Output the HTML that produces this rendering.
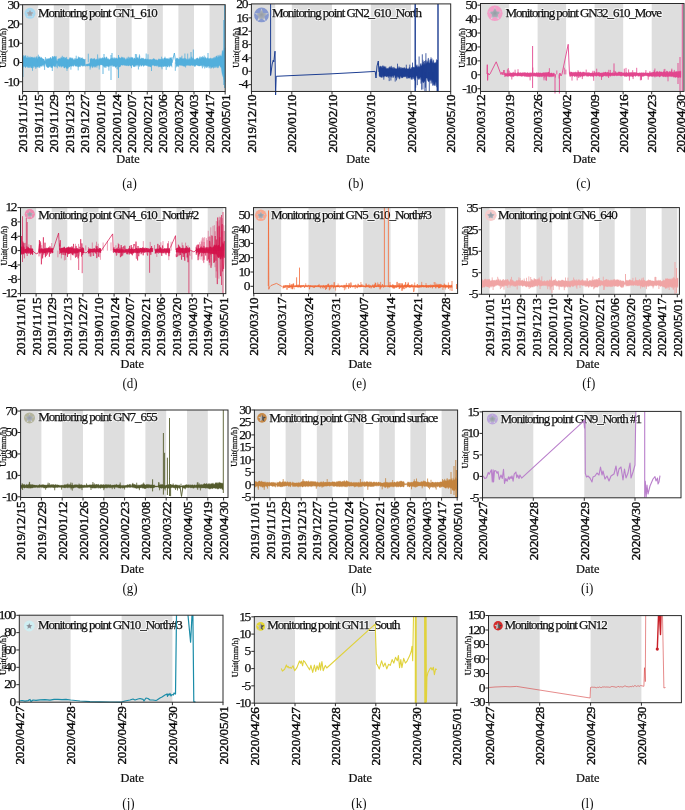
<!DOCTYPE html><html><head><meta charset="utf-8"><style>html,body{margin:0;padding:0;background:#fff;}svg{display:block;will-change:transform;}text{font-family:"Liberation Serif",serif;}.t{fill:#111;stroke:#111;stroke-width:0.25px;}.t2{fill:#0a0a0a;stroke:#0a0a0a;stroke-width:0.38px;}</style></head><body>
<svg width="685" height="810" viewBox="0 0 685 810">
<defs><radialGradient id="sgA" cx="0.5" cy="0.5" r="0.5"><stop offset="0" stop-color="#959ba4"/><stop offset="0.6" stop-color="#a9afb8"/><stop offset="1" stop-color="#dfe2e6"/></radialGradient><linearGradient id="sgB" x1="0" y1="0" x2="1" y2="0"><stop offset="0" stop-color="#e2e2e2"/><stop offset="0.5" stop-color="#a8a8a8"/><stop offset="0.5" stop-color="#6a6a6a"/><stop offset="1" stop-color="#2a2a2a"/></linearGradient><radialGradient id="sgC" cx="0.5" cy="0.5" r="0.5"><stop offset="0" stop-color="#80858e"/><stop offset="1" stop-color="#a4a8b0"/></radialGradient>
<clipPath id="ca"><rect x="22.6" y="4.2" width="202.6" height="92.8"/></clipPath>
<clipPath id="cb"><rect x="251.4" y="3.4" width="199.29999999999998" height="93.55"/></clipPath>
<clipPath id="cc"><rect x="480.5" y="3.0" width="203.5" height="93.95"/></clipPath>
<clipPath id="cd"><rect x="20.5" y="207.1" width="205.3" height="92.00000000000003"/></clipPath>
<clipPath id="ce"><rect x="253.5" y="207.1" width="204.10000000000002" height="91.85"/></clipPath>
<clipPath id="cf"><rect x="481.5" y="207.1" width="197.89999999999998" height="92.70000000000002"/></clipPath>
<clipPath id="cg"><rect x="20.6" y="409.5" width="207.4" height="93.5"/></clipPath>
<clipPath id="ch"><rect x="254.4" y="409.5" width="203.20000000000002" height="93.60000000000002"/></clipPath>
<clipPath id="ci"><rect x="482.5" y="410.9" width="198.5" height="92.40000000000003"/></clipPath>
<clipPath id="cj"><rect x="19.3" y="614.7" width="203.7" height="93.0"/></clipPath>
<clipPath id="ck"><rect x="254.3" y="616.1" width="202.7" height="92.60000000000002"/></clipPath>
<clipPath id="cl"><rect x="488.5" y="615.1" width="192.89999999999998" height="93.10000000000002"/></clipPath>
</defs>
<rect x="22.60" y="4.70" width="15.58" height="86.80" fill="#dedede"/>
<rect x="53.76" y="4.70" width="15.58" height="86.80" fill="#dedede"/>
<rect x="84.92" y="4.70" width="15.58" height="86.80" fill="#dedede"/>
<rect x="116.08" y="4.70" width="15.58" height="86.80" fill="#dedede"/>
<rect x="147.24" y="4.70" width="15.58" height="86.80" fill="#dedede"/>
<rect x="178.40" y="4.70" width="15.58" height="86.80" fill="#dedede"/>
<rect x="209.56" y="4.70" width="15.58" height="86.80" fill="#dedede"/>
<circle cx="30" cy="13.3" r="5.5" fill="#a8d8ef"/>
<path d="M30.00,9.25 31.14,12.09 34.18,12.29 31.84,14.25 32.59,17.21 30.00,15.59 27.41,17.21 28.16,14.25 25.82,12.29 28.86,12.09Z" fill="url(#sgA)"/>
<text x="38.1" y="16.6" font-size="13" letter-spacing="-1.05" fill="#fff" stroke="#fff" stroke-width="2.2" stroke-opacity="0.7" stroke-linejoin="round">Monitoring point GN1_610</text>
<text x="38.1" y="16.6" font-size="13" letter-spacing="-1.05" class="t">Monitoring point GN1_610</text>
<path d="M22.8,57.4 23.3,57.2 23.8,55 24.3,57 24.8,55.9 25.3,56.2 25.8,55.1 26.3,57.3 26.8,57.7 27.3,57.9 27.8,55.7 28.3,57.3 28.8,57.4 29.3,57.7 29.8,56.7 30.3,56.7 30.8,58.3 31.3,57.1 31.8,57.2 32.3,56.9 32.8,57.8 33.3,57.4 33.8,57.8 34.3,58.2 34.8,56.7 35.3,58.7 35.8,57.3 36.3,58 36.8,56.4 37.3,58.8 37.8,58.4 38.3,56.9 38.8,57 39.3,57 39.8,56.3 40.3,57.9 40.8,57.5 41.3,57.1 41.8,58 42.3,58.6 42.8,58.6 43.3,59 43.8,59 44.3,59.8 44.8,61 45.3,61.5 45.8,59.3 46.3,58.4 46.8,59.8 47.3,58.9 47.8,58.5 48.3,58.5 48.8,58.7 49.3,58.7 49.8,57.9 50.3,57.8 50.8,57.1 51.3,58.4 51.8,58.8 52.3,56.6 52.8,56.1 53.3,56.8 53.8,57.5 54.3,56.2 54.8,56.1 55.3,57.6 55.8,56.3 56.3,56.3 56.8,60.5 57.3,61.2 57.8,59.3 58.3,58.8 58.8,58.7 59.3,58.6 59.8,58.6 60.3,58.8 60.8,57.5 61.3,58 61.8,56.9 62.3,55.7 62.8,58.4 63.3,56.8 63.8,57.6 64.3,56.9 64.8,58.6 65.3,57.9 65.8,57.5 66.3,59.3 66.8,58.4 67.3,59.6 67.8,58.9 68.3,59.5 68.8,59.6 69.3,58.5 69.8,57.4 70.3,57.5 70.8,58.3 71.3,58.7 71.8,57.6 72.3,59.3 72.8,57.8 73.3,59.4 73.8,59.4 74.3,59.7 74.8,58.3 75.3,59.7 75.8,58.2 76.3,59.3 76.8,59 77.3,59 77.8,58.5 78.3,56.4 78.8,57.7 79.3,57.1 79.8,58.3 80.3,57.4 80.8,58.9 81.3,57.9 81.8,57.9 82.3,57.6 82.8,58.8 83.3,58.9 83.8,59 84.3,59.3 84.8,59.4 85.3,59 85.3,66.5 84.8,66.2 84.3,65.6 83.8,65.7 83.3,66.2 82.8,66.6 82.3,65.7 81.8,65.8 81.3,65.5 80.8,65.6 80.3,66.9 79.8,66.6 79.3,66.6 78.8,67.2 78.3,66.8 77.8,65.4 77.3,67.1 76.8,66.6 76.3,66.1 75.8,65.9 75.3,66.4 74.8,65.8 74.3,64.6 73.8,65.9 73.3,66.5 72.8,66.2 72.3,65.4 71.8,66.4 71.3,66.3 70.8,66.1 70.3,66.1 69.8,67 69.3,67 68.8,66.6 68.3,68.2 67.8,68.4 67.3,68.5 66.8,68.2 66.3,68.6 65.8,66.8 65.3,67.3 64.8,68 64.3,68.1 63.8,67.7 63.3,66 62.8,66.4 62.3,66.3 61.8,66.4 61.3,67.6 60.8,65.5 60.3,66.4 59.8,67.2 59.3,66.2 58.8,65.4 58.3,66.2 57.8,66.5 57.3,63.3 56.8,63.4 56.3,67 55.8,67.2 55.3,65.8 54.8,65.9 54.3,67.2 53.8,66.3 53.3,65.4 52.8,66.4 52.3,67.9 51.8,67.4 51.3,67.7 50.8,67.6 50.3,66.2 49.8,66.8 49.3,66.4 48.8,67.9 48.3,67.3 47.8,67.2 47.3,67.9 46.8,65.4 46.3,67 45.8,65.2 45.3,63.4 44.8,63.7 44.3,66.3 43.8,66.4 43.3,64.8 42.8,65.1 42.3,65.9 41.8,66.7 41.3,65.7 40.8,66.1 40.3,66.5 39.8,68.1 39.3,66.5 38.8,67.8 38.3,65.9 37.8,67.1 37.3,67.3 36.8,66.6 36.3,68.1 35.8,68.9 35.3,67 34.8,66.7 34.3,66 33.8,67.9 33.3,66 32.8,66.2 32.3,68.3 31.8,67.9 31.3,68 30.8,66.3 30.3,67.4 29.8,67.9 29.3,66.2 28.8,67.9 28.3,66.6 27.8,67.4 27.3,65.5 26.8,67 26.3,65.7 25.8,67.8 25.3,67.5 24.8,67.1 24.3,66.1 23.8,66.4 23.3,66.9 22.8,68.2Z" fill="#52afdc" fill-opacity="1" stroke="#52afdc" stroke-width="0.3" stroke-opacity="1"/>
<path d="M85.5,64.3 86,64.3 86.5,64.2 87,64.1 87.5,64 88,63.8 88.5,63.7 89,63.6 89.5,63.5 90,63.7 90,66.1 89.5,65.9 89,66.1 88.5,65.8 88,65.9 87.5,66.3 87,65.8 86.5,66 86,65.8 85.5,65.9Z" fill="#52afdc" fill-opacity="1" stroke="#52afdc" stroke-width="0.3" stroke-opacity="1"/>
<path d="M90,59 90.5,59.2 91,58.1 91.5,58.8 92,58.5 92.5,59.4 93,58.6 93.5,59.1 94,58.6 94.5,58.3 95,59 95.5,59.7 96,59.5 96.5,59.3 97,58.7 97.5,59.8 98,59.6 98.5,59.2 99,57.7 99.5,58.7 100,59 100.5,57.7 101,59.3 101.5,57.9 102,58.5 102.5,57.5 103,58.1 103.5,58.8 104,57.4 104.5,57.5 105,57.6 105.5,59 106,56.8 106.5,56.9 107,57.6 107.5,59.3 108,58.4 108.5,58.8 109,59.7 109.5,59.7 110,58.8 110.5,59.3 111,57.9 111.5,58.3 112,58.6 112.5,58.2 113,57.5 113.5,59.3 114,57.4 114.5,57.8 115,59.2 115.5,57.7 116,58.7 116.5,57.7 117,58.2 117.5,58.7 118,58.6 118.5,56.8 119,56.8 119.5,57.4 120,58 120.5,58.2 121,58 121.5,56.7 122,58 122.5,56.9 123,58.2 123.5,57.4 124,58.9 124.5,57.6 125,58.2 125.5,59.5 126,59.5 126.5,58.7 127,57.5 127.5,58.2 128,59.3 128.5,59.3 129,57.4 129.5,58.4 130,57.2 130.5,58.7 131,56.8 131.5,57.5 132,58 132.5,57.5 133,57.4 133.5,59.5 134,58.3 134.5,57.8 135,58.5 135.5,59.2 136,58.7 136.5,57.4 137,57.5 137.5,57.4 138,57.9 138.5,58.9 139,56.6 139.5,59 140,58.8 140.5,58.8 141,59 141.5,57.8 142,58.6 142.5,57.9 143,58.4 143.5,58 144,59.2 144.5,59.2 145,58.7 145.5,59 146,58.8 146.5,60 147,58.8 147.5,59 148,59.4 148.5,59.2 149,59.6 149.5,59.8 150,59.1 150.5,60 151,59 151.5,60 152,59.8 152.5,59.3 153,58.7 153.5,58.6 154,59 154.5,58.8 155,59.5 155.5,59.8 156,59.9 156.5,59.6 157,60.2 157.5,60.2 158,60.1 158.5,58.9 159,58.8 159.5,59.5 160,58.7 160.5,59.4 161,59 161.5,59.8 162,58.7 162.5,58.4 163,59.8 163.5,59 164,58 164.5,58.1 165,58 165.5,58.3 166,58.9 166.5,58.7 167,58 167.5,58.8 168,59 168.5,59.3 169,57.7 169.5,59.4 170,57.6 170.5,58.1 171,57.6 171.5,59.3 172,57.1 172,67.3 171.5,65.5 171,66 170.5,65.3 170,66.4 169.5,67.3 169,65.7 168.5,65.5 168,67.1 167.5,66.9 167,66.6 166.5,65.9 166,66.2 165.5,66.5 165,66.3 164.5,66.1 164,66.9 163.5,66.3 163,67 162.5,65.6 162,66.9 161.5,67.2 161,66 160.5,67 160,66.6 159.5,67.1 159,66.6 158.5,67.3 158,65.5 157.5,65.5 157,66.5 156.5,65.5 156,66.2 155.5,65.5 155,66.2 154.5,66 154,65.5 153.5,65 153,65.7 152.5,64.9 152,65.5 151.5,65.7 151,66.9 150.5,67.1 150,66.6 149.5,66.5 149,66.4 148.5,66.5 148,66.1 147.5,66.2 147,65 146.5,66 146,65.3 145.5,64.9 145,65.8 144.5,64.9 144,66.2 143.5,66.4 143,65.2 142.5,65 142,65.8 141.5,66.1 141,66.5 140.5,64.9 140,64.8 139.5,66.7 139,65.9 138.5,64.7 138,65.4 137.5,64.8 137,66.6 136.5,64.9 136,65.5 135.5,65.7 135,67 134.5,66.7 134,65.9 133.5,67 133,65.9 132.5,64.9 132,65.2 131.5,65.3 131,66.3 130.5,66.1 130,65.5 129.5,65 129,65.9 128.5,66.1 128,65.4 127.5,65.6 127,65.4 126.5,66.1 126,65.3 125.5,65.8 125,64.7 124.5,65.7 124,64.8 123.5,64.9 123,65.6 122.5,65.2 122,65 121.5,65 121,65.3 120.5,66.4 120,66.7 119.5,67.1 119,67.1 118.5,67 118,65.2 117.5,65.9 117,66.6 116.5,67 116,67.3 115.5,67.7 115,66.7 114.5,66.3 114,66 113.5,66.1 113,67 112.5,65.5 112,65.4 111.5,65.6 111,65.8 110.5,65.7 110,65.6 109.5,66.1 109,66.9 108.5,66.3 108,66.9 107.5,66.1 107,66.2 106.5,65.9 106,68 105.5,67.3 105,66 104.5,67.4 104,67.2 103.5,66.1 103,65.7 102.5,65 102,65.2 101.5,64.7 101,65.1 100.5,64.7 100,65.1 99.5,66.3 99,65.3 98.5,65.3 98,65.2 97.5,65.6 97,66 96.5,65.8 96,66.6 95.5,66.7 95,67.6 94.5,65.9 94,67.4 93.5,65.9 93,66.5 92.5,67.9 92,67.6 91.5,66.3 91,65.6 90.5,67.6 90,67.3Z" fill="#52afdc" fill-opacity="1" stroke="#52afdc" stroke-width="0.3" stroke-opacity="1"/>
<path d="M172,63 174.4,53 176,64" fill="none" stroke="#52afdc" stroke-width="0.9" stroke-opacity="1" stroke-linejoin="round"/>
<path d="M176,58.7 176.5,58.3 177,58.1 177.5,58.1 178,58.9 178.5,58.7 179,59.4 179.5,58.2 180,57 180.5,58.1 181,58.2 181.5,57.4 182,59.3 182.5,58.4 183,59 183.5,58.7 184,57.9 184.5,57.9 185,59.7 185.5,58.1 186,59.5 186.5,59.2 187,58.7 187.5,59.7 188,59.9 188.5,59.1 189,58.4 189.5,59.6 190,57.6 190.5,59.3 191,59.2 191.5,57.1 192,58.4 192.5,58.5 193,57.7 193.5,58.2 194,59 194.5,59.5 195,59.5 195.5,59.4 196,58.4 196.5,58.7 197,57.8 197.5,58.2 198,57.8 198.5,59.2 199,58.7 199.5,57.6 200,56.4 200.5,58.5 201,58.4 201.5,56.9 202,58.5 202.5,56.2 203,56.8 203.5,58.1 204,57 204.5,58.5 205,58.2 205.5,56.7 206,58 206.5,58.5 207,58.4 207.5,57.6 208,58.2 208.5,58.4 209,59.1 209.5,58.2 210,58.9 210.5,58 211,57.8 211.5,58.5 212,59.4 212.5,57.9 213,58.6 213.5,57.5 214,58.7 214.5,57.4 215,56.7 215.5,58.3 216,56.2 216.5,55.9 217,56.3 217.5,58 218,54.9 218.5,57.3 219,55.6 219.5,56.9 220,54.6 220.5,56.1 221,56 221,67.1 220.5,67.3 220,66.3 219.5,65.4 219,65.6 218.5,67.6 218,67.4 217.5,68.2 217,65.8 216.5,67.3 216,67.5 215.5,67.5 215,66 214.5,67.9 214,65.9 213.5,68.4 213,68 212.5,67 212,67 211.5,67.9 211,68.6 210.5,66 210,68.4 209.5,66 209,68.3 208.5,65.9 208,66.1 207.5,67.3 207,67.2 206.5,67.9 206,65.5 205.5,67.4 205,66 204.5,65.5 204,66.6 203.5,66.6 203,65.1 202.5,65.4 202,66.5 201.5,65.2 201,66.1 200.5,65.5 200,65.9 199.5,66.1 199,65.9 198.5,65.8 198,66.1 197.5,65.5 197,65.3 196.5,65.1 196,65.3 195.5,66.4 195,65.7 194.5,66.8 194,65.5 193.5,65.2 193,65.9 192.5,65.2 192,65.7 191.5,65.1 191,65.1 190.5,65.9 190,65.7 189.5,65.8 189,65.1 188.5,65.7 188,65.1 187.5,65 187,66 186.5,65.2 186,65.1 185.5,65.8 185,66.4 184.5,66.1 184,66.6 183.5,66.1 183,65.8 182.5,66 182,65 181.5,65.7 181,65.3 180.5,65.4 180,65.2 179.5,65.3 179,65.1 178.5,67.1 178,66.1 177.5,65.8 177,66.8 176.5,65.6 176,67.6Z" fill="#52afdc" fill-opacity="1" stroke="#52afdc" stroke-width="0.3" stroke-opacity="1"/>
<path d="M221,56.2 221.4,56.4 221.8,54.4 222.2,50.8 222.6,51.5 223,49.9 223.4,52.3 223.8,51.1 224.2,48.1 224.6,50.9 225,47.7 225,82 224.6,78.5 224.2,75.7 223.8,79.9 223.4,77.2 223,76.9 222.6,75.5 222.2,74.3 221.8,71.9 221.4,68.9 221,67Z" fill="#52afdc" fill-opacity="1" stroke="#52afdc" stroke-width="0.3" stroke-opacity="1"/>
<path d="M38.3,62.3V54.7M117.1,62.3V69.1M181.9,62.3V55.7M201,62.3V56.9M108.9,62.3V70.7M131.5,62.3V68.2M204.7,62.3V68.5M139.4,62.3V54.4M146.2,62.3V53.5M166.2,62.3V69.9M128.3,62.3V56.7M204.2,62.3V55.5M118,62.3V69.7M57.3,62.3V68.3M67,62.3V70.9M44.6,62.3V69.9M45.4,62.3V57.1M66.6,62.3V56.9M162,62.3V69.3M148,62.3V54.3M187.7,62.3V53.6M202.4,62.3V68.3M32.5,62.3V70.8M184.9,62.3V53.5M185.6,62.3V67.5M76.2,62.3V55.7M139.7,62.3V55.7M36.9,62.3V56.5M151.5,62.3V71M138.4,62.3V69.5M165,62.3V56.7M136.6,62.3V54.2M97.6,62.3V54.4M90.1,62.3V69.6M78.2,62.3V70.4M135.4,62.3V54M88.3,62.3V53.7M96.9,62.3V67.6M70.9,62.3V69.7M175.3,62.3V70.8M99.2,62.3V69.5M52.3,62.3V71M161.6,62.3V56.7M191.7,62.3V56.6M27.7,62.3V67.4" fill="none" stroke="#52afdc" stroke-width="0.8" stroke-opacity="1" stroke-linejoin="round"/>
<path d="M22.9,56V77M103,62V74M111,55V80M118.5,55V78M193.3,49.5V63M191,52V63M208,53V63M224.6,5V88M223.8,20V85M104,54V62M112,53V62" fill="none" stroke="#52afdc" stroke-width="0.9" stroke-opacity="1" stroke-linejoin="round"/>
<rect x="22.6" y="4.7" width="202.60" height="86.80" fill="none" stroke="#2a2a2a" stroke-width="1"/>
<line x1="19.6" y1="4.75" x2="22.6" y2="4.75" stroke="#2a2a2a" stroke-width="1"/>
<text x="18.3" y="8.55" font-size="13.5" letter-spacing="-1.35" text-anchor="end" class="t">30</text>
<line x1="19.6" y1="24.00" x2="22.6" y2="24.00" stroke="#2a2a2a" stroke-width="1"/>
<text x="18.3" y="27.80" font-size="13.5" letter-spacing="-1.35" text-anchor="end" class="t">20</text>
<line x1="19.6" y1="43.25" x2="22.6" y2="43.25" stroke="#2a2a2a" stroke-width="1"/>
<text x="18.3" y="47.05" font-size="13.5" letter-spacing="-1.35" text-anchor="end" class="t">10</text>
<line x1="19.6" y1="62.50" x2="22.6" y2="62.50" stroke="#2a2a2a" stroke-width="1"/>
<text x="18.3" y="66.30" font-size="13.5" letter-spacing="-1.35" text-anchor="end" class="t">0</text>
<line x1="19.6" y1="81.75" x2="22.6" y2="81.75" stroke="#2a2a2a" stroke-width="1"/>
<text x="18.3" y="85.55" font-size="13.5" letter-spacing="-1.35" text-anchor="end" class="t">-10</text>
<line x1="22.60" y1="91.5" x2="22.60" y2="94.5" stroke="#2a2a2a" stroke-width="1"/>
<text transform="translate(27.10,94.50) rotate(-90)" font-size="13.25" letter-spacing="-0.2" text-anchor="end" class="t2">2019/11/15</text>
<line x1="38.18" y1="91.5" x2="38.18" y2="94.5" stroke="#2a2a2a" stroke-width="1"/>
<text transform="translate(42.68,94.50) rotate(-90)" font-size="13.25" letter-spacing="-0.2" text-anchor="end" class="t2">2019/11/15</text>
<line x1="53.76" y1="91.5" x2="53.76" y2="94.5" stroke="#2a2a2a" stroke-width="1"/>
<text transform="translate(58.26,94.50) rotate(-90)" font-size="13.25" letter-spacing="-0.2" text-anchor="end" class="t2">2019/11/29</text>
<line x1="69.34" y1="91.5" x2="69.34" y2="94.5" stroke="#2a2a2a" stroke-width="1"/>
<text transform="translate(73.84,94.50) rotate(-90)" font-size="13.25" letter-spacing="-0.2" text-anchor="end" class="t2">2019/12/13</text>
<line x1="84.92" y1="91.5" x2="84.92" y2="94.5" stroke="#2a2a2a" stroke-width="1"/>
<text transform="translate(89.42,94.50) rotate(-90)" font-size="13.25" letter-spacing="-0.2" text-anchor="end" class="t2">2019/12/27</text>
<line x1="100.50" y1="91.5" x2="100.50" y2="94.5" stroke="#2a2a2a" stroke-width="1"/>
<text transform="translate(105.00,94.50) rotate(-90)" font-size="13.25" letter-spacing="-0.2" text-anchor="end" class="t2">2020/01/10</text>
<line x1="116.08" y1="91.5" x2="116.08" y2="94.5" stroke="#2a2a2a" stroke-width="1"/>
<text transform="translate(120.58,94.50) rotate(-90)" font-size="13.25" letter-spacing="-0.2" text-anchor="end" class="t2">2020/01/24</text>
<line x1="131.66" y1="91.5" x2="131.66" y2="94.5" stroke="#2a2a2a" stroke-width="1"/>
<text transform="translate(136.16,94.50) rotate(-90)" font-size="13.25" letter-spacing="-0.2" text-anchor="end" class="t2">2020/02/07</text>
<line x1="147.24" y1="91.5" x2="147.24" y2="94.5" stroke="#2a2a2a" stroke-width="1"/>
<text transform="translate(151.74,94.50) rotate(-90)" font-size="13.25" letter-spacing="-0.2" text-anchor="end" class="t2">2020/02/21</text>
<line x1="162.82" y1="91.5" x2="162.82" y2="94.5" stroke="#2a2a2a" stroke-width="1"/>
<text transform="translate(167.32,94.50) rotate(-90)" font-size="13.25" letter-spacing="-0.2" text-anchor="end" class="t2">2020/03/06</text>
<line x1="178.40" y1="91.5" x2="178.40" y2="94.5" stroke="#2a2a2a" stroke-width="1"/>
<text transform="translate(182.90,94.50) rotate(-90)" font-size="13.25" letter-spacing="-0.2" text-anchor="end" class="t2">2020/03/20</text>
<line x1="193.98" y1="91.5" x2="193.98" y2="94.5" stroke="#2a2a2a" stroke-width="1"/>
<text transform="translate(198.48,94.50) rotate(-90)" font-size="13.25" letter-spacing="-0.2" text-anchor="end" class="t2">2020/04/03</text>
<line x1="209.56" y1="91.5" x2="209.56" y2="94.5" stroke="#2a2a2a" stroke-width="1"/>
<text transform="translate(214.06,94.50) rotate(-90)" font-size="13.25" letter-spacing="-0.2" text-anchor="end" class="t2">2020/04/17</text>
<line x1="225.14" y1="91.5" x2="225.14" y2="94.5" stroke="#2a2a2a" stroke-width="1"/>
<text transform="translate(229.64,94.50) rotate(-90)" font-size="13.25" letter-spacing="-0.2" text-anchor="end" class="t2">2020/05/01</text>
<text transform="translate(6.40,48.00) rotate(-90)" font-size="8.3" text-anchor="middle" class="t">Unit(mm/h)</text>
<text transform="translate(128,163.3) scale(0.93,1)" font-size="13.3" text-anchor="middle" class="t">Date</text>
<text transform="translate(129.5,188.3) scale(0.92,1)" font-size="14.2" text-anchor="middle" fill="#111">(a)</text>
<rect x="251.50" y="3.90" width="23.70" height="87.55" fill="#dedede"/>
<rect x="291.80" y="3.90" width="40.20" height="87.55" fill="#dedede"/>
<rect x="370.80" y="3.90" width="40.20" height="87.55" fill="#dedede"/>
<circle cx="261.5" cy="14.9" r="7.4" fill="#8799d0"/>
<path d="M261.50,8.57 263.28,13.00 268.05,13.32 264.38,16.39 265.55,21.02 261.50,18.48 257.45,21.02 258.62,16.39 254.95,13.32 259.72,13.00Z" fill="url(#sgA)"/>
<text x="271.9" y="16.5" font-size="13" letter-spacing="-1.05" fill="#fff" stroke="#fff" stroke-width="2.2" stroke-opacity="0.7" stroke-linejoin="round">Monitoring point GN2_610_North</text>
<text x="271.9" y="16.5" font-size="13" letter-spacing="-1.05" class="t">Monitoring point GN2_610_North</text>
<path d="M270.6,4 270.6,75.5 272.2,64 273.3,60 273.8,62 275,51.2 275.6,95 276.2,76.3 300,75.2 330,73.9 360,72.3 375.2,71.4 376,78 377,66 378.3,61 379,72" fill="none" stroke="#1d3e92" stroke-width="1.0" stroke-opacity="1" stroke-linejoin="round"/>
<path d="M379,66 379.5,67.9 380,66.8 380.5,65.9 381,66.3 381.5,66.5 382,67.7 382.5,68.2 383,65.6 383.5,67.4 384,65.8 384.5,67.3 385,66.5 385.5,67.7 386,68.6 386.5,68.4 387,68.4 387.5,67.9 388,69 388.5,68.1 389,67.2 389.5,67.6 390,66.2 390.5,67.3 391,68 391.5,65.8 392,68.6 392.5,68 393,67 393.5,68.9 394,66.9 394.5,68.4 395,68 395.5,69 396,68.4 396.5,69 397,68.4 397.5,67.3 398,68.4 398.5,68 399,66.2 399.5,68 400,67.2 400.5,67.5 401,69 401.5,67.4 402,68.1 402.5,68.3 403,67.5 403.5,68.1 404,68.6 404.5,67.3 405,68.4 405.5,69.1 406,67.7 406.5,68 407,69 407.5,68.7 408,69 408.5,68.9 409,67.6 409.5,67.2 410,69 410.5,68.7 411,69.1 411.5,67.3 412,68.1 412.5,66.8 413,66.8 413.5,67.3 414,67.5 414.5,67.7 415,67.1 415,79 414.5,80.5 414,77.8 413.5,79 413,76.6 412.5,79.5 412,78.1 411.5,79.4 411,79.4 410.5,77.3 410,77 409.5,77.9 409,77.3 408.5,77.9 408,78 407.5,78.6 407,76.1 406.5,78.6 406,77.2 405.5,76.4 405,76.7 404.5,77.1 404,76.5 403.5,77.2 403,76.8 402.5,77.9 402,77.3 401.5,78.1 401,76.6 400.5,76.5 400,78.8 399.5,79.2 399,77.6 398.5,76.8 398,78.6 397.5,77 397,76.2 396.5,76.9 396,75.6 395.5,77.9 395,76.8 394.5,75.2 394,75.2 393.5,76.7 393,76.9 392.5,75.8 392,76 391.5,77.6 391,76.4 390.5,76 390,77.3 389.5,75.9 389,75.7 388.5,76.2 388,76.8 387.5,76 387,76.8 386.5,76.7 386,76.7 385.5,76.2 385,76 384.5,76.2 384,76.2 383.5,76.9 383,75.2 382.5,77.3 382,77.4 381.5,77.3 381,77.6 380.5,77 380,76.4 379.5,76.7 379,75.2Z" fill="#1d3e92" fill-opacity="1" stroke="#1d3e92" stroke-width="0.3" stroke-opacity="1"/>
<path d="M415,66.6 415.5,66.2 416,64.9 416.5,66.6 417,64.5 417.5,66.2 418,67.4 418.5,65.7 419,67.4 419.5,66.6 420,66.7 420.5,64 421,65.3 421.5,65.9 422,64.4 422.5,63.8 423,59.8 423.5,64.2 424,65 424.5,63.1 425,64.9 425.5,60.8 426,59.9 426.5,63.8 427,61.1 427.5,62.7 428,58.2 428.5,58.2 429,63.6 429.5,62.6 430,59.7 430.5,61.6 431,57.2 431.5,61.5 432,58.4 432.5,63.3 433,60.8 433.5,59.7 434,63.4 434.5,62.7 435,62.8 435.5,62.3 436,63.8 436.5,59.2 437,62.6 437.5,61.1 437.5,87.3 437,84.2 436.5,87.2 436,81.6 435.5,84.4 435,86 434.5,84.2 434,85.8 433.5,84 433,79.7 432.5,82 432,83.3 431.5,81.2 431,79.5 430.5,79.9 430,80.9 429.5,79.2 429,82.1 428.5,81.4 428,81.2 427.5,80 427,77.9 426.5,77.9 426,78.2 425.5,79.5 425,82.1 424.5,81.3 424,81.2 423.5,83.1 423,81.9 422.5,80.7 422,82.5 421.5,79.9 421,77.6 420.5,77.6 420,79.8 419.5,78.1 419,78.9 418.5,79.7 418,78 417.5,78.4 417,75.9 416.5,75.7 416,77.7 415.5,77 415,76.3Z" fill="#1d3e92" fill-opacity="1" stroke="#1d3e92" stroke-width="0.3" stroke-opacity="1"/>
<path d="M389.2,72V81.1M409.1,72V78.6M395.7,72V78.2M402.2,72V78.1M397.5,72V63.7M395.2,72V81.6M396.5,72V80.4M385.8,72V66.6M388.3,72V77.8M393.1,72V78M406.3,72V64.7M412.5,72V62.6M409.2,72V77.7M383.8,72V79.7M409.8,72V64.6M383.9,72V77.4M382.6,72V65.7M390.9,72V80.5" fill="none" stroke="#1d3e92" stroke-width="0.8" stroke-opacity="1" stroke-linejoin="round"/>
<path d="M433.6,72V82.1M421.6,72V89.7M435,72V63.1M432.7,72V85.7M422.3,72V54.3M421,72V83.6M415.7,72V59.7M425.9,72V53.2M422.9,72V89.4M423.3,72V82.5M417.3,72V85.2M419.1,72V56.5M424.9,72V91.3M431,72V83.6M436.6,72V80.2M429.3,72V91.5M415.7,72V87.7M433.3,72V84.7M415.3,72V80.2M431,72V59M425.4,72V87.7M424.4,72V61M423.4,72V61.8M426.1,72V91.6M420.9,72V63.2" fill="none" stroke="#1d3e92" stroke-width="0.8" stroke-opacity="1" stroke-linejoin="round"/>
<path d="M415.2,3.9V91M438,3.9V92M437.3,60V92" fill="none" stroke="#1d3e92" stroke-width="1.4" stroke-opacity="1" stroke-linejoin="round"/>
<rect x="251.4" y="3.9" width="199.30" height="87.55" fill="none" stroke="#2a2a2a" stroke-width="1"/>
<line x1="248.4" y1="4.55" x2="251.4" y2="4.55" stroke="#2a2a2a" stroke-width="1"/>
<text x="247.1" y="8.35" font-size="13.5" letter-spacing="-1.35" text-anchor="end" class="t">20</text>
<line x1="248.4" y1="17.90" x2="251.4" y2="17.90" stroke="#2a2a2a" stroke-width="1"/>
<text x="247.1" y="21.70" font-size="13.5" letter-spacing="-1.35" text-anchor="end" class="t">16</text>
<line x1="248.4" y1="31.25" x2="251.4" y2="31.25" stroke="#2a2a2a" stroke-width="1"/>
<text x="247.1" y="35.05" font-size="13.5" letter-spacing="-1.35" text-anchor="end" class="t">12</text>
<line x1="248.4" y1="44.60" x2="251.4" y2="44.60" stroke="#2a2a2a" stroke-width="1"/>
<text x="247.1" y="48.40" font-size="13.5" letter-spacing="-1.35" text-anchor="end" class="t">8</text>
<line x1="248.4" y1="57.95" x2="251.4" y2="57.95" stroke="#2a2a2a" stroke-width="1"/>
<text x="247.1" y="61.75" font-size="13.5" letter-spacing="-1.35" text-anchor="end" class="t">4</text>
<line x1="248.4" y1="71.30" x2="251.4" y2="71.30" stroke="#2a2a2a" stroke-width="1"/>
<text x="247.1" y="75.10" font-size="13.5" letter-spacing="-1.35" text-anchor="end" class="t">0</text>
<line x1="248.4" y1="84.65" x2="251.4" y2="84.65" stroke="#2a2a2a" stroke-width="1"/>
<text x="247.1" y="88.45" font-size="13.5" letter-spacing="-1.35" text-anchor="end" class="t">-4</text>
<line x1="251.50" y1="91.45" x2="251.50" y2="94.45" stroke="#2a2a2a" stroke-width="1"/>
<text transform="translate(256.00,94.45) rotate(-90)" font-size="13.25" letter-spacing="-0.2" text-anchor="end" class="t2">2019/12/10</text>
<line x1="291.80" y1="91.45" x2="291.80" y2="94.45" stroke="#2a2a2a" stroke-width="1"/>
<text transform="translate(296.30,94.45) rotate(-90)" font-size="13.25" letter-spacing="-0.2" text-anchor="end" class="t2">2020/01/10</text>
<line x1="332.00" y1="91.45" x2="332.00" y2="94.45" stroke="#2a2a2a" stroke-width="1"/>
<text transform="translate(336.50,94.45) rotate(-90)" font-size="13.25" letter-spacing="-0.2" text-anchor="end" class="t2">2020/02/10</text>
<line x1="370.80" y1="91.45" x2="370.80" y2="94.45" stroke="#2a2a2a" stroke-width="1"/>
<text transform="translate(375.30,94.45) rotate(-90)" font-size="13.25" letter-spacing="-0.2" text-anchor="end" class="t2">2020/03/10</text>
<line x1="411.00" y1="91.45" x2="411.00" y2="94.45" stroke="#2a2a2a" stroke-width="1"/>
<text transform="translate(415.50,94.45) rotate(-90)" font-size="13.25" letter-spacing="-0.2" text-anchor="end" class="t2">2020/04/10</text>
<line x1="450.70" y1="91.45" x2="450.70" y2="94.45" stroke="#2a2a2a" stroke-width="1"/>
<text transform="translate(455.20,94.45) rotate(-90)" font-size="13.25" letter-spacing="-0.2" text-anchor="end" class="t2">2020/05/10</text>
<text transform="translate(239.00,48.00) rotate(-90)" font-size="8.3" text-anchor="middle" class="t">Unit(mm/h)</text>
<text transform="translate(358,163.4) scale(0.93,1)" font-size="13.3" text-anchor="middle" class="t">Date</text>
<text transform="translate(355.9,187.5) scale(0.92,1)" font-size="14.2" text-anchor="middle" fill="#111">(b)</text>
<rect x="480.50" y="3.50" width="28.50" height="87.95" fill="#dedede"/>
<rect x="537.60" y="3.50" width="28.50" height="87.95" fill="#dedede"/>
<rect x="594.60" y="3.50" width="28.60" height="87.95" fill="#dedede"/>
<rect x="651.70" y="3.50" width="32.30" height="87.95" fill="#dedede"/>
<circle cx="494.9" cy="13.3" r="7.7" fill="#f2a0c8"/>
<path d="M494.90,7.07 496.65,11.43 501.34,11.75 497.74,14.76 498.88,19.32 494.90,16.82 490.92,19.32 492.06,14.76 488.46,11.75 493.15,11.43Z" fill="url(#sgA)"/>
<text x="505.4" y="16.5" font-size="13" letter-spacing="-1.05" fill="#fff" stroke="#fff" stroke-width="2.2" stroke-opacity="0.7" stroke-linejoin="round">Monitoring point GN32_610_Move</text>
<text x="505.4" y="16.5" font-size="13" letter-spacing="-1.05" class="t">Monitoring point GN32_610_Move</text>
<path d="M487,74 487.3,64.7 487.6,80.4 488,73 489,75 490,74 496.2,61.8 501,74.5 502,72 503,75 504,70 504.5,75" fill="none" stroke="#e2468e" stroke-width="0.9" stroke-opacity="1" stroke-linejoin="round"/>
<path d="M504.5,72.9 505,73.5 505.5,72.8 506,73.5 506.5,73.2 507,73.5 507.5,73 508,73.5 508.5,72.9 509,73.5 509.5,73.2 510,73 510.5,72.6 511,73.1 511.5,72.9 512,72.9 512.5,72.7 513,72.4 513.5,72.2 514,72.6 514.5,73 515,72.8 515.5,72.8 516,73.2 516.5,73.3 517,73 517.5,72.6 518,72.8 518.5,72.5 519,72.6 519.5,73.1 520,72.7 520.5,72.5 521,72.9 521.5,73 522,72.5 522.5,72.7 523,73.1 523.5,72.5 524,73.1 524.5,72.3 525,72.8 525.5,72.6 526,73.1 526.5,72.9 527,72.8 527.5,72.6 528,72.7 528.5,73.2 529,72.6 529.5,73 530,73.3 530.5,72.8 531,72.4 531.5,73.2 532,72.6 532.5,72.6 533,73.1 533.5,73.2 534,72.5 534.5,73.1 535,73 535.5,73.2 536,72.7 536.5,72.4 537,73.3 537.5,72.6 538,73.3 538.5,72.5 539,72.8 539.5,72.9 540,73 540.5,72.8 541,73.1 541.5,73.3 542,72.7 542.5,72.9 543,73.1 543.5,72.6 544,72.6 544.5,72.9 545,72.2 545.5,72.8 546,72.5 546.5,72.5 547,72.5 547.5,72.5 548,72.2 548.5,72 549,72.1 549.5,73 550,73 550.5,73.2 551,73 551.5,73 552,72.7 552.5,73.4 553,73.4 553.5,73 554,73.1 554.5,73.4 554.5,76 554,76.5 553.5,76.4 553,76 552.5,76.7 552,76.8 551.5,76.8 551,76.4 550.5,76.7 550,76.8 549.5,77 549,76.2 548.5,76.8 548,76.4 547.5,76.5 547,76 546.5,76.5 546,76.1 545.5,76.8 545,75.9 544.5,76.7 544,75.9 543.5,76 543,76.3 542.5,76.5 542,76.9 541.5,76.7 541,76.3 540.5,76.5 540,77.1 539.5,76.9 539,76.1 538.5,77 538,76.4 537.5,76.8 537,76.8 536.5,76.3 536,76.2 535.5,76.5 535,76 534.5,76.3 534,76 533.5,76.3 533,76.1 532.5,75.8 532,76 531.5,76.5 531,76 530.5,76.8 530,76.3 529.5,77 529,76.4 528.5,77.1 528,76.1 527.5,77.1 527,76.4 526.5,76.5 526,76.7 525.5,76.2 525,76.6 524.5,76.5 524,76.1 523.5,76.1 523,75.7 522.5,76.4 522,75.9 521.5,76.5 521,76.3 520.5,76.1 520,76.1 519.5,76 519,75.8 518.5,76 518,76.1 517.5,76 517,76.4 516.5,75.7 516,75.8 515.5,75.7 515,76 514.5,75.8 514,76.5 513.5,76.7 513,76.2 512.5,76.6 512,76.8 511.5,76.2 511,76 510.5,76.7 510,76.2 509.5,75.9 509,76 508.5,76.4 508,76.3 507.5,76.7 507,76 506.5,76 506,76.5 505.5,76 505,76.8 504.5,76.6Z" fill="#e2468e" fill-opacity="1" stroke="#e2468e" stroke-width="0.3" stroke-opacity="1"/>
<path d="M532.6,46V88M555,74V93.5M559.4,74V93.5" fill="none" stroke="#e2468e" stroke-width="0.9" stroke-opacity="1" stroke-linejoin="round"/>
<path d="M559.4,74 560,73 561,76 562,74 568.2,44.3 569.5,74.5" fill="none" stroke="#e2468e" stroke-width="0.9" stroke-opacity="1" stroke-linejoin="round"/>
<path d="M569.5,72.3 570,72.7 570.5,71.7 571,71.9 571.5,72 572,72 572.5,72.3 573,72.9 573.5,72 574,72.3 574.5,72.6 575,71.8 575.5,71.9 576,72.4 576.5,72.6 577,71.8 577.5,72.7 578,71.8 578.5,71.8 579,72 579.5,72.2 580,72.3 580.5,71.8 581,72.1 581.5,72.7 582,72.4 582.5,71.9 583,72.3 583.5,72 584,71.9 584.5,72.3 585,72.7 585.5,72.2 586,72.9 586.5,72.9 587,72.3 587.5,72.7 588,72.8 588.5,72.2 589,72.9 589.5,72.5 590,73.1 590.5,73 591,72.9 591.5,72.9 592,72.8 592.5,72.7 593,72.6 593.5,72.9 594,73 594.5,72.2 595,72.6 595.5,72.8 596,72.4 596.5,71.9 597,72.6 597.5,72.7 598,72.7 598.5,72 599,72.5 599.5,72.6 600,72.7 600.5,73.1 601,73.1 601.5,72.8 602,73 602.5,72.8 603,72.6 603.5,72.2 604,72.4 604.5,72.5 605,72.1 605.5,71.9 606,72.1 606.5,72.8 607,72.6 607.5,72 608,72.3 608.5,72.6 609,72.4 609.5,73.1 610,73.1 610.5,72.7 611,73 611.5,73.1 612,72.6 612.5,72.8 613,72.8 613.5,73.3 614,73 614.5,72.9 615,72.4 615.5,72.4 616,72.2 616.5,72.8 617,72.8 617.5,72.7 618,72.4 618.5,71.8 619,72.1 619.5,72 620,71.8 620.5,72 621,72.8 621.5,72.1 622,72.1 622.5,72.9 623,72.6 623.5,72.8 624,72.9 624.5,72.6 625,72.7 625.5,72.9 626,72.2 626.5,72.6 627,72.3 627.5,73 628,72.9 628.5,72.4 629,72.9 629.5,72.6 630,72.1 630.5,72.8 631,72.4 631.5,72.4 632,72.2 632.5,72.7 633,73 633.5,72 634,72.9 634.5,72.1 635,72.8 635.5,72.2 636,72.9 636.5,72.3 637,72.7 637.5,73 638,73.1 638.5,73 639,72.9 639.5,72.8 640,72.5 640.5,72.9 641,73.1 641.5,72.6 642,72.8 642.5,72.7 643,73 643.5,72.5 644,72.9 644.5,73.1 645,72.5 645.5,72.6 646,73.2 646.5,72.7 647,73.2 647.5,72.8 648,73.1 648.5,72.9 649,72.9 649.5,72.5 650,72.8 650.5,72.6 651,72.9 651.5,72.4 652,72 652.5,72.4 653,72.1 653.5,72.1 654,72 654.5,71.4 655,72.2 655.5,72.6 656,71.9 656.5,71.6 657,71.5 657.5,71.3 658,71.7 658.5,72 659,72.4 659.5,71.2 660,71.3 660.5,72 661,72.1 661.5,71.8 662,72 662.5,72.2 663,72.3 663.5,71.3 664,72 664.5,71.7 665,71.7 665.5,72 666,72.4 666.5,72.3 667,72.6 667.5,71.3 668,71.5 668.5,72.2 669,72.4 669.5,71.3 670,71.2 670.5,71.8 671,71.9 671.5,71.4 672,72.2 672.5,72.2 673,72.1 673.5,72.6 674,71.2 674.5,72.2 675,71.9 675.5,71.4 676,72.3 676.5,71.2 677,72 677.5,72.5 678,71.3 678.5,71.6 679,71.4 679.5,70.9 680,71.5 680.5,70.8 681,71.7 681,77.3 680.5,77.2 680,77.9 679.5,76.7 679,77.4 678.5,77.3 678,76.4 677.5,77.6 677,77.6 676.5,76.9 676,76.9 675.5,77.6 675,77.6 674.5,76.7 674,77.4 673.5,77.1 673,76.6 672.5,76.6 672,76.5 671.5,77.1 671,75.9 670.5,76.4 670,76.8 669.5,76.2 669,76.2 668.5,76.7 668,76.3 667.5,76.9 667,76.7 666.5,76.3 666,77.3 665.5,76.5 665,77 664.5,76.6 664,76.3 663.5,76.9 663,76.7 662.5,76.4 662,75.7 661.5,75.7 661,76.6 660.5,76.2 660,76.7 659.5,77 659,76.7 658.5,76.3 658,76 657.5,76.5 657,76.3 656.5,76.5 656,76.7 655.5,76 655,77.4 654.5,76.7 654,76.1 653.5,76.5 653,76.1 652.5,76.5 652,76.9 651.5,75.9 651,76.5 650.5,75.9 650,76.3 649.5,76.6 649,76.5 648.5,76.6 648,76 647.5,76.1 647,76.2 646.5,75.5 646,76.1 645.5,75.5 645,76.1 644.5,75.8 644,76.3 643.5,76.4 643,75.8 642.5,76.4 642,76.7 641.5,76.1 641,76.6 640.5,75.9 640,76.2 639.5,75.8 639,76.4 638.5,75.9 638,76.4 637.5,75.5 637,75.8 636.5,75.7 636,76.1 635.5,76.4 635,76.3 634.5,75.8 634,75.9 633.5,76.6 633,76.2 632.5,77 632,76.9 631.5,76 631,76.2 630.5,76.4 630,76 629.5,76.7 629,76 628.5,76.1 628,76.6 627.5,75.8 627,76.5 626.5,76.5 626,76.4 625.5,76.4 625,76.1 624.5,76.6 624,76.3 623.5,75.5 623,75.9 622.5,75.6 622,76.2 621.5,76 621,75.7 620.5,76 620,76 619.5,75.4 619,75.8 618.5,75.4 618,75.9 617.5,75.6 617,76 616.5,75.8 616,75.8 615.5,75.5 615,75.6 614.5,75.8 614,76 613.5,75.6 613,75.5 612.5,75.7 612,76.2 611.5,75.6 611,75.7 610.5,76.3 610,76.5 609.5,75.7 609,75.9 608.5,76.3 608,76.8 607.5,76 607,75.7 606.5,76 606,76.6 605.5,75.8 605,76 604.5,75.7 604,75.9 603.5,75.9 603,76.9 602.5,76.8 602,76.6 601.5,77 601,76.8 600.5,76 600,76.4 599.5,76.4 599,76.2 598.5,75.9 598,75.8 597.5,75.7 597,76.1 596.5,76.4 596,75.9 595.5,76.1 595,75.8 594.5,75.8 594,76.4 593.5,76.8 593,76.8 592.5,76.1 592,76.6 591.5,76 591,76.3 590.5,76.5 590,75.8 589.5,75.9 589,76.1 588.5,76.4 588,76 587.5,76.3 587,76.4 586.5,76.2 586,75.6 585.5,75.8 585,75.6 584.5,76 584,76.3 583.5,76.1 583,76.1 582.5,76.9 582,76.2 581.5,75.9 581,76.7 580.5,76.4 580,76.7 579.5,76 579,76.3 578.5,76 578,76.5 577.5,76 577,76.4 576.5,76.6 576,76.4 575.5,75.9 575,76.7 574.5,76.5 574,76.2 573.5,75.7 573,75.9 572.5,76.6 572,76.2 571.5,75.8 571,76.3 570.5,76.7 570,75.8 569.5,76.4Z" fill="#e2468e" fill-opacity="1" stroke="#e2468e" stroke-width="0.3" stroke-opacity="1"/>
<path d="M666.8,74.4V71.3M608.6,74.4V78M511.8,74.4V79.5M594.3,74.4V70.9M579.9,74.4V77.6M678.5,74.4V77.8M633.1,74.4V79.1M593.7,74.4V80.8M586.2,74.4V69.6M508.3,74.4V68.1M664.1,74.4V69.3M608.8,74.4V69.8M577.2,74.4V80.4M671.7,74.4V69.7M578.5,74.4V77.9M549.4,74.4V68.2M532.8,74.4V67.5M610.3,74.4V69.9M592.9,74.4V70.8M654.2,74.4V70.1M674.3,74.4V69.9M626,74.4V67.9M544.1,74.4V78.3M636.7,74.4V67.8M556.8,74.4V70.5M546.5,74.4V80.7M544,74.4V80.3M555.4,74.4V77.5M654.9,74.4V68.5M518,74.4V69.2M615.6,74.4V71.2M677.2,74.4V71.2M564.3,74.4V67.7M578,74.4V70.2M632.7,74.4V70.2M641.2,74.4V80.2M628.6,74.4V69.4M601.5,74.4V79.9M515.1,74.4V69.7M530.1,74.4V80.4M572,74.4V80.6M629.4,74.4V80.6M509.2,74.4V70.6M641.5,74.4V79.7M640.4,74.4V80.3M507.4,74.4V69.4M545.8,74.4V80.4M624.3,74.4V68.7M565.8,74.4V69.6M649.9,74.4V71.1M559.1,74.4V78.5M582.3,74.4V79.1M671.8,74.4V68.6M645.9,74.4V70.1M664.9,74.4V68.9M614,74.4V70.5M668,74.4V81.3M596.7,74.4V68.7M666.7,74.4V70.8M648.2,74.4V79.7" fill="none" stroke="#e2468e" stroke-width="0.8" stroke-opacity="1" stroke-linejoin="round"/>
<path d="M614,63.4V76M680,57V91M678,63V84M682.3,3.5V91" fill="none" stroke="#e2468e" stroke-width="0.9" stroke-opacity="1" stroke-linejoin="round"/>
<rect x="480.5" y="3.5" width="203.50" height="87.95" fill="none" stroke="#2a2a2a" stroke-width="1"/>
<line x1="477.5" y1="5.15" x2="480.5" y2="5.15" stroke="#2a2a2a" stroke-width="1"/>
<text x="476.2" y="8.95" font-size="13.5" letter-spacing="-1.35" text-anchor="end" class="t">50</text>
<line x1="477.5" y1="19.08" x2="480.5" y2="19.08" stroke="#2a2a2a" stroke-width="1"/>
<text x="476.2" y="22.88" font-size="13.5" letter-spacing="-1.35" text-anchor="end" class="t">40</text>
<line x1="477.5" y1="33.01" x2="480.5" y2="33.01" stroke="#2a2a2a" stroke-width="1"/>
<text x="476.2" y="36.81" font-size="13.5" letter-spacing="-1.35" text-anchor="end" class="t">30</text>
<line x1="477.5" y1="46.94" x2="480.5" y2="46.94" stroke="#2a2a2a" stroke-width="1"/>
<text x="476.2" y="50.74" font-size="13.5" letter-spacing="-1.35" text-anchor="end" class="t">20</text>
<line x1="477.5" y1="60.87" x2="480.5" y2="60.87" stroke="#2a2a2a" stroke-width="1"/>
<text x="476.2" y="64.67" font-size="13.5" letter-spacing="-1.35" text-anchor="end" class="t">10</text>
<line x1="477.5" y1="74.80" x2="480.5" y2="74.80" stroke="#2a2a2a" stroke-width="1"/>
<text x="476.2" y="78.60" font-size="13.5" letter-spacing="-1.35" text-anchor="end" class="t">0</text>
<line x1="477.5" y1="88.73" x2="480.5" y2="88.73" stroke="#2a2a2a" stroke-width="1"/>
<text x="476.2" y="92.53" font-size="13.5" letter-spacing="-1.35" text-anchor="end" class="t">-10</text>
<line x1="480.50" y1="91.45" x2="480.50" y2="94.45" stroke="#2a2a2a" stroke-width="1"/>
<text transform="translate(485.00,94.45) rotate(-90)" font-size="13.25" letter-spacing="-0.2" text-anchor="end" class="t2">2020/03/12</text>
<line x1="509.03" y1="91.45" x2="509.03" y2="94.45" stroke="#2a2a2a" stroke-width="1"/>
<text transform="translate(513.53,94.45) rotate(-90)" font-size="13.25" letter-spacing="-0.2" text-anchor="end" class="t2">2020/03/19</text>
<line x1="537.56" y1="91.45" x2="537.56" y2="94.45" stroke="#2a2a2a" stroke-width="1"/>
<text transform="translate(542.06,94.45) rotate(-90)" font-size="13.25" letter-spacing="-0.2" text-anchor="end" class="t2">2020/03/26</text>
<line x1="566.09" y1="91.45" x2="566.09" y2="94.45" stroke="#2a2a2a" stroke-width="1"/>
<text transform="translate(570.59,94.45) rotate(-90)" font-size="13.25" letter-spacing="-0.2" text-anchor="end" class="t2">2020/04/02</text>
<line x1="594.62" y1="91.45" x2="594.62" y2="94.45" stroke="#2a2a2a" stroke-width="1"/>
<text transform="translate(599.12,94.45) rotate(-90)" font-size="13.25" letter-spacing="-0.2" text-anchor="end" class="t2">2020/04/09</text>
<line x1="623.15" y1="91.45" x2="623.15" y2="94.45" stroke="#2a2a2a" stroke-width="1"/>
<text transform="translate(627.65,94.45) rotate(-90)" font-size="13.25" letter-spacing="-0.2" text-anchor="end" class="t2">2020/04/16</text>
<line x1="651.68" y1="91.45" x2="651.68" y2="94.45" stroke="#2a2a2a" stroke-width="1"/>
<text transform="translate(656.18,94.45) rotate(-90)" font-size="13.25" letter-spacing="-0.2" text-anchor="end" class="t2">2020/04/23</text>
<line x1="680.21" y1="91.45" x2="680.21" y2="94.45" stroke="#2a2a2a" stroke-width="1"/>
<text transform="translate(684.71,94.45) rotate(-90)" font-size="13.25" letter-spacing="-0.2" text-anchor="end" class="t2">2020/04/30</text>
<text transform="translate(464.60,48.00) rotate(-90)" font-size="8.3" text-anchor="middle" class="t">Unit(mm/h)</text>
<text transform="translate(584.4,163.4) scale(0.93,1)" font-size="13.3" text-anchor="middle" class="t">Date</text>
<text transform="translate(583.4,187.5) scale(0.92,1)" font-size="14.2" text-anchor="middle" fill="#111">(c)</text>
<rect x="20.50" y="207.60" width="15.60" height="86.00" fill="#dedede"/>
<rect x="51.70" y="207.60" width="15.60" height="86.00" fill="#dedede"/>
<rect x="82.90" y="207.60" width="15.60" height="86.00" fill="#dedede"/>
<rect x="114.10" y="207.60" width="15.60" height="86.00" fill="#dedede"/>
<rect x="145.30" y="207.60" width="15.60" height="86.00" fill="#dedede"/>
<rect x="176.50" y="207.60" width="15.60" height="86.00" fill="#dedede"/>
<rect x="207.70" y="207.60" width="15.60" height="86.00" fill="#dedede"/>
<circle cx="29.8" cy="214.2" r="5.1" fill="#ee8cb0"/>
<path d="M29.80,210.45 30.86,213.07 33.68,213.27 31.51,215.08 32.20,217.83 29.80,216.32 27.40,217.83 28.09,215.08 25.92,213.27 28.74,213.07Z" fill="url(#sgA)"/>
<text x="38.300000000000004" y="218.6" font-size="13" letter-spacing="-1.05" fill="#fff" stroke="#fff" stroke-width="2.2" stroke-opacity="0.7" stroke-linejoin="round">Monitoring point GN4_610_North#2</text>
<text x="38.300000000000004" y="218.6" font-size="13" letter-spacing="-1.05" class="t">Monitoring point GN4_610_North#2</text>
<path d="M20.8,247.9 21.3,246.7 21.8,246.6 22.3,247.7 22.8,246.9 23.3,245.6 23.8,247.6 24.3,247.2 24.3,253.6 23.8,253.1 23.3,253.8 22.8,253.1 22.3,253.6 21.8,253.4 21.3,253.9 20.8,252.9Z" fill="#d4134c" fill-opacity="0.95" stroke="#d4134c" stroke-width="0.3" stroke-opacity="0.95"/>
<path d="M20.8,251.1 21.2,254.7 21.6,236 22,249.1 22.4,254.1 22.8,241.5 23.2,248.6 23.6,254.3 24,243.1 24.4,258.4" fill="none" stroke="#d4134c" stroke-width="0.7" stroke-opacity="0.85" stroke-linejoin="round"/>
<path d="M24.5,248.7 25,249 25.5,249.3 26,249 26.5,248.6 27,248.5 27.5,248.3 28,248.2 28.5,247.6 29,248.2 29.5,248.6 30,249 30.5,248.3 31,249.1 31.5,248.6 32,248.8 32.5,248.6 33,249.1 33,253.6 32.5,253.8 32,254.1 31.5,253.6 31,253.2 30.5,252.6 30,253.8 29.5,252.7 29,252.8 28.5,253.8 28,252.6 27.5,252.7 27,253.6 26.5,253.3 26,253.6 25.5,252.6 25,252.5 24.5,253Z" fill="#d4134c" fill-opacity="0.95" stroke="#d4134c" stroke-width="0.3" stroke-opacity="0.95"/>
<path d="M24.5,250 24.9,252.6 25.3,249 25.7,252.8 26.1,249 26.5,249.7 26.9,246.4 27.3,247.5 27.7,252.3 28.1,246.9 28.5,250.6 28.9,248.4 29.3,249.3 29.7,248.7 30.1,250.2 30.5,254.7 30.9,245.2 31.3,249.3 31.7,250.1 32.1,252.5 32.5,254.9 32.9,250.8" fill="none" stroke="#d4134c" stroke-width="0.7" stroke-opacity="0.85" stroke-linejoin="round"/>
<path d="M39,249 39.5,248.9 40,248.6 40.5,249.4 41,248.8 41.5,248.6 42,249 42.5,249.4 43,248.8 43.5,249.2 44,249 44.5,248.4 45,248.2 45.5,248.5 46,248.7 46.5,248 47,247.7 47.5,248.9 48,247.8 48.5,248.2 49,248 49.5,247.8 50,248.4 50.5,247.9 51,248.9 51.5,248.6 52,247.7 52.5,249 53,248.8 53,252.4 52.5,253.1 52,252.3 51.5,252.1 51,253.3 50.5,252.3 50,252.2 49.5,252.1 49,252.2 48.5,252.5 48,252.3 47.5,252.7 47,252.2 46.5,252.2 46,252.7 45.5,253.3 45,252.4 44.5,252.7 44,252.8 43.5,253 43,252.4 42.5,253 42,253.2 41.5,252.4 41,252.3 40.5,253.4 40,252.6 39.5,253 39,252.7Z" fill="#d4134c" fill-opacity="0.95" stroke="#d4134c" stroke-width="0.3" stroke-opacity="0.95"/>
<path d="M39,256.4 39.4,240 39.8,253.4 40.2,241.4 40.6,247.4 41,250.7 41.4,264.3 41.8,254 42.2,248.4 42.6,258.4 43,252.1 43.4,237.3 43.8,254.5 44.2,250.6 44.6,253 45,242.7 45.4,257.2 45.8,248.9 46.2,255.9 46.6,250.1 47,252.2 47.4,254.4 47.8,248.4 48.2,251 48.6,247.5 49,249.9 49.4,256.7 49.8,246.3 50.2,246.6 50.6,253.7 51,252.6 51.4,251 51.8,251.6 52.2,248.1 52.6,253.1 53,250.7" fill="none" stroke="#d4134c" stroke-width="0.7" stroke-opacity="0.85" stroke-linejoin="round"/>
<path d="M59.5,248.4 60,248.4 60.5,248.3 61,248.5 61.5,248.2 62,247.8 62.5,247.9 63,248 63.5,247.6 64,247.8 64.5,247.6 65,247.8 65.5,248.4 66,248 66.5,248 67,248.1 67.5,247.7 68,247.6 68.5,247.2 69,248.2 69.5,247.8 70,248.3 70.5,247 71,247.3 71.5,248.5 72,247.2 72.5,247.4 73,248.2 73.5,248.9 74,248.2 74.5,248.6 75,248.8 75.5,249.1 76,248.3 76.5,248.6 77,248.3 77.5,248.3 78,248.5 78.5,248.9 79,249.2 79.5,249.3 80,248.7 80.5,248 81,248.7 81.5,248.5 82,248.4 82.5,247.5 83,247.4 83.5,248.5 84,248.7 84,252.9 83.5,253.1 83,253.3 82.5,252.8 82,253 81.5,252.6 81,252.1 80.5,251.9 80,251.8 79.5,251.6 79,252.6 78.5,252 78,252.9 77.5,252.8 77,252.9 76.5,252.4 76,253.7 75.5,252.8 75,253.8 74.5,252.5 74,253.5 73.5,253.7 73,252.5 72.5,253.9 72,253.2 71.5,253.7 71,253.3 70.5,253.3 70,252.9 69.5,253.3 69,253.5 68.5,252.9 68,253.5 67.5,253.6 67,252.8 66.5,253 66,252.4 65.5,253.2 65,252.6 64.5,252.9 64,252.1 63.5,252.4 63,252.5 62.5,252.2 62,252.8 61.5,253 61,252.8 60.5,253 60,253.6 59.5,253.9Z" fill="#d4134c" fill-opacity="0.95" stroke="#d4134c" stroke-width="0.3" stroke-opacity="0.95"/>
<path d="M59.5,244.6 59.9,246.5 60.3,240.2 60.7,250.2 61.1,249.7 61.5,248.1 61.9,254.8 62.3,254.3 62.7,249.5 63.1,247.9 63.5,252.8 63.9,255 64.3,246.8 64.7,249.2 65.1,249.7 65.5,255.3 65.9,250.1 66.3,248.6 66.7,251.5 67.1,247.2 67.5,256.9 67.9,248.5 68.3,254.2 68.7,246.7 69.1,254 69.5,247.5 69.9,249 70.3,252.7 70.7,252.4 71.1,250.4 71.5,249.5 71.9,246.3 72.3,255 72.7,252.9 73.1,255.3 73.5,243.9 73.9,249.1 74.3,252.4 74.7,251.5 75.1,255.4 75.5,257.6 75.9,246.3 76.3,246.2 76.7,256.8 77.1,250.9 77.5,249.8 77.9,258.3 78.3,257.5 78.7,256.3 79.1,254.4 79.5,250 79.9,246.8 80.3,248 80.7,239.2 81.1,247 81.5,256.5 81.9,243.4 82.3,252.1 82.7,254.9 83.1,249.9 83.5,248.4 83.9,248.5" fill="none" stroke="#d4134c" stroke-width="0.7" stroke-opacity="0.85" stroke-linejoin="round"/>
<path d="M88,249.5 88.5,249.3 89,249.1 89.5,248.6 90,248.7 90.5,248.8 91,249.1 91.5,249.1 92,248.8 92.5,249 93,248.7 93.5,248.8 94,249.1 94.5,248.9 95,249.2 95.5,249.3 96,249.2 96.5,248.8 97,249.1 97.5,248.5 98,248.7 98.5,249.2 99,248.4 99.5,248.1 100,248.9 100.5,248.5 101,248.9 101,252.7 100.5,252.7 100,252.5 99.5,252.3 99,252.1 98.5,252.7 98,251.8 97.5,252 97,251.9 96.5,252.1 96,252.3 95.5,252.4 95,252.5 94.5,252.1 94,252.4 93.5,252.1 93,252.2 92.5,252.3 92,252.7 91.5,252.1 91,252.1 90.5,252.4 90,252.6 89.5,253.4 89,253.1 88.5,253.2 88,253.6Z" fill="#d4134c" fill-opacity="0.95" stroke="#d4134c" stroke-width="0.3" stroke-opacity="0.95"/>
<path d="M88,248.1 88.4,247.6 88.8,249.3 89.2,250.8 89.6,250.5 90,252.4 90.4,249.4 90.8,256.6 91.2,252.1 91.6,251.7 92,251 92.4,251.9 92.8,251.4 93.2,255.6 93.6,256 94,248.5 94.4,248.1 94.8,249.6 95.2,252.1 95.6,252.6 96,253.7 96.4,246.4 96.8,258.1 97.2,246.3 97.6,246.7 98,247.6 98.4,256.7 98.8,252.3 99.2,248.7 99.6,252.2 100,248.1 100.4,249.4 100.8,249.1" fill="none" stroke="#d4134c" stroke-width="0.7" stroke-opacity="0.85" stroke-linejoin="round"/>
<path d="M113.2,248.5 113.7,248.9 114.2,249 114.7,249.1 115.2,249.3 115.7,248.9 116.2,249.1 116.7,248.4 117.2,249.2 117.7,249 118.2,248.8 118.7,249.3 119.2,249 119.7,249.4 120.2,249.5 120.7,249.1 121.2,249.4 121.7,249.1 122.2,249.1 122.7,249.4 123.2,249.6 123.7,249.3 124.2,249.5 124.7,249.3 125.2,249.7 125.7,248.9 126.2,249.3 126.7,249.1 127.2,249.3 127.7,249.2 128.2,248.8 128.7,248.4 129.2,248.7 129.7,248.3 130.2,248.9 130.7,249.1 131.2,248.9 131.7,248.5 132.2,249.1 132.7,248.9 133.2,249.5 133.7,248.9 134.2,248.9 134.7,248.9 135.2,249 135.7,249.1 136.2,248.3 136.7,248.1 137.2,248.8 137.7,248.7 138.2,248.1 138.7,248.7 139.2,248.4 139.7,248 140.2,248.1 140.7,248.1 141.2,248.3 141.7,248.2 142.2,248.7 142.7,247.9 143.2,248.1 143.7,248.5 144.2,248 144.7,248.4 145.2,248.7 145.7,248.4 146.2,248 146.7,248.7 147.2,248.4 147.7,248.3 148.2,248.8 148.7,248.2 149.2,248.9 149.7,249 150.2,248.8 150.7,247.9 151.2,248 151.7,248.2 152.2,248.4 152.7,247.9 152.7,251.6 152.2,251.9 151.7,252.1 151.2,251.6 150.7,252.1 150.2,251.8 149.7,251.8 149.2,252.1 148.7,252.3 148.2,251.9 147.7,251.9 147.2,252 146.7,251.8 146.2,252.5 145.7,252.1 145.2,252.3 144.7,253 144.2,252.3 143.7,252.2 143.2,252.4 142.7,252.3 142.2,252.8 141.7,252.7 141.2,252.5 140.7,252.1 140.2,252.3 139.7,252.6 139.2,253.2 138.7,253 138.2,252.5 137.7,253.1 137.2,253.2 136.7,253.2 136.2,252.3 135.7,253.1 135.2,252.4 134.7,252.6 134.2,252.8 133.7,253.4 133.2,253 132.7,253 132.2,252.5 131.7,253.4 131.2,252.7 130.7,252.7 130.2,252.9 129.7,253.2 129.2,253.1 128.7,252.1 128.2,252.5 127.7,252.7 127.2,252.2 126.7,252.4 126.2,252.2 125.7,252.2 125.2,252.8 124.7,253 124.2,252.4 123.7,252.3 123.2,253.4 122.7,252.2 122.2,252.6 121.7,252.9 121.2,252.2 120.7,252.8 120.2,252.5 119.7,252.4 119.2,253 118.7,253.1 118.2,252.8 117.7,252.2 117.2,252.8 116.7,252.7 116.2,252.5 115.7,252.8 115.2,252.4 114.7,251.9 114.2,251.9 113.7,252.8 113.2,252.4Z" fill="#d4134c" fill-opacity="0.95" stroke="#d4134c" stroke-width="0.3" stroke-opacity="0.95"/>
<path d="M113.2,251.6 113.6,248.5 114,247.3 114.4,249.4 114.8,250.5 115.2,251.6 115.6,250.6 116,250 116.4,255.5 116.8,255.1 117.2,248.5 117.6,251.3 118,247.6 118.4,248.1 118.8,244.2 119.2,252.6 119.6,251.1 120,247.8 120.4,257.2 120.8,254.4 121.2,245.1 121.6,256.3 122,247.2 122.4,255.2 122.8,255.5 123.2,249 123.6,246.4 124,248.9 124.4,249.2 124.8,245.6 125.2,247.3 125.6,251.3 126,250.3 126.4,253.3 126.8,254.2 127.2,252 127.6,254.2 128,251.8 128.4,250.4 128.8,251.7 129.2,254.5 129.6,245.9 130,251.1 130.4,251.2 130.8,253.9 131.2,245 131.6,254.3 132,247.4 132.4,255.3 132.8,249.7 133.2,252.3 133.6,244.6 134,244.1 134.4,245.3 134.8,244.4 135.2,247.8 135.6,249.4 136,241.6 136.4,248.8 136.8,248.6 137.2,254.9 137.6,260.4 138,246 138.4,254.3 138.8,256.2 139.2,253.3 139.6,249.6 140,249.7 140.4,249.8 140.8,251.2 141.2,254.2 141.6,248.2 142,248.7 142.4,251.2 142.8,247.3 143.2,255.3 143.6,249.9 144,248.4 144.4,250.9 144.8,248.7 145.2,247.7 145.6,248 146,248.9 146.4,249.7 146.8,248 147.2,254.1 147.6,255.5 148,250 148.4,251.6 148.8,250.9 149.2,251.4 149.6,252.1 150,252.7 150.4,248.2 150.8,254.8 151.2,250.5 151.6,246 152,251.6 152.4,251.5 152.8,248.2" fill="none" stroke="#d4134c" stroke-width="0.7" stroke-opacity="0.85" stroke-linejoin="round"/>
<path d="M155,248.8 155.5,249.2 156,249.3 156.5,249 157,248.4 157.5,249 158,248.7 158.5,249 159,248.9 159.5,248.1 160,248.1 160.5,248.1 161,248.7 161.5,248.3 162,249.2 162.5,249 163,249.4 163.5,249 164,249 164.5,248.8 165,248.8 165.5,248.6 166,248.6 166.5,248.6 167,248.3 167.5,248.3 168,249 168.5,248.2 169,248.8 169.5,248.5 170,247.8 170,252.4 169.5,253.2 169,253.1 168.5,253.3 168,253.2 167.5,252.4 167,252.7 166.5,253 166,252.3 165.5,253 165,252.4 164.5,252.6 164,253.5 163.5,252.7 163,252.9 162.5,252.5 162,253.5 161.5,252.9 161,252.8 160.5,252.8 160,252.1 159.5,252.4 159,252.1 158.5,251.8 158,251.9 157.5,252.9 157,253 156.5,252.3 156,252.7 155.5,253.3 155,252.5Z" fill="#d4134c" fill-opacity="0.95" stroke="#d4134c" stroke-width="0.3" stroke-opacity="0.95"/>
<path d="M155,253.5 155.4,252.3 155.8,253.4 156.2,251 156.6,250 157,250.7 157.4,249.4 157.8,243.9 158.2,247.3 158.6,253.4 159,252 159.4,245.3 159.8,252.8 160.2,251.6 160.6,247.3 161,250 161.4,253.7 161.8,255.9 162.2,250.3 162.6,245.5 163,248.8 163.4,250.2 163.8,250.7 164.2,250.6 164.6,248.4 165,251.4 165.4,252.1 165.8,254.4 166.2,254.7 166.6,249.4 167,251.2 167.4,251.8 167.8,243.4 168.2,251.5 168.6,251.8 169,256.2 169.4,250.4 169.8,250.7 170.2,250.2" fill="none" stroke="#d4134c" stroke-width="0.7" stroke-opacity="0.85" stroke-linejoin="round"/>
<path d="M176,248.7 176.5,248.3 177,247.9 177.5,247.8 178,248 178.5,247.7 179,248.3 179.5,246.9 180,246.8 180.5,248.4 181,248.2 181.5,248.6 182,248.3 182.5,248.6 183,247.9 183.5,248.2 184,248.3 184.5,248.4 185,248.2 185.5,248.2 186,248.3 186.5,248.2 187,247.5 187.5,247.4 188,248.3 188.5,248.3 189,247.5 189.5,247.5 190,248 190,252 189.5,252.1 189,251.9 188.5,252.5 188,252.3 187.5,252.9 187,252.9 186.5,252.9 186,252 185.5,253.2 185,252.9 184.5,252.6 184,252.3 183.5,252.3 183,253 182.5,253.2 182,252.1 181.5,252.4 181,252.7 180.5,252.9 180,252.4 179.5,252.6 179,252.8 178.5,252.5 178,252.1 177.5,252.3 177,252.4 176.5,252.2 176,252Z" fill="#d4134c" fill-opacity="0.95" stroke="#d4134c" stroke-width="0.3" stroke-opacity="0.95"/>
<path d="M176,254.4 176.4,257.1 176.8,250.6 177.2,252.1 177.6,256.5 178,255.2 178.4,244.7 178.8,245.6 179.2,255.4 179.6,246.6 180,248.5 180.4,255 180.8,248.6 181.2,254.8 181.6,259.7 182,248 182.4,253 182.8,250.4 183.2,257 183.6,251.3 184,254.1 184.4,252.3 184.8,260.7 185.2,247.9 185.6,248.8 186,253.1 186.4,245.9 186.8,248.5 187.2,257.3 187.6,253.1 188,262.2 188.4,255.2 188.8,254.5 189.2,249.4 189.6,251.8 190,255.8" fill="none" stroke="#d4134c" stroke-width="0.7" stroke-opacity="0.85" stroke-linejoin="round"/>
<path d="M196,249 196.5,248.1 197,248.9 197.5,248.4 198,248.9 198.5,248.1 199,248.9 199.5,248.2 200,248.5 200.5,248.3 201,247.9 201.5,248.1 202,247.6 202.5,247.7 203,248.1 203.5,247.7 204,248.4 204.5,248.2 205,248.2 205.5,248.2 206,246.9 206.5,248.1 207,248.2 207.5,248.4 208,248.4 208.5,248.2 209,247.2 209.5,247.6 210,246.4 210.5,247.1 211,246.9 211.5,247.7 212,247.2 212.5,247.7 213,246.9 213.5,246.6 214,246.4 214.5,244.9 215,245.2 215.5,246 216,245.1 216.5,244.5 217,245.4 217.5,246.6 218,245.1 218.5,245.3 219,245.2 219.5,246.1 220,247.1 220.5,247.3 221,246.2 221.5,246.4 222,244.4 222.5,242.3 223,244.5 223.5,243.6 224,240.9 224.5,241.5 224.5,257.9 224,256.7 223.5,256.6 223,258.9 222.5,256.1 222,258.8 221.5,256.2 221,259.2 220.5,259.2 220,258.7 219.5,256.2 219,257.6 218.5,257.2 218,256.9 217.5,257.2 217,255.6 216.5,254.1 216,253.8 215.5,253.8 215,254.5 214.5,253.7 214,254.4 213.5,253.4 213,254 212.5,253.2 212,254.2 211.5,253.4 211,253.7 210.5,254.5 210,253.1 209.5,253.2 209,252.6 208.5,253.6 208,252.8 207.5,253 207,252.4 206.5,252.8 206,253.1 205.5,253.3 205,252.6 204.5,252.4 204,253.4 203.5,253.3 203,252.3 202.5,252.7 202,252.9 201.5,252.5 201,252.4 200.5,252.5 200,251.9 199.5,252 199,252.8 198.5,252 198,252.1 197.5,252.3 197,252.9 196.5,252.8 196,253Z" fill="#d4134c" fill-opacity="0.95" stroke="#d4134c" stroke-width="0.3" stroke-opacity="0.95"/>
<path d="M196,247.1 196.3,254.7 196.7,249.5 197,244.9 197.4,244.8 197.7,251.1 198.1,260.2 198.4,244.8 198.8,255.5 199.1,249.3 199.5,254.1 199.8,248.4 200.2,253.1 200.5,247.5 200.9,250.6 201.2,246.5 201.6,252.4 201.9,256.2 202.3,251.8 202.6,252.4 203,248.2 203.3,252.4 203.7,246 204,246.3 204.4,246.7 204.7,252.9 205.1,251.3 205.4,254 205.8,255.6 206.1,247.8 206.5,247.7 206.8,253.1 207.2,260.7 207.5,248.3 207.9,247 208.2,249.2 208.6,259.4 208.9,250.3 209.3,262.6 209.6,240.9 210,242.8 210.3,251 210.7,257.5 211,267.8 211.4,257.4 211.7,247.2 212.1,235.7 212.4,239.1 212.8,252.8 213.1,254 213.5,249.7 213.8,262.9 214.2,244.8 214.5,262.2 214.9,243.1 215.2,236 215.6,249.1 215.9,260.7 216.3,239.5 216.6,245.3 217,258.8 217.3,284.1 217.7,217.5 218,235.2 218.4,244.6 218.7,258 219.1,225.8 219.4,247.9 219.8,237.2 220.1,267.1 220.5,276.2 220.8,248.1 221.2,255.8 221.5,247.5 221.9,226.1 222.2,224.1 222.6,271.4 222.9,256.5 223.3,263.2 223.6,268.9 224,262.7 224.3,230.9" fill="none" stroke="#d4134c" stroke-width="0.7" stroke-opacity="0.8" stroke-linejoin="round"/>
<path d="M33,251 35,253 37,254 38.5,252 39.5,244 40,251" fill="none" stroke="#d4134c" stroke-width="0.8" stroke-opacity="0.9" stroke-linejoin="round"/>
<path d="M53,250 58.6,233.1 59.5,250" fill="none" stroke="#d4134c" stroke-width="0.8" stroke-opacity="0.9" stroke-linejoin="round"/>
<path d="M84,252 86,253 88,251" fill="none" stroke="#d4134c" stroke-width="0.8" stroke-opacity="0.9" stroke-linejoin="round"/>
<path d="M101,251 112.7,233.9 113.2,250" fill="none" stroke="#d4134c" stroke-width="0.8" stroke-opacity="0.9" stroke-linejoin="round"/>
<path d="M170.4,247.6 175.5,235.7 176,250" fill="none" stroke="#d4134c" stroke-width="0.8" stroke-opacity="0.9" stroke-linejoin="round"/>
<path d="M190,250 192,251 194,252 196,250" fill="none" stroke="#d4134c" stroke-width="0.8" stroke-opacity="0.9" stroke-linejoin="round"/>
<path d="M118.2,250.6V242.9M182.1,250.6V242.5M178.5,250.6V245.2M187.2,250.6V258.4M163,250.6V241.1M78.5,250.6V243.9M150.2,250.6V241.9M185.6,250.6V242.6M154.5,250.6V245.1M156.8,250.6V256.9M51.7,250.6V243M168.8,250.6V260.1M92.3,250.6V242.5M100.4,250.6V259.8M115.9,250.6V245.3M78.4,250.6V256M95.7,250.6V245.5M99.6,250.6V257.3M77.1,250.6V257.2M61.4,250.6V258.4M23.6,250.6V242.5M59.6,250.6V243.1M64.4,250.6V260.4M183.4,250.6V245.4M98.2,250.6V243.7M160.9,250.6V242.3M75.5,250.6V243.8M25.4,250.6V242.8M171.1,250.6V241.8M65.7,250.6V259.9M57.9,250.6V257.3M136.6,250.6V259M28.9,250.6V244.4M143.3,250.6V241.1M182.5,250.6V245.1M85.8,250.6V245.4M184.5,250.6V259.4M168.5,250.6V241M107.4,250.6V240.9M111,250.6V242.4M136.2,250.6V258.5M103.1,250.6V242.5M191.9,250.6V259.5M188,250.6V245.4M40.8,250.6V242.7M89.2,250.6V256.4M41.7,250.6V245.1M70.8,250.6V260.2M42.7,250.6V256.7M96.5,250.6V241.7" fill="none" stroke="#d4134c" stroke-width="0.7" stroke-opacity="0.6" stroke-linejoin="round"/>
<path d="M210.8,250.6V227.3M203.7,250.6V238.2M217.3,250.6V227.3M201.2,250.6V240.6M198.7,250.6V257M204,250.6V259.8M206.4,250.6V238.1M199,250.6V259.4M215.2,250.6V231.2M222.3,250.6V218.1M209.5,250.6V236.4M201.2,250.6V256.7M213,250.6V225.8M219.2,250.6V220.2M200.6,250.6V244.2M203.8,250.6V263.1M207.2,250.6V240.1M216.3,250.6V221.1M211.3,250.6V235.2M215,250.6V267.2M196.3,250.6V245.6M210,250.6V262.4M199.6,250.6V242.2M202.7,250.6V260.7M202.1,250.6V238.3M208.2,250.6V236.8M201.9,250.6V241.9M196.7,250.6V246.5M216.3,250.6V271.4M208.2,250.6V230.8M211.7,250.6V265.5M215.9,250.6V277.8M202.8,250.6V237.1M217.6,250.6V221.6M209.3,250.6V265.3M214.4,250.6V225.2M218.9,250.6V278.7M204.2,250.6V259.8M204.7,250.6V237.1M222.1,250.6V231.2M220.3,250.6V217.6M219.3,250.6V216.7M210.1,250.6V236.8M204.1,250.6V242M203.7,250.6V262.6M220.6,250.6V216.8M219.3,250.6V227.1M201,250.6V259.7M223.8,250.6V225.2M198.5,250.6V244.3" fill="none" stroke="#d4134c" stroke-width="0.7" stroke-opacity="0.55" stroke-linejoin="round"/>
<path d="M22.5,216.2V262M26.3,218V252M27.2,222V256M78.7,250V270M82.2,250V273.2M149.6,250V272.8M188.9,250V293.5M223,212V293.5M221.5,215V285" fill="none" stroke="#d4134c" stroke-width="0.8" stroke-opacity="0.85" stroke-linejoin="round"/>
<rect x="20.5" y="207.6" width="205.30" height="86.00" fill="none" stroke="#2a2a2a" stroke-width="1"/>
<line x1="17.5" y1="207.55" x2="20.5" y2="207.55" stroke="#2a2a2a" stroke-width="1"/>
<text x="16.2" y="211.35" font-size="13.5" letter-spacing="-1.35" text-anchor="end" class="t">12</text>
<line x1="17.5" y1="221.90" x2="20.5" y2="221.90" stroke="#2a2a2a" stroke-width="1"/>
<text x="16.2" y="225.70" font-size="13.5" letter-spacing="-1.35" text-anchor="end" class="t">8</text>
<line x1="17.5" y1="236.25" x2="20.5" y2="236.25" stroke="#2a2a2a" stroke-width="1"/>
<text x="16.2" y="240.05" font-size="13.5" letter-spacing="-1.35" text-anchor="end" class="t">4</text>
<line x1="17.5" y1="250.60" x2="20.5" y2="250.60" stroke="#2a2a2a" stroke-width="1"/>
<text x="16.2" y="254.40" font-size="13.5" letter-spacing="-1.35" text-anchor="end" class="t">0</text>
<line x1="17.5" y1="264.95" x2="20.5" y2="264.95" stroke="#2a2a2a" stroke-width="1"/>
<text x="16.2" y="268.75" font-size="13.5" letter-spacing="-1.35" text-anchor="end" class="t">-4</text>
<line x1="17.5" y1="279.30" x2="20.5" y2="279.30" stroke="#2a2a2a" stroke-width="1"/>
<text x="16.2" y="283.10" font-size="13.5" letter-spacing="-1.35" text-anchor="end" class="t">-8</text>
<line x1="17.5" y1="293.65" x2="20.5" y2="293.65" stroke="#2a2a2a" stroke-width="1"/>
<text x="16.2" y="297.45" font-size="13.5" letter-spacing="-1.35" text-anchor="end" class="t">-12</text>
<line x1="20.50" y1="293.6" x2="20.50" y2="296.6" stroke="#2a2a2a" stroke-width="1"/>
<text transform="translate(25.00,297.60) rotate(-90)" font-size="13.25" letter-spacing="-0.2" text-anchor="end" class="t2">2019/11/01</text>
<line x1="36.10" y1="293.6" x2="36.10" y2="296.6" stroke="#2a2a2a" stroke-width="1"/>
<text transform="translate(40.60,297.60) rotate(-90)" font-size="13.25" letter-spacing="-0.2" text-anchor="end" class="t2">2019/11/15</text>
<line x1="51.70" y1="293.6" x2="51.70" y2="296.6" stroke="#2a2a2a" stroke-width="1"/>
<text transform="translate(56.20,297.60) rotate(-90)" font-size="13.25" letter-spacing="-0.2" text-anchor="end" class="t2">2019/11/29</text>
<line x1="67.30" y1="293.6" x2="67.30" y2="296.6" stroke="#2a2a2a" stroke-width="1"/>
<text transform="translate(71.80,297.60) rotate(-90)" font-size="13.25" letter-spacing="-0.2" text-anchor="end" class="t2">2019/12/13</text>
<line x1="82.90" y1="293.6" x2="82.90" y2="296.6" stroke="#2a2a2a" stroke-width="1"/>
<text transform="translate(87.40,297.60) rotate(-90)" font-size="13.25" letter-spacing="-0.2" text-anchor="end" class="t2">2019/12/27</text>
<line x1="98.50" y1="293.6" x2="98.50" y2="296.6" stroke="#2a2a2a" stroke-width="1"/>
<text transform="translate(103.00,297.60) rotate(-90)" font-size="13.25" letter-spacing="-0.2" text-anchor="end" class="t2">2019/01/10</text>
<line x1="114.10" y1="293.6" x2="114.10" y2="296.6" stroke="#2a2a2a" stroke-width="1"/>
<text transform="translate(118.60,297.60) rotate(-90)" font-size="13.25" letter-spacing="-0.2" text-anchor="end" class="t2">2019/01/24</text>
<line x1="129.70" y1="293.6" x2="129.70" y2="296.6" stroke="#2a2a2a" stroke-width="1"/>
<text transform="translate(134.20,297.60) rotate(-90)" font-size="13.25" letter-spacing="-0.2" text-anchor="end" class="t2">2019/02/07</text>
<line x1="145.30" y1="293.6" x2="145.30" y2="296.6" stroke="#2a2a2a" stroke-width="1"/>
<text transform="translate(149.80,297.60) rotate(-90)" font-size="13.25" letter-spacing="-0.2" text-anchor="end" class="t2">2019/02/21</text>
<line x1="160.90" y1="293.6" x2="160.90" y2="296.6" stroke="#2a2a2a" stroke-width="1"/>
<text transform="translate(165.40,297.60) rotate(-90)" font-size="13.25" letter-spacing="-0.2" text-anchor="end" class="t2">2019/03/06</text>
<line x1="176.50" y1="293.6" x2="176.50" y2="296.6" stroke="#2a2a2a" stroke-width="1"/>
<text transform="translate(181.00,297.60) rotate(-90)" font-size="13.25" letter-spacing="-0.2" text-anchor="end" class="t2">2019/03/20</text>
<line x1="192.10" y1="293.6" x2="192.10" y2="296.6" stroke="#2a2a2a" stroke-width="1"/>
<text transform="translate(196.60,297.60) rotate(-90)" font-size="13.25" letter-spacing="-0.2" text-anchor="end" class="t2">2019/04/03</text>
<line x1="207.70" y1="293.6" x2="207.70" y2="296.6" stroke="#2a2a2a" stroke-width="1"/>
<text transform="translate(212.20,297.60) rotate(-90)" font-size="13.25" letter-spacing="-0.2" text-anchor="end" class="t2">2019/04/17</text>
<line x1="223.30" y1="293.6" x2="223.30" y2="296.6" stroke="#2a2a2a" stroke-width="1"/>
<text transform="translate(227.80,297.60) rotate(-90)" font-size="13.25" letter-spacing="-0.2" text-anchor="end" class="t2">2019/05/01</text>
<text transform="translate(6.80,245.70) rotate(-90)" font-size="8.3" text-anchor="middle" class="t">Unit(mm/h)</text>
<text transform="translate(132.2,368.0) scale(0.93,1)" font-size="13.3" text-anchor="middle" class="t">Date</text>
<text transform="translate(130.0,388.4) scale(0.92,1)" font-size="14.2" text-anchor="middle" fill="#111">(d)</text>
<rect x="253.80" y="207.60" width="27.35" height="85.85" fill="#dedede"/>
<rect x="308.50" y="207.60" width="27.35" height="85.85" fill="#dedede"/>
<rect x="363.20" y="207.60" width="27.35" height="85.85" fill="#dedede"/>
<rect x="417.90" y="207.60" width="27.35" height="85.85" fill="#dedede"/>
<circle cx="260.8" cy="215.3" r="5.8" fill="#f7a890"/>
<path d="M260.80,211.14 261.97,214.05 265.10,214.26 262.69,216.28 263.46,219.32 260.80,217.65 258.14,219.32 258.91,216.28 256.50,214.26 259.63,214.05Z" fill="url(#sgA)"/>
<text x="271.0" y="218.6" font-size="13" letter-spacing="-1.05" fill="#fff" stroke="#fff" stroke-width="2.2" stroke-opacity="0.7" stroke-linejoin="round">Monitoring point GN5_610_North#3</text>
<text x="271.0" y="218.6" font-size="13" letter-spacing="-1.05" class="t">Monitoring point GN5_610_North#3</text>
<path d="M268.3,286 268.5,210.6 268.8,289.3 269.5,287 271,285.5 276.5,283.4 282,286.5" fill="none" stroke="#f26a38" stroke-width="0.8" stroke-opacity="1" stroke-linejoin="round"/>
<path d="M283,285.7 283.5,285.7 284,285.5 284.5,285.5 285,285.7 285.5,285.5 286,285.4 286.5,285.6 287,285.6 287.5,285.6 288,285.5 288.5,285.5 289,285.7 289.5,285.6 290,285.8 290.5,285.8 291,285.7 291.5,285.8 292,285.6 292.5,285.7 293,285.8 293.5,285.6 294,285.7 294.5,285.7 295,285.5 295.5,285.6 296,285.5 296.5,285.4 297,285.4 297.5,285.4 298,285.5 298.5,285.5 299,285.4 299.5,285.5 300,285.3 300.5,285.5 301,285.4 301.5,285.6 302,285.3 302.5,285.5 303,285.3 303.5,285.3 304,285.7 304.5,285.4 305,285.4 305.5,285.5 306,285.6 306.5,285.3 307,285.4 307.5,285.4 308,285.7 308.5,285.6 309,285.4 309.5,285.6 310,285.6 310.5,285.5 311,285.5 311.5,285.7 312,285.7 312.5,285.6 313,285.4 313.5,285.6 314,285.8 314.5,285.6 315,285.8 315.5,285.8 316,285.6 316.5,285.8 317,285.5 317.5,285.6 318,285.6 318.5,285.4 319,285.5 319.5,285.4 320,285.7 320.5,285.5 321,285.6 321.5,285.6 322,285.7 322.5,285.5 323,285.6 323.5,285.3 324,285.5 324.5,285.7 325,285.7 325.5,285.5 326,285.7 326.5,285.6 327,285.6 327.5,285.8 328,285.6 328.5,285.7 329,285.7 329.5,285.7 330,285.5 330.5,285.6 331,285.4 331.5,285.6 332,285.6 332.5,285.5 333,285.4 333.5,285.4 334,285.6 334.5,285.7 335,285.4 335.5,285.7 336,285.4 336.5,285.5 337,285.6 337.5,285.6 338,285.6 338.5,285.5 339,285.6 339.5,285.4 340,285.4 340.5,285.7 341,285.5 341.5,285.6 342,285.7 342.5,285.5 343,285.6 343.5,285.6 344,285.7 344.5,285.6 345,285.6 345.5,285.7 346,285.6 346.5,285.5 347,285.6 347.5,285.3 348,285.6 348.5,285.4 349,285.6 349.5,285.4 350,285.6 350.5,285.5 351,285.4 351.5,285.4 352,285.7 352.5,285.7 353,285.6 353.5,285.5 354,285.6 354.5,285.5 355,285.7 355.5,285.3 356,285.5 356.5,285.4 357,285.5 357.5,285.7 358,285.7 358.5,285.6 359,285.7 359.5,285.6 360,285.8 360.5,285.8 361,285.7 361.5,285.8 362,285.7 362.5,285.8 363,285.6 363.5,285.6 364,285.7 364.5,285.7 365,285.7 365.5,285.8 366,285.7 366.5,285.7 367,285.7 367.5,285.6 368,285.6 368.5,285.7 369,285.7 369.5,285.5 370,285.6 370.5,285.7 371,285.7 371.5,285.7 372,285.7 372.5,285.5 373,285.7 373.5,285.5 374,285.6 374.5,285.7 375,285.6 375.5,285.8 376,285.7 376.5,285.6 377,285.7 377.5,285.8 378,285.7 378.5,285.6 379,285.8 379.5,285.6 380,285.7 380.5,285.6 381,285.7 381.5,285.7 382,285.5 382.5,285.4 383,285.6 383.5,285.4 384,285.4 384.5,285.4 385,285.5 385.5,285.6 386,285.8 386.5,285.6 387,285.7 387.5,285.6 388,285.7 388.5,285.8 389,285.5 389.5,285.2 390,285.6 390.5,285.2 391,285.5 391.5,285.4 392,285.4 392.5,285.6 393,285.4 393.5,285.4 394,285.4 394.5,285.6 395,285.4 395.5,285.7 396,285.4 396.5,285.4 397,285.4 397.5,285.3 398,285.5 398.5,285.3 399,285.4 399.5,285.5 400,285.4 400.5,285.4 401,285.4 401.5,285.2 402,285.4 402.5,284.9 403,285.1 403.5,285.4 404,284.9 404.5,284.8 405,285 405.5,285 406,285 406.5,285.2 407,284.9 407.5,284.9 408,284.9 408.5,285.3 409,285.2 409.5,285.3 410,285.2 410.5,285.3 411,285.3 411.5,285.5 412,285.6 412.5,285.4 413,285.6 413.5,285.2 414,285.4 414.5,285.4 415,285.5 415.5,285.6 416,285.6 416.5,285.6 417,285.5 417.5,285.6 418,285.5 418.5,285.6 419,285.6 419.5,285.6 420,285.2 420.5,285.6 421,285.3 421.5,285.3 422,285.4 422.5,285.3 423,285.2 423.5,285.6 424,285.6 424.5,285.5 425,285.4 425.5,285.5 426,285.5 426.5,285.2 427,285.1 427.5,285.4 428,285.5 428.5,285.6 429,285.4 429.5,285.3 430,285.5 430.5,285.6 431,285.4 431.5,285.6 432,285.3 432.5,285.4 433,285.3 433.5,285.5 434,285.2 434.5,285.4 435,285.2 435.5,285.1 436,285 436.5,284.9 437,285.3 437.5,285 438,285.2 438.5,285.3 439,285.4 439.5,285.1 440,285.2 440.5,285.1 441,285.2 441.5,285.4 442,285.2 442.5,285.4 443,285.3 443.5,285.2 444,285.3 444.5,285.2 445,285.1 445.5,285.2 446,285.4 446.5,285 447,285.4 447.5,285.2 448,285.4 448.5,285.3 449,285.3 449.5,285.3 450,285.2 450.5,285.3 451,285.5 451.5,285.1 452,285.3 452,287.1 451.5,287.3 451,287.5 450.5,287.4 450,287.2 449.5,287.5 449,287.1 448.5,287.2 448,287.1 447.5,287.2 447,287 446.5,287.2 446,287 445.5,287 445,287.3 444.5,287.1 444,287.2 443.5,286.9 443,286.9 442.5,287 442,287.1 441.5,286.9 441,287.3 440.5,287.4 440,287.4 439.5,287.5 439,287.6 438.5,287.1 438,287 437.5,287.1 437,287.1 436.5,287.1 436,286.8 435.5,287 435,286.8 434.5,286.8 434,287.1 433.5,286.9 433,286.9 432.5,287.4 432,287 431.5,287 431,287.2 430.5,287.4 430,287.2 429.5,287.1 429,287.2 428.5,287.4 428,287.5 427.5,286.9 427,287.1 426.5,286.9 426,287.3 425.5,286.8 425,287.2 424.5,287.1 424,287.1 423.5,287.2 423,287.1 422.5,286.9 422,287.1 421.5,287.2 421,287.3 420.5,286.9 420,287.2 419.5,287.5 419,287.5 418.5,287.4 418,287.4 417.5,287.4 417,286.9 416.5,286.9 416,287.1 415.5,287.2 415,287 414.5,287 414,287.2 413.5,287.3 413,286.9 412.5,287.1 412,287.2 411.5,287 411,287.2 410.5,287.5 410,287.3 409.5,287.5 409,287.5 408.5,287 408,287.3 407.5,287.1 407,287.1 406.5,286.9 406,287.3 405.5,287.1 405,286.9 404.5,287.2 404,287.1 403.5,287.2 403,287.3 402.5,287.3 402,287.2 401.5,287.2 401,287 400.5,286.9 400,287.1 399.5,287.3 399,286.9 398.5,286.9 398,287.3 397.5,287.1 397,287.2 396.5,287.4 396,287.5 395.5,287.6 395,287.3 394.5,287.5 394,287.6 393.5,287.4 393,287.2 392.5,287.2 392,287.3 391.5,287 391,287.2 390.5,287 390,287 389.5,287.3 389,287.3 388.5,286.7 388,286.7 387.5,286.8 387,286.6 386.5,286.6 386,286.8 385.5,286.8 385,286.7 384.5,286.8 384,286.8 383.5,286.6 383,286.7 382.5,286.8 382,286.7 381.5,286.7 381,286.7 380.5,286.7 380,286.8 379.5,286.9 379,286.7 378.5,286.9 378,286.7 377.5,286.6 377,286.7 376.5,286.9 376,286.9 375.5,286.7 375,286.9 374.5,286.8 374,286.6 373.5,286.8 373,286.9 372.5,286.7 372,286.8 371.5,286.6 371,286.6 370.5,286.7 370,286.9 369.5,286.6 369,286.7 368.5,286.9 368,286.8 367.5,286.9 367,286.8 366.5,286.9 366,286.7 365.5,286.9 365,286.8 364.5,286.9 364,286.8 363.5,286.8 363,286.7 362.5,286.7 362,287 361.5,286.8 361,287 360.5,286.9 360,286.8 359.5,286.7 359,286.7 358.5,286.7 358,286.8 357.5,286.8 357,286.8 356.5,286.7 356,286.8 355.5,286.8 355,286.6 354.5,286.8 354,286.8 353.5,286.8 353,286.8 352.5,286.8 352,286.8 351.5,286.7 351,286.7 350.5,286.7 350,286.7 349.5,286.8 349,286.7 348.5,286.7 348,286.7 347.5,286.7 347,286.8 346.5,286.9 346,286.7 345.5,286.6 345,286.6 344.5,286.9 344,287 343.5,286.8 343,286.8 342.5,286.8 342,286.9 341.5,286.8 341,287 340.5,286.9 340,286.8 339.5,286.8 339,286.8 338.5,286.9 338,286.9 337.5,287 337,287 336.5,287 336,286.9 335.5,287.1 335,286.7 334.5,287.1 334,287 333.5,286.8 333,286.8 332.5,286.8 332,286.6 331.5,286.8 331,286.8 330.5,286.8 330,286.8 329.5,286.8 329,286.9 328.5,286.7 328,286.7 327.5,286.7 327,286.8 326.5,286.9 326,287 325.5,286.8 325,287 324.5,287 324,287 323.5,286.8 323,286.8 322.5,286.9 322,286.8 321.5,286.7 321,286.8 320.5,287.1 320,286.7 319.5,286.8 319,286.9 318.5,286.9 318,286.8 317.5,286.8 317,286.8 316.5,286.8 316,286.9 315.5,286.8 315,286.8 314.5,287.1 314,286.7 313.5,286.8 313,287 312.5,287 312,286.8 311.5,286.7 311,286.9 310.5,286.8 310,286.9 309.5,286.9 309,286.6 308.5,286.6 308,286.6 307.5,286.7 307,286.8 306.5,286.6 306,286.8 305.5,286.7 305,286.6 304.5,286.8 304,286.7 303.5,286.6 303,286.6 302.5,286.7 302,286.8 301.5,286.8 301,286.9 300.5,287 300,287.1 299.5,286.8 299,286.9 298.5,287.2 298,286.8 297.5,287 297,287.1 296.5,286.9 296,287 295.5,286.9 295,287 294.5,286.7 294,287 293.5,286.8 293,286.7 292.5,286.9 292,287.2 291.5,287 291,286.9 290.5,286.9 290,287 289.5,286.9 289,286.9 288.5,286.6 288,286.7 287.5,286.6 287,286.7 286.5,286.6 286,286.8 285.5,286.8 285,286.7 284.5,286.7 284,286.6 283.5,286.8 283,286.7Z" fill="#f26a38" fill-opacity="1" stroke="#f26a38" stroke-width="0.3" stroke-opacity="1"/>
<path d="M283,286.2 283.4,287.8 283.9,286.5 284.3,287.8 284.8,286.5 285.2,287.7 285.7,285.4 286.1,285.3 286.6,286.2 287,289.7 287.5,285.8 287.9,285.4 288.4,288 288.8,286.1 289.3,285.3 289.7,288 290.2,286.7 290.6,285.6 291.1,284.5 291.5,286.6 292,284.4 292.4,289.2 292.9,286.4 293.3,283.5 293.8,286 294.2,289.3" fill="none" stroke="#f26a38" stroke-width="0.7" stroke-opacity="0.95" stroke-linejoin="round"/>
<path d="M295.5,286.5 295.9,286.8 296.4,285 296.8,285.1 297.3,286.3 297.7,287.2 298.2,284.7 298.6,286.6 299.1,287.2 299.5,286.2 300,285.6 300.4,286.7 300.9,287.7 301.3,285.7 301.8,285.9 302.2,285.9 302.7,286.7 303.1,285.7 303.6,285.5 304,286.1 304.5,287.8 304.9,286.2 305.4,285.6 305.8,285.6 306.3,286.7 306.7,286.6 307.2,287 307.6,286.3 308.1,286 308.5,284.9 309,285.8 309.4,289.3 309.9,287.4 310.3,285.6 310.8,286.2 311.2,285.7 311.7,286.7 312.1,287.1 312.6,286 313,287.1 313.5,287.6 313.9,286.9 314.4,287.7 314.8,285.8 315.3,286.8 315.7,285.6 316.2,286.3 316.6,286.5 317.1,286.6 317.5,286.1 318,286 318.4,285.1 318.9,286 319.3,286.3 319.8,286.4 320.2,287.5 320.7,286.9 321.1,286 321.6,286.4 322,286.8 322.5,287.5 322.9,286.5 323.4,287 323.8,285.6 324.3,287.4 324.7,287.9 325.2,287.2 325.6,289.7 326.1,285 326.5,288.9 327,286.8 327.4,286.4 327.9,284.3 328.3,284.5 328.8,287 329.2,285.5 329.7,286.1 330.1,286 330.6,285.5 331,286.3 331.5,287.3 331.9,284.7 332.4,286.3 332.8,286 333.3,285.9 333.7,287.1 334.2,286.1 334.6,285.7 335.1,287.3 335.5,286.8 336,286.1 336.4,286.3 336.9,285.7 337.3,285.6 337.8,286.1 338.2,285.7 338.7,287 339.1,286.4 339.6,287.7" fill="none" stroke="#f26a38" stroke-width="0.7" stroke-opacity="0.95" stroke-linejoin="round"/>
<path d="M341,286.1 341.4,286.1 341.9,285.9 342.3,286.3 342.8,286.9 343.2,287.7 343.7,286.6 344.1,284.9 344.6,286.1 345,287.7 345.5,285.2 345.9,284.9 346.4,286.2 346.8,285.4 347.3,286.3 347.7,285.5 348.2,285.3 348.6,288.6 349.1,283.3 349.5,286.2 350,285.8 350.4,287.8 350.9,282.5 351.3,285.1 351.8,285.6 352.2,286.3 352.7,287.2 353.1,286 353.6,285.9 354,286.6 354.5,287.1 354.9,285.2 355.4,284.8 355.8,286.7 356.3,287.3 356.7,286.6 357.2,287.8 357.6,288 358.1,283.8 358.5,285.7 359,286.6 359.4,285.1 359.9,287.2 360.3,286.4 360.8,285 361.2,286.5 361.7,284.5 362.1,285.3 362.6,284.8 363,286.5 363.5,286.1 363.9,286.8 364.4,286.5 364.8,287 365.3,286.5 365.7,287.4 366.2,286.4 366.6,284.8 367.1,286 367.5,285.7 368,285.4 368.4,285.7 368.9,284.5 369.3,287.9 369.8,285.9 370.2,285.8 370.7,285.8 371.1,288.3 371.6,286.2 372,286.6 372.5,285.8 372.9,284.6 373.4,287.6 373.8,285.9 374.3,287.9 374.7,284.4 375.2,286.7 375.6,283 376.1,285.2 376.5,287 377,286.1 377.4,286.3 377.9,284.7 378.3,285.1 378.8,286.3 379.2,284.5 379.7,284.6 380.1,289.3 380.6,285.8 381,287.6 381.5,286.4 381.9,286.5 382.4,284.2 382.8,285.5 383.3,286.4 383.7,287.9" fill="none" stroke="#f26a38" stroke-width="0.7" stroke-opacity="0.95" stroke-linejoin="round"/>
<path d="M389,285.7 389.4,286.9 389.9,286 390.3,285.7 390.8,285 391.2,286.5 391.7,286.4 392.1,286.2 392.6,284.5 393,287.6 393.5,284.9 393.9,288.8 394.4,288.3 394.8,285.2 395.3,285.7 395.7,285.5 396.2,287.3 396.6,285.2 397.1,281.9 397.5,285.6 398,286.6 398.4,284.5 398.9,283.3 399.3,289 399.8,283.5 400.2,288.1 400.7,287.3 401.1,283.3 401.6,284.5 402,290.8 402.5,283.5 402.9,289.3 403.4,286 403.8,288.2 404.3,289 404.7,288.9 405.2,286.7 405.6,282.2 406.1,288.1 406.5,286 407,285.9 407.4,284.4 407.9,285.2 408.3,283.3 408.8,285.9 409.2,287 409.7,285 410.1,286.7 410.6,286.3 411,286.7 411.5,284.7 411.9,286.6 412.4,286.8 412.8,286 413.3,287.8 413.7,291.9 414.2,290.1 414.6,285.6 415.1,286.8 415.5,286.9 416,286.7 416.4,286 416.9,287.5 417.3,284.1 417.8,285.9 418.2,287.1 418.7,285.8 419.1,285 419.6,285.4 420,286.1 420.5,287.2 420.9,285.6 421.4,284.9 421.8,285.9 422.3,285.7 422.7,285.6 423.2,286.2 423.6,285.4 424.1,286.6 424.5,286.3 425,286.4 425.4,285.4 425.9,286.1 426.3,287.7 426.8,285.3 427.2,287.3 427.7,286.1 428.1,285.9 428.6,286 429,285 429.5,286.4 429.9,286.6 430.4,286.6 430.8,284.7 431.3,285.6 431.7,285.2 432.2,284.9 432.6,286.3 433.1,286.5 433.5,285 434,286.1 434.4,286.2 434.9,286.3 435.3,285.7 435.8,288.3 436.2,284.4 436.7,283.8 437.1,284 437.6,286 438,285.4 438.5,287.8 438.9,284.4 439.4,287.7 439.8,284.6 440.3,284.2 440.7,287.1 441.2,284.4 441.6,285.5 442.1,285.3 442.5,285.8 443,285.5 443.4,287.3 443.9,287.1 444.3,283.7 444.8,284.5 445.2,287.8 445.7,285.2 446.1,286.9 446.6,287 447,287.2 447.5,286.3 447.9,286.3 448.4,288.4 448.8,285.2 449.3,286.3 449.7,287.3 450.2,286.7 450.6,286.1 451.1,286.9 451.5,285.3 452,287.7" fill="none" stroke="#f26a38" stroke-width="0.7" stroke-opacity="0.95" stroke-linejoin="round"/>
<path d="M305.7,286.2V283.3M390,286.2V282M442.9,286.2V289.9M333.3,286.2V288.5M426,286.2V283M435.2,286.2V282.3M346.4,286.2V282.9M448.4,286.2V282.4M289.7,286.2V283.1M438.8,286.2V288.6M366.1,286.2V283.5M375.2,286.2V282.4M434.2,286.2V282M335.6,286.2V290.6M320.8,286.2V288.6M334.4,286.2V282.1M293.7,286.2V283.7M292,286.2V288.3M292.6,286.2V288.3M333.6,286.2V288.3M345.8,286.2V289.4M439,286.2V283.8M293,286.2V284M329.4,286.2V289.8M360.9,286.2V282M323.2,286.2V288.7M380.6,286.2V281.9M445.3,286.2V289.5M432.4,286.2V288.5M319.1,286.2V283.9M328,286.2V283.9M408.2,286.2V282M355.2,286.2V289M421.7,286.2V281.9M338.1,286.2V283.5M414.7,286.2V282.5M328.6,286.2V283.6M378.7,286.2V283.8M344.4,286.2V290.3M329.3,286.2V290.4M377.7,286.2V282.4M330.6,286.2V289.3M392.9,286.2V288.4M283.1,286.2V288.6M450.1,286.2V290.5M448.6,286.2V288.9M291.2,286.2V289.1M366.1,286.2V283.6M334,286.2V282.3M412.1,286.2V284.1" fill="none" stroke="#f26a38" stroke-width="0.7" stroke-opacity="0.9" stroke-linejoin="round"/>
<path d="M296.6,277.3V287M299.5,267.6V287M384.4,207.6V287M388.4,207.6V287M452,281V291M456.5,284V289" fill="none" stroke="#f26a38" stroke-width="0.8" stroke-opacity="1" stroke-linejoin="round"/>
<rect x="253.5" y="207.6" width="204.10" height="85.85" fill="none" stroke="#2a2a2a" stroke-width="1"/>
<line x1="250.5" y1="214.80" x2="253.5" y2="214.80" stroke="#2a2a2a" stroke-width="1"/>
<text x="249.2" y="218.60" font-size="13.5" letter-spacing="-1.35" text-anchor="end" class="t">50</text>
<line x1="250.5" y1="229.10" x2="253.5" y2="229.10" stroke="#2a2a2a" stroke-width="1"/>
<text x="249.2" y="232.90" font-size="13.5" letter-spacing="-1.35" text-anchor="end" class="t">40</text>
<line x1="250.5" y1="243.40" x2="253.5" y2="243.40" stroke="#2a2a2a" stroke-width="1"/>
<text x="249.2" y="247.20" font-size="13.5" letter-spacing="-1.35" text-anchor="end" class="t">30</text>
<line x1="250.5" y1="257.70" x2="253.5" y2="257.70" stroke="#2a2a2a" stroke-width="1"/>
<text x="249.2" y="261.50" font-size="13.5" letter-spacing="-1.35" text-anchor="end" class="t">20</text>
<line x1="250.5" y1="272.00" x2="253.5" y2="272.00" stroke="#2a2a2a" stroke-width="1"/>
<text x="249.2" y="275.80" font-size="13.5" letter-spacing="-1.35" text-anchor="end" class="t">10</text>
<line x1="250.5" y1="286.30" x2="253.5" y2="286.30" stroke="#2a2a2a" stroke-width="1"/>
<text x="249.2" y="290.10" font-size="13.5" letter-spacing="-1.35" text-anchor="end" class="t">0</text>
<line x1="253.80" y1="293.45" x2="253.80" y2="296.45" stroke="#2a2a2a" stroke-width="1"/>
<text transform="translate(258.30,297.45) rotate(-90)" font-size="13.25" letter-spacing="-0.2" text-anchor="end" class="t2">2020/03/10</text>
<line x1="281.15" y1="293.45" x2="281.15" y2="296.45" stroke="#2a2a2a" stroke-width="1"/>
<text transform="translate(285.65,297.45) rotate(-90)" font-size="13.25" letter-spacing="-0.2" text-anchor="end" class="t2">2020/03/17</text>
<line x1="308.50" y1="293.45" x2="308.50" y2="296.45" stroke="#2a2a2a" stroke-width="1"/>
<text transform="translate(313.00,297.45) rotate(-90)" font-size="13.25" letter-spacing="-0.2" text-anchor="end" class="t2">2020/03/24</text>
<line x1="335.85" y1="293.45" x2="335.85" y2="296.45" stroke="#2a2a2a" stroke-width="1"/>
<text transform="translate(340.35,297.45) rotate(-90)" font-size="13.25" letter-spacing="-0.2" text-anchor="end" class="t2">2020/03/31</text>
<line x1="363.20" y1="293.45" x2="363.20" y2="296.45" stroke="#2a2a2a" stroke-width="1"/>
<text transform="translate(367.70,297.45) rotate(-90)" font-size="13.25" letter-spacing="-0.2" text-anchor="end" class="t2">2020/04/07</text>
<line x1="390.55" y1="293.45" x2="390.55" y2="296.45" stroke="#2a2a2a" stroke-width="1"/>
<text transform="translate(395.05,297.45) rotate(-90)" font-size="13.25" letter-spacing="-0.2" text-anchor="end" class="t2">2020/04/14</text>
<line x1="417.90" y1="293.45" x2="417.90" y2="296.45" stroke="#2a2a2a" stroke-width="1"/>
<text transform="translate(422.40,297.45) rotate(-90)" font-size="13.25" letter-spacing="-0.2" text-anchor="end" class="t2">2020/04/21</text>
<line x1="445.25" y1="293.45" x2="445.25" y2="296.45" stroke="#2a2a2a" stroke-width="1"/>
<text transform="translate(449.75,297.45) rotate(-90)" font-size="13.25" letter-spacing="-0.2" text-anchor="end" class="t2">2020/04/28</text>
<text transform="translate(238.40,245.70) rotate(-90)" font-size="8.3" text-anchor="middle" class="t">Unit(mm/h)</text>
<text transform="translate(360.1,368.0) scale(0.93,1)" font-size="13.3" text-anchor="middle" class="t">Date</text>
<text transform="translate(359.2,388.4) scale(0.92,1)" font-size="14.2" text-anchor="middle" fill="#111">(e)</text>
<rect x="481.60" y="207.60" width="7.90" height="86.70" fill="#dedede"/>
<rect x="505.15" y="207.60" width="15.65" height="86.70" fill="#dedede"/>
<rect x="536.45" y="207.60" width="15.65" height="86.70" fill="#dedede"/>
<rect x="567.75" y="207.60" width="15.65" height="86.70" fill="#dedede"/>
<rect x="599.05" y="207.60" width="15.65" height="86.70" fill="#dedede"/>
<rect x="630.35" y="207.60" width="15.65" height="86.70" fill="#dedede"/>
<rect x="661.65" y="207.60" width="15.65" height="86.70" fill="#dedede"/>
<circle cx="490.8" cy="215.2" r="5.8" fill="#f7cccc"/>
<path d="M490.80,210.93 492.00,213.92 495.21,214.14 492.74,216.20 493.53,219.33 490.80,217.61 488.07,219.33 488.86,216.20 486.39,214.14 489.60,213.92Z" fill="url(#sgA)"/>
<text x="498.09999999999997" y="218.6" font-size="13" letter-spacing="-1.05" fill="#fff" stroke="#fff" stroke-width="2.2" stroke-opacity="0.7" stroke-linejoin="round">Monitoring point GN6_640</text>
<text x="498.09999999999997" y="218.6" font-size="13" letter-spacing="-1.05" class="t">Monitoring point GN6_640</text>
<path d="M482,279.1 482.5,279.9 483,280.7 483.5,280.4 484,280 484.5,279.3 485,278.8 485.5,279.1 486,279.9 486.5,279.2 487,280.7 487.5,279.3 488,279.6 488.5,279.1 489,280.2 489.5,278.8 490,280.3 490.5,280.7 491,281.3 491.5,280.5 492,280 492.5,279.9 493,280.9 493.5,280 494,280.6 494.5,280.5 495,279.8 495.5,280.9 496,279.9 496.5,280 497,279.6 497.5,280.5 498,280.4 498.5,278.7 499,279 499.5,280.8 500,280.4 500.5,279.4 501,280.6 501.5,280.9 502,280.8 502.5,279.7 503,280.1 503.5,281.1 504,281 504.5,280 505,280.3 505.5,279.3 506,280.5 506.5,279.9 507,279.3 507.5,279.5 508,279.5 508.5,280.4 509,281.6 509.5,282.1 510,280.5 510.5,279.1 511,279.5 511.5,280.9 512,279.8 512.5,279.9 513,281.1 513.5,280.7 514,281.7 514.5,281.6 515,281.6 515.5,281.6 516,281.3 516.5,280.2 517,280.3 517.5,281.1 518,279.9 518.5,279.8 519,281.1 519.5,280 520,280.4 520.5,280.7 521,280.9 521.5,280.4 522,279.9 522.5,279.9 523,280.7 523.5,281.1 524,280.9 524.5,280.4 525,281.1 525.5,281.5 526,281.1 526.5,281.7 527,281.8 527.5,281.1 528,281.7 528.5,281.7 529,281.4 529.5,281.4 530,281 530.5,281.6 531,281.2 531.5,280.2 532,280.8 532.5,279.6 533,280.4 533.5,281 534,279 534.5,279.4 535,279 535.5,279.5 536,279 536.5,280.5 537,278.8 537.5,280.1 538,278.7 538.5,278.9 539,280.5 539.5,279.4 540,279.6 540.5,280.9 541,280.3 541.5,280.5 542,281.1 542.5,281.6 543,281.3 543.5,280.8 544,281.7 544.5,280.6 545,280.7 545.5,281.5 546,281.5 546.5,280.8 547,280.5 547.5,280.4 548,280.7 548.5,281.2 549,280.6 549.5,279.6 550,280.8 550.5,279.7 551,280.9 551.5,280.5 552,279.9 552.5,281.3 553,280.8 553.5,280 554,280.3 554.5,280.1 555,280.2 555.5,280.8 556,281.2 556.5,280.5 557,281.3 557.5,281.5 558,280.9 558.5,280.1 559,280.9 559.5,280.8 560,280.5 560.5,281 561,280.4 561.5,280.2 562,280 562.5,280 563,280.2 563.5,280.3 564,281.2 564.5,280.7 565,280.4 565.5,280.8 566,281.3 566.5,280.8 567,280.8 567.5,281.2 568,281.3 568.5,281.1 569,280.7 569.5,281.8 570,280.8 570.5,281.4 571,280.5 571.5,281.3 572,280.3 572.5,280.2 573,280.9 573.5,280.9 574,280.8 574.5,279.7 575,279.6 575.5,280.5 576,281 576.5,279.4 577,281 577.5,280.9 578,279.5 578.5,279.7 579,280.8 579.5,279.6 580,280.7 580.5,280.7 581,280.8 581.5,280.3 582,280.1 582.5,279.3 583,280.5 583.5,281.2 584,280.1 584.5,281.4 585,280.6 585.5,280.5 586,281.4 586.5,280.9 587,280.6 587.5,281.2 588,281.4 588.5,280.9 589,281.3 589.5,280.3 590,280.1 590.5,280.5 591,281 591.5,280.8 592,279.4 592.5,280.4 593,280.1 593.5,280.5 594,279.8 594.5,279.5 595,280.4 595.5,279.5 596,279.6 596.5,279.6 597,278.9 597.5,279.4 598,280.3 598.5,280.2 599,280.6 599.5,279.6 600,280.1 600.5,280.5 601,281 601.5,280.3 602,281.3 602.5,281.2 603,280.9 603.5,281.1 604,280 604.5,280.5 605,279.9 605.5,279.9 606,279.2 606.5,279.5 607,279.1 607.5,280.3 608,280.4 608.5,279.7 609,280.1 609.5,280.5 610,280.9 610.5,279.7 611,280.5 611.5,280.2 612,279.6 612.5,280.8 613,279.8 613.5,279.6 614,280.8 614.5,279.2 615,279.3 615.5,280.8 616,279.8 616.5,280.3 617,279.2 617.5,279.8 618,280 618.5,280.1 619,279.6 619.5,281.2 620,280.3 620.5,280.3 621,280.5 621.5,280.8 622,281.5 622.5,280.8 623,280.8 623.5,281.1 624,281 624.5,282.4 625,282.3 625.5,282.2 626,280.7 626.5,280 627,280.3 627.5,280.3 628,280.8 628.5,280.4 629,279.8 629.5,279.8 630,279.9 630.5,279.7 631,280.4 631.5,280.5 632,280.8 632.5,280.1 633,280.8 633.5,281.6 634,281.6 634.5,281.3 635,280.2 635.5,280.2 636,280.4 636.5,279.9 637,280.1 637.5,280.5 638,280.1 638.5,280.5 639,279.9 639.5,279.1 640,280.4 640.5,280.3 641,280.8 641.5,279.5 642,279.8 642.5,281 643,280.4 643.5,279.8 644,280 644.5,280.2 645,280.5 645.5,281.3 646,280.7 646.5,281.1 647,281.2 647.5,280.2 648,280.9 648.5,279.6 649,279.9 649.5,280.3 650,280 650.5,280 651,280.9 651.5,281.1 652,280.4 652.5,281 653,281 653.5,281 654,281.1 654.5,281.3 655,281.6 655.5,281 656,280.9 656.5,280.6 657,280.4 657.5,280.8 658,280.5 658.5,280.2 659,280.5 659.5,280.3 660,281.3 660.5,280.1 661,280.5 661.5,281.5 662,281.3 662.5,280.8 663,281.1 663.5,279.7 664,280 664.5,280.7 665,279.8 665.5,278.6 666,278.7 666.5,278.7 667,279.1 667.5,278.3 668,279.2 668.5,278.9 669,278.9 669.5,279.2 670,278.5 670.5,279.5 671,278.9 671.5,280 672,278 672.5,279 673,278.8 673.5,276.9 674,278.2 674.5,277.8 675,279.4 675.5,279.3 676,278.7 676.5,278.6 677,277.7 677.5,278.5 678,278 678,286 677.5,287.7 677,286.6 676.5,286.5 676,286.8 675.5,287.3 675,286.2 674.5,287.6 674,287.8 673.5,287 673,285.9 672.5,287.8 672,287.1 671.5,287.7 671,286.5 670.5,286.9 670,287.1 669.5,286.7 669,286.4 668.5,287.4 668,287.7 667.5,286.4 667,288.7 666.5,287.4 666,288.2 665.5,288.8 665,287.8 664.5,287.1 664,287.1 663.5,286.9 663,286.6 662.5,287 662,286 661.5,285.9 661,286.2 660.5,286.4 660,286.2 659.5,285.2 659,286.1 658.5,285.1 658,285.5 657.5,285.1 657,285.4 656.5,285.7 656,286.1 655.5,285.5 655,285 654.5,285.6 654,286.5 653.5,286.1 653,286.7 652.5,286.1 652,285.7 651.5,286.1 651,285.6 650.5,285.7 650,285.6 649.5,286.3 649,285.8 648.5,285.9 648,287 647.5,285.4 647,285.9 646.5,286.7 646,287.1 645.5,285.6 645,285.7 644.5,287.2 644,287.2 643.5,286.4 643,287.1 642.5,287.1 642,287.3 641.5,286.1 641,286 640.5,285.9 640,285.4 639.5,285.6 639,285.4 638.5,285.6 638,286 637.5,285.4 637,286.1 636.5,284.9 636,285 635.5,285.7 635,285.1 634.5,284.9 634,284.8 633.5,285.8 633,285.8 632.5,285.3 632,284.9 631.5,285.4 631,285.6 630.5,284.9 630,285.8 629.5,285.8 629,284.9 628.5,286.1 628,286 627.5,286.1 627,285.6 626.5,285.4 626,286.4 625.5,284.4 625,284.6 624.5,284.6 624,285.5 623.5,287.2 623,285.8 622.5,287.3 622,286.8 621.5,287.8 621,287 620.5,286.8 620,286.5 619.5,285.6 619,285.7 618.5,286.4 618,286.2 617.5,287 617,285.5 616.5,286.4 616,286 615.5,285.9 615,286.5 614.5,286.1 614,286.6 613.5,285.6 613,285.7 612.5,286.9 612,285.5 611.5,287 611,286.5 610.5,287.1 610,285.8 609.5,286.7 609,285.9 608.5,286.6 608,286.4 607.5,287.1 607,286.5 606.5,286.2 606,286.9 605.5,285.8 605,286.3 604.5,285.9 604,285.4 603.5,286.1 603,285.1 602.5,285.5 602,284.8 601.5,285 601,285.6 600.5,286.3 600,285.7 599.5,285.6 599,286.1 598.5,285.9 598,286.9 597.5,287.3 597,287 596.5,287.1 596,287.3 595.5,287.2 595,287 594.5,287.2 594,286.3 593.5,286.1 593,286 592.5,286.9 592,286 591.5,286.9 591,287.1 590.5,285.6 590,286.3 589.5,285.7 589,286.8 588.5,285.9 588,286.3 587.5,285.9 587,286.5 586.5,285.4 586,287.1 585.5,285.3 585,286.6 584.5,285.3 584,285.6 583.5,285.6 583,285.2 582.5,285.9 582,284.9 581.5,285.2 581,284.9 580.5,285 580,285.1 579.5,285.4 579,284.7 578.5,285.4 578,284.8 577.5,285.2 577,285.6 576.5,284.9 576,285.2 575.5,285 575,286.1 574.5,285.2 574,285.7 573.5,286.6 573,286.5 572.5,286.6 572,286.6 571.5,285.6 571,286.1 570.5,286.9 570,286.9 569.5,287 569,286.2 568.5,286.6 568,286.6 567.5,287.3 567,287.2 566.5,286.5 566,285.8 565.5,287.5 565,286.4 564.5,287.3 564,287.6 563.5,286.2 563,286.1 562.5,286.9 562,286.6 561.5,286.8 561,286.9 560.5,286 560,287 559.5,286.3 559,285.4 558.5,286.7 558,285.2 557.5,286.1 557,286.5 556.5,286.2 556,285.6 555.5,285.6 555,285.3 554.5,285.3 554,285.4 553.5,285.1 553,286.4 552.5,286.2 552,286 551.5,287 551,287 550.5,285.8 550,285.9 549.5,286.6 549,286.1 548.5,286.6 548,285.7 547.5,285.7 547,286.4 546.5,285.4 546,285.3 545.5,285.8 545,285.8 544.5,285.5 544,285.4 543.5,285.7 543,285.4 542.5,285.4 542,286.1 541.5,286 541,285.8 540.5,286.1 540,286.2 539.5,286 539,285.1 538.5,285.1 538,285.8 537.5,286.2 537,286.6 536.5,285.2 536,285.9 535.5,285.8 535,286.6 534.5,286.6 534,285.5 533.5,287.1 533,286.7 532.5,287.1 532,287.1 531.5,286.4 531,287.8 530.5,287.8 530,286.7 529.5,286.5 529,286.8 528.5,287 528,286.4 527.5,285.8 527,287.2 526.5,286.8 526,286.7 525.5,286.4 525,286.1 524.5,285.6 524,286.2 523.5,285.6 523,286.3 522.5,286.4 522,285.8 521.5,285.3 521,286 520.5,285.3 520,285.5 519.5,285.6 519,285.9 518.5,285.1 518,285.6 517.5,285.5 517,285.4 516.5,285.7 516,286.2 515.5,286.4 515,286.2 514.5,286.4 514,285.6 513.5,285.7 513,286.6 512.5,285.1 512,285.2 511.5,285.7 511,285.5 510.5,285.4 510,285.7 509.5,284.2 509,284 508.5,285 508,285.5 507.5,285.5 507,285.5 506.5,285.8 506,285.9 505.5,285.5 505,285.2 504.5,285.7 504,286.7 503.5,285.6 503,287 502.5,286.5 502,285.8 501.5,285.8 501,285.5 500.5,286.1 500,285.6 499.5,286.3 499,285.2 498.5,285.4 498,285.3 497.5,285 497,285.6 496.5,285.6 496,285.1 495.5,285.9 495,286.5 494.5,286.6 494,286.5 493.5,286.9 493,286.1 492.5,286.5 492,286 491.5,286.4 491,287.4 490.5,286.7 490,285.8 489.5,288.3 489,287.7 488.5,286.7 488,287.1 487.5,286.9 487,286.4 486.5,286.9 486,285.8 485.5,286.1 485,287 484.5,287.3 484,287 483.5,286.7 483,287.6 482.5,286.9 482,287.9Z" fill="#f0a4a4" fill-opacity="1" stroke="#f0a4a4" stroke-width="0.3" stroke-opacity="1"/>
<path d="M553.3,283.2V290M493.1,283.2V290M642,283.2V277.9M675.9,283.2V287.4M529.2,283.2V288.9M507.8,283.2V287.9M599.3,283.2V277.9M576.9,283.2V288.8M551.5,283.2V276.7M510,283.2V287.5M667.1,283.2V287.2M604.6,283.2V287.3M588.7,283.2V287.6M534.2,283.2V278.1M530.7,283.2V277M570.2,283.2V287.4M526.5,283.2V277.8M586.9,283.2V278.2M646.4,283.2V289.1M580,283.2V287.9M503.4,283.2V279M528.8,283.2V276.4M531.5,283.2V279.1M539.2,283.2V277.5M541.8,283.2V276.4M555.4,283.2V278.8M674.1,283.2V278.4M497.7,283.2V276.8M587.6,283.2V278.6M565.5,283.2V277.5M588.6,283.2V287.2M603.7,283.2V290M603.3,283.2V276.7M492.2,283.2V277.4M643.4,283.2V277.5M567.9,283.2V277.6M511.5,283.2V276.9M500.4,283.2V289.1M658.9,283.2V289M592.9,283.2V276.5M669.2,283.2V290M501.6,283.2V287.8M635.6,283.2V277.4M540.1,283.2V289.1M524.2,283.2V278.5M632.9,283.2V277.9M655,283.2V277.1M622.8,283.2V287.7M504,283.2V289.7M559.2,283.2V289.7M604.3,283.2V289.8M640.6,283.2V288.6M576.3,283.2V287.3M655.3,283.2V276.8M655.9,283.2V277M520.1,283.2V278.1M672.1,283.2V279M547.7,283.2V289.2M550.3,283.2V288.7M594.5,283.2V288.3M598.6,283.2V278.1M564.3,283.2V290.2M673.2,283.2V289.5M573.6,283.2V277.5M517.2,283.2V289.5M673.4,283.2V289.6M550.2,283.2V290.1M593.7,283.2V289.3M653.1,283.2V288.4M518.9,283.2V277.3" fill="none" stroke="#f0a4a4" stroke-width="0.8" stroke-opacity="1" stroke-linejoin="round"/>
<path d="M675,262V294M676.5,268V293M552,283V293M625.5,274V284" fill="none" stroke="#f0a4a4" stroke-width="0.9" stroke-opacity="1" stroke-linejoin="round"/>
<rect x="481.5" y="207.6" width="197.90" height="86.70" fill="none" stroke="#2a2a2a" stroke-width="1"/>
<line x1="478.5" y1="208.25" x2="481.5" y2="208.25" stroke="#2a2a2a" stroke-width="1"/>
<text x="477.2" y="212.05" font-size="13.5" letter-spacing="-1.35" text-anchor="end" class="t">35</text>
<line x1="478.5" y1="229.75" x2="481.5" y2="229.75" stroke="#2a2a2a" stroke-width="1"/>
<text x="477.2" y="233.55" font-size="13.5" letter-spacing="-1.35" text-anchor="end" class="t">25</text>
<line x1="478.5" y1="251.25" x2="481.5" y2="251.25" stroke="#2a2a2a" stroke-width="1"/>
<text x="477.2" y="255.05" font-size="13.5" letter-spacing="-1.35" text-anchor="end" class="t">15</text>
<line x1="478.5" y1="272.75" x2="481.5" y2="272.75" stroke="#2a2a2a" stroke-width="1"/>
<text x="477.2" y="276.55" font-size="13.5" letter-spacing="-1.35" text-anchor="end" class="t">5</text>
<line x1="478.5" y1="294.25" x2="481.5" y2="294.25" stroke="#2a2a2a" stroke-width="1"/>
<text x="477.2" y="298.05" font-size="13.5" letter-spacing="-1.35" text-anchor="end" class="t">-5</text>
<line x1="489.50" y1="294.3" x2="489.50" y2="297.3" stroke="#2a2a2a" stroke-width="1"/>
<text transform="translate(494.00,298.30) rotate(-90)" font-size="13.25" letter-spacing="-0.2" text-anchor="end" class="t2">2019/11/01</text>
<line x1="505.15" y1="294.3" x2="505.15" y2="297.3" stroke="#2a2a2a" stroke-width="1"/>
<text transform="translate(509.65,298.30) rotate(-90)" font-size="13.25" letter-spacing="-0.2" text-anchor="end" class="t2">2019/11/15</text>
<line x1="520.80" y1="294.3" x2="520.80" y2="297.3" stroke="#2a2a2a" stroke-width="1"/>
<text transform="translate(525.30,298.30) rotate(-90)" font-size="13.25" letter-spacing="-0.2" text-anchor="end" class="t2">2019/11/29</text>
<line x1="536.45" y1="294.3" x2="536.45" y2="297.3" stroke="#2a2a2a" stroke-width="1"/>
<text transform="translate(540.95,298.30) rotate(-90)" font-size="13.25" letter-spacing="-0.2" text-anchor="end" class="t2">2019/12/13</text>
<line x1="552.10" y1="294.3" x2="552.10" y2="297.3" stroke="#2a2a2a" stroke-width="1"/>
<text transform="translate(556.60,298.30) rotate(-90)" font-size="13.25" letter-spacing="-0.2" text-anchor="end" class="t2">2020/01/10</text>
<line x1="567.75" y1="294.3" x2="567.75" y2="297.3" stroke="#2a2a2a" stroke-width="1"/>
<text transform="translate(572.25,298.30) rotate(-90)" font-size="13.25" letter-spacing="-0.2" text-anchor="end" class="t2">2020/01/24</text>
<line x1="583.40" y1="294.3" x2="583.40" y2="297.3" stroke="#2a2a2a" stroke-width="1"/>
<text transform="translate(587.90,298.30) rotate(-90)" font-size="13.25" letter-spacing="-0.2" text-anchor="end" class="t2">2020/02/07</text>
<line x1="599.05" y1="294.3" x2="599.05" y2="297.3" stroke="#2a2a2a" stroke-width="1"/>
<text transform="translate(603.55,298.30) rotate(-90)" font-size="13.25" letter-spacing="-0.2" text-anchor="end" class="t2">2020/02/21</text>
<line x1="614.70" y1="294.3" x2="614.70" y2="297.3" stroke="#2a2a2a" stroke-width="1"/>
<text transform="translate(619.20,298.30) rotate(-90)" font-size="13.25" letter-spacing="-0.2" text-anchor="end" class="t2">2020/03/06</text>
<line x1="630.35" y1="294.3" x2="630.35" y2="297.3" stroke="#2a2a2a" stroke-width="1"/>
<text transform="translate(634.85,298.30) rotate(-90)" font-size="13.25" letter-spacing="-0.2" text-anchor="end" class="t2">2020/03/20</text>
<line x1="646.00" y1="294.3" x2="646.00" y2="297.3" stroke="#2a2a2a" stroke-width="1"/>
<text transform="translate(650.50,298.30) rotate(-90)" font-size="13.25" letter-spacing="-0.2" text-anchor="end" class="t2">2020/04/03</text>
<line x1="661.65" y1="294.3" x2="661.65" y2="297.3" stroke="#2a2a2a" stroke-width="1"/>
<text transform="translate(666.15,298.30) rotate(-90)" font-size="13.25" letter-spacing="-0.2" text-anchor="end" class="t2">2020/04/17</text>
<line x1="677.30" y1="294.3" x2="677.30" y2="297.3" stroke="#2a2a2a" stroke-width="1"/>
<text transform="translate(681.80,298.30) rotate(-90)" font-size="13.25" letter-spacing="-0.2" text-anchor="end" class="t2">2020/05/01</text>
<text transform="translate(467.70,246.00) rotate(-90)" font-size="8.3" text-anchor="middle" class="t">Unit(mm/h)</text>
<text transform="translate(587.7,368.0) scale(0.93,1)" font-size="13.3" text-anchor="middle" class="t">Date</text>
<text transform="translate(588.8,388.4) scale(0.92,1)" font-size="14.2" text-anchor="middle" fill="#111">(f)</text>
<rect x="20.60" y="410.00" width="20.80" height="87.50" fill="#dedede"/>
<rect x="62.20" y="410.00" width="20.80" height="87.50" fill="#dedede"/>
<rect x="103.80" y="410.00" width="20.80" height="87.50" fill="#dedede"/>
<rect x="145.40" y="410.00" width="20.80" height="87.50" fill="#dedede"/>
<rect x="187.00" y="410.00" width="20.80" height="87.50" fill="#dedede"/>
<circle cx="29.5" cy="417.9" r="5.5" fill="#b4b49c"/>
<path d="M29.50,413.45 30.75,416.56 34.10,416.79 31.53,418.95 32.34,422.20 29.50,420.42 26.66,422.20 27.47,418.95 24.90,416.79 28.25,416.56Z" fill="url(#sgA)"/>
<text x="38.300000000000004" y="420.9" font-size="13" letter-spacing="-1.05" fill="#fff" stroke="#fff" stroke-width="2.2" stroke-opacity="0.7" stroke-linejoin="round">Monitoring point GN7_655</text>
<text x="38.300000000000004" y="420.9" font-size="13" letter-spacing="-1.05" class="t">Monitoring point GN7_655</text>
<path d="M21,484.9 21.5,485.2 22,484.4 22.5,484.4 23,484.7 23.5,484.5 24,484.6 24.5,484.4 25,484.6 25.5,485.3 26,485.2 26.5,484.3 27,484.6 27.5,484.9 28,484.4 28.5,484.3 29,484.9 29.5,484.4 30,484.7 30.5,484.2 31,484.7 31.5,484.4 32,485 32.5,484.6 33,484.4 33.5,485 34,484.9 34.5,485 35,485 35.5,485.3 36,485 36.5,485 37,485.5 37.5,485.2 38,485.4 38.5,484.9 39,484.9 39.5,484.6 40,484.6 40.5,485.1 41,485.2 41.5,484.7 42,484.7 42.5,484.7 43,484.5 43.5,484.8 44,484.8 44.5,485 45,485 45.5,485 46,485.3 46.5,485.1 47,484.9 47.5,484.6 48,485.3 48.5,484.6 49,485.1 49.5,485.3 50,485.3 50.5,484.6 51,485 51.5,484.6 52,484.5 52.5,484.6 53,485 53.5,484.5 54,484.5 54.5,485 55,484.9 55.5,484.4 56,484.3 56.5,485.2 57,484.8 57.5,484.8 58,485.1 58.5,485.1 59,485.1 59.5,485.2 60,485.4 60.5,485.3 61,485.3 61.5,485.3 62,485 62.5,485.2 63,485.3 63.5,485.2 64,484.9 64.5,484.6 65,484.9 65.5,484.7 66,484.5 66.5,484.7 67,484.3 67.5,484.5 68,485.2 68.5,484.5 69,484.7 69.5,484.5 70,484.7 70.5,484.3 71,485.1 71.5,485 72,485.1 72.5,484.7 73,485.1 73.5,485.2 74,484.8 74.5,484.7 75,485 75.5,484.6 76,484.9 76.5,484.7 77,484.6 77.5,485 78,484.8 78.5,485.1 79,485.2 79.5,484.6 80,484.8 80.5,485.1 81,484.3 81.5,484.7 82,485 82.5,485.1 83,485.3 83.5,485.2 84,485.1 84.5,484.9 85,485.2 85.5,485.4 86,484.8 86.5,485.5 87,485.3 87.5,484.9 88,485.1 88.5,485.1 89,485.2 89.5,484.8 90,484.8 90.5,484.9 91,484.6 91.5,485 92,484.7 92.5,484.6 93,484.7 93.5,484.8 94,484.5 94.5,484.8 95,484.8 95.5,484.7 96,484.2 96.5,484.6 97,484.1 97.5,485.1 98,484.4 98.5,484.2 99,484.7 99.5,485.2 100,485.2 100.5,484.6 101,484.4 101.5,484.5 102,485.2 102.5,484.7 103,484.8 103.5,484.6 104,484.6 104.5,485 105,485.1 105.5,484.4 106,484.4 106.5,484.8 107,484.4 107.5,485.1 108,484.4 108.5,485.1 109,484.4 109.5,485 110,485 110.5,484.6 111,484.7 111.5,485.2 112,485.3 112.5,485.1 113,485 113.5,485.1 114,484.9 114.5,485 115,484.6 115.5,485.1 116,484.5 116.5,484.3 117,484.7 117.5,485.1 118,484.7 118.5,485.1 119,484.7 119.5,484.6 120,484.7 120.5,484.9 121,485.4 121.5,485.4 122,485.3 122.5,485.5 123,485.2 123.5,485.2 124,485.5 124.5,485.5 125,485.3 125.5,485.5 126,485 126.5,485.3 127,485.3 127.5,484.5 128,484.7 128.5,485.1 129,484.6 129.5,484.4 130,484.1 130.5,484.4 131,485.5 131.5,485.7 132,484.1 132.5,483.9 133,484.5 133.5,484.4 134,484.1 134.5,484.5 135,484.4 135.5,484.8 136,485.2 136.5,485.1 137,485.5 137.5,485.2 138,484.7 138.5,485.3 139,485.3 139.5,485 140,485.2 140.5,484.9 141,484.8 141.5,484.6 142,484.7 142.5,485.1 143,484.3 143.5,484.2 144,484.5 144.5,484.1 145,485 145.5,484.9 146,485 146.5,484.3 147,484.5 147.5,484.3 148,485.1 148.5,484.3 149,484.7 149.5,484.6 150,484.9 150.5,484.8 151,485.1 151.5,484.8 152,484.7 152.5,485.1 153,485 153.5,485.1 154,485 154.5,484.8 155,486 155.5,486 156,485.9 156.5,486 157,486 157.5,486 158,486 158.5,484.7 159,485.1 159.5,485 160,484.8 160.5,484.4 161,484.6 161.5,484.4 162,484.4 162.5,484.5 163,484.5 163.5,485.4 164,485.1 164.5,485.1 165,485.6 165.5,485.4 166,485 166.5,485 167,485.2 167.5,485.1 168,484.7 168.5,484.5 169,484.5 169.5,484.9 170,485 170.5,484.8 171,484.8 171.5,484.7 172,485.1 172.5,484.8 173,485.2 173.5,485.1 174,485.2 174.5,485.3 175,484.7 175.5,484.7 176,484.9 176.5,484.8 177,485.2 177.5,485 178,485.3 178.5,485.2 179,485.4 179.5,485.1 180,485.4 180.5,485.9 181,485.9 181.5,486 182,485.9 182.5,485.6 183,485.3 183.5,485.5 184,485.4 184.5,485.4 185,485 185.5,485 186,484.8 186.5,484.7 187,484.6 187.5,485.1 188,484.7 188.5,485 189,484.4 189.5,485.2 190,485.2 190.5,485 191,484.6 191.5,485.2 192,484.8 192.5,484.8 193,485.1 193.5,485.2 194,485.3 194.5,484.8 195,484.7 195.5,485.4 196,484.7 196.5,485.1 197,485 197.5,485.3 198,484.8 198.5,484.7 199,484.8 199.5,484.9 200,484.7 200.5,484.5 201,484.9 201.5,484.3 202,484.5 202.5,484.8 203,484.8 203.5,484.1 204,483.6 204.5,483.5 205,483.9 205.5,484.1 206,483.7 206.5,483.4 207,484.5 207.5,484.3 208,484.3 208.5,483.9 209,483.3 209.5,484.5 210,483.4 210.5,484.3 211,484.3 211.5,483.4 212,483.6 212.5,484 213,482.8 213.5,483.9 214,484.2 214.5,484.3 215,483.6 215.5,482.6 216,483.5 216.5,482.7 217,482.4 217.5,482.8 218,484 218.5,482.6 219,482.9 219.5,482.2 220,482.4 220.5,482.9 221,482.8 221.5,483.2 222,483.2 222.5,482.9 223,483.8 223,489.8 222.5,489.3 222,489.4 221.5,488.2 221,488 220.5,489 220,488.4 219.5,488.1 219,488.5 218.5,488.9 218,488.8 217.5,489.2 217,488.3 216.5,488.2 216,488.8 215.5,488.5 215,488.1 214.5,488.2 214,488.1 213.5,488.1 213,488.4 212.5,488.6 212,489 211.5,488 211,488.3 210.5,489 210,488.8 209.5,489.3 209,488.3 208.5,488.5 208,488.6 207.5,488.3 207,487.8 206.5,488.1 206,488.5 205.5,488.2 205,488.1 204.5,487.9 204,488.1 203.5,487.9 203,488.1 202.5,487.9 202,487.7 201.5,488 201,488.2 200.5,487.8 200,487.6 199.5,488.2 199,487.5 198.5,487.8 198,487.8 197.5,488 197,488.4 196.5,487.6 196,487.8 195.5,487.6 195,487.8 194.5,487.8 194,488.1 193.5,488.4 193,487.7 192.5,487.8 192,488.2 191.5,487.7 191,487.7 190.5,487.9 190,487.6 189.5,487.5 189,487.5 188.5,487.7 188,488 187.5,487.4 187,487.6 186.5,487.7 186,487.6 185.5,487.7 185,488.3 184.5,488.2 184,488.2 183.5,487.8 183,488.3 182.5,488.6 182,487 181.5,486.9 181,487 180.5,486.9 180,488.3 179.5,488.4 179,487.8 178.5,487.8 178,488.4 177.5,488.2 177,488.4 176.5,487.7 176,488.3 175.5,487.5 175,488.2 174.5,488 174,487.8 173.5,488 173,487.4 172.5,487.5 172,487.6 171.5,487.7 171,488 170.5,487.9 170,487.5 169.5,487.7 169,488.1 168.5,488.2 168,488.4 167.5,488.3 167,488.1 166.5,487.6 166,488 165.5,488.3 165,488.2 164.5,488.7 164,487.9 163.5,488.2 163,488 162.5,488.1 162,487.9 161.5,488.5 161,488.3 160.5,487.9 160,488 159.5,488.3 159,487.6 158.5,487.6 158,487 157.5,486.8 157,486.9 156.5,487 156,487 155.5,487 155,487.1 154.5,487.4 154,487.9 153.5,487.8 153,488.1 152.5,487.9 152,487.7 151.5,488.2 151,487.7 150.5,488.1 150,488.1 149.5,487.7 149,487.5 148.5,488.1 148,488.2 147.5,487.7 147,488.2 146.5,487.8 146,488.6 145.5,488.3 145,488.4 144.5,488.7 144,488 143.5,488 143,488.6 142.5,487.7 142,488.2 141.5,487.6 141,488 140.5,487.7 140,488 139.5,488.5 139,487.9 138.5,488.1 138,488.5 137.5,487.9 137,488.5 136.5,488.4 136,488 135.5,488.3 135,487.8 134.5,487.9 134,487.6 133.5,487.8 133,487.5 132.5,487.3 132,487.8 131.5,486.9 131,486.8 130.5,487.8 130,487.3 129.5,487.5 129,487.3 128.5,487.3 128,487.2 127.5,487.8 127,487.5 126.5,487.6 126,487.3 125.5,487.4 125,487.7 124.5,488 124,488.1 123.5,487.9 123,487.8 122.5,488.4 122,487.8 121.5,487.7 121,487.7 120.5,488.5 120,488.1 119.5,487.9 119,488.2 118.5,488 118,487.5 117.5,487.6 117,487.6 116.5,487.3 116,487.4 115.5,487.3 115,487.5 114.5,487.8 114,487.3 113.5,487.8 113,487.6 112.5,487.4 112,487.6 111.5,487.4 111,487.9 110.5,487.8 110,487.6 109.5,487.9 109,487.5 108.5,487.7 108,487.5 107.5,487.9 107,487.8 106.5,488.2 106,487.6 105.5,488.1 105,487.8 104.5,488.5 104,487.8 103.5,487.9 103,488.1 102.5,487.8 102,488 101.5,487.8 101,488.1 100.5,488.4 100,488 99.5,488 99,487.6 98.5,488.4 98,487.6 97.5,487.9 97,487.6 96.5,488 96,488.1 95.5,488.3 95,487.7 94.5,488.2 94,488.2 93.5,488 93,487.8 92.5,488.2 92,488 91.5,487.8 91,488.1 90.5,487.7 90,487.5 89.5,487.3 89,487.3 88.5,487.3 88,487.5 87.5,487.4 87,487.4 86.5,487.4 86,487.5 85.5,487.4 85,487.6 84.5,487.6 84,487.8 83.5,487.5 83,488 82.5,487.6 82,487.7 81.5,487.9 81,488 80.5,487.8 80,488.7 79.5,488.2 79,487.7 78.5,488.1 78,488.2 77.5,487.6 77,487.5 76.5,487.3 76,487.3 75.5,487.5 75,487.8 74.5,487.5 74,488.1 73.5,488.2 73,487.7 72.5,487.8 72,488 71.5,487.9 71,487.8 70.5,487.8 70,487.8 69.5,487.7 69,487.3 68.5,487.7 68,487.7 67.5,487.9 67,487.5 66.5,487.5 66,487.8 65.5,487.8 65,488 64.5,487.8 64,487.9 63.5,487.5 63,487.7 62.5,487.5 62,487.5 61.5,487.2 61,487.4 60.5,487.2 60,487.6 59.5,487.3 59,487.3 58.5,487.3 58,487.5 57.5,487.5 57,487.8 56.5,487.3 56,487.8 55.5,487.6 55,487.7 54.5,487.8 54,487.7 53.5,487.5 53,487.9 52.5,487.3 52,487.6 51.5,487.4 51,487.3 50.5,487.7 50,487.5 49.5,487.5 49,487.6 48.5,487.7 48,487.3 47.5,487.8 47,488 46.5,488 46,488.1 45.5,487.6 45,487.9 44.5,488.1 44,487.7 43.5,488 43,487.6 42.5,487.5 42,487.3 41.5,487.7 41,487.3 40.5,487.2 40,487.6 39.5,487.6 39,487.7 38.5,487.4 38,487.6 37.5,487.7 37,487.4 36.5,487.3 36,487.4 35.5,487.4 35,487.7 34.5,487.5 34,487.5 33.5,487.5 33,488 32.5,487.9 32,487.8 31.5,488.1 31,488.1 30.5,488.3 30,488 29.5,487.7 29,488.6 28.5,487.7 28,488 27.5,488 27,488.1 26.5,487.8 26,488.1 25.5,487.5 25,488.2 24.5,488 24,488.1 23.5,487.4 23,487.9 22.5,487.9 22,487.5 21.5,487.9 21,487.4Z" fill="#545b2d" fill-opacity="1" stroke="#545b2d" stroke-width="0.3" stroke-opacity="1"/>
<path d="M86.5,486.4V483.5M124.6,486.4V489.5M181,486.4V483.7M21.9,486.4V489.1M159.1,486.4V482.5M48.1,486.4V482.7M142.8,486.4V483.6M82,486.4V490.1M177.5,486.4V490.5M79,486.4V483.6M145.1,486.4V488.9M215.8,486.4V483.8M67.8,486.4V483.5M112.2,486.4V489.2M158.6,486.4V482.2M70.8,486.4V482.5M49.4,486.4V483.2M45.6,486.4V489.7M206.8,486.4V483.5M22.2,486.4V483.2M159.6,486.4V490.3M29.3,486.4V482.5M221.2,486.4V483.7M175.5,486.4V489.9M143.7,486.4V482.6M136.7,486.4V482.7M22.6,486.4V490M132.8,486.4V482.9M71.1,486.4V489.5M29.6,486.4V481.9M139.4,486.4V490.2M197.3,486.4V482.5M94.2,486.4V483.3M103.8,486.4V490.2M72.3,486.4V490.6M120.2,486.4V482.5M61.6,486.4V489.6M197.7,486.4V489.8M173.2,486.4V483.5M185.3,486.4V489.3M197.9,486.4V482.2M91,486.4V490M200.4,486.4V490.4M72.2,486.4V482.8M212.3,486.4V483.8M165.1,486.4V490.4M54.7,486.4V490.3M199.2,486.4V483.4M92.9,486.4V482M114.6,486.4V489.1" fill="none" stroke="#545b2d" stroke-width="0.8" stroke-opacity="1" stroke-linejoin="round"/>
<path d="M152.6,479.3V491.4M163.4,433V494.6M164.6,452.8V487M167.4,457.7V495M169.5,418V478.5M169.5,478V496M170.6,484V496.2M223.3,410V493" fill="none" stroke="#545b2d" stroke-width="0.9" stroke-opacity="1" stroke-linejoin="round"/>
<path d="M180,486.5 181.5,496.5 183,486.5" fill="none" stroke="#545b2d" stroke-width="0.9" stroke-opacity="1" stroke-linejoin="round"/>
<rect x="20.6" y="410.0" width="207.40" height="87.50" fill="none" stroke="#2a2a2a" stroke-width="1"/>
<line x1="17.6" y1="411.06" x2="20.6" y2="411.06" stroke="#2a2a2a" stroke-width="1"/>
<text x="16.3" y="414.86" font-size="13.5" letter-spacing="-1.35" text-anchor="end" class="t">70</text>
<line x1="17.6" y1="432.50" x2="20.6" y2="432.50" stroke="#2a2a2a" stroke-width="1"/>
<text x="16.3" y="436.30" font-size="13.5" letter-spacing="-1.35" text-anchor="end" class="t">50</text>
<line x1="17.6" y1="453.94" x2="20.6" y2="453.94" stroke="#2a2a2a" stroke-width="1"/>
<text x="16.3" y="457.74" font-size="13.5" letter-spacing="-1.35" text-anchor="end" class="t">30</text>
<line x1="17.6" y1="475.38" x2="20.6" y2="475.38" stroke="#2a2a2a" stroke-width="1"/>
<text x="16.3" y="479.18" font-size="13.5" letter-spacing="-1.35" text-anchor="end" class="t">10</text>
<line x1="17.6" y1="496.82" x2="20.6" y2="496.82" stroke="#2a2a2a" stroke-width="1"/>
<text x="16.3" y="500.62" font-size="13.5" letter-spacing="-1.35" text-anchor="end" class="t">-10</text>
<line x1="20.60" y1="497.5" x2="20.60" y2="500.5" stroke="#2a2a2a" stroke-width="1"/>
<text transform="translate(25.10,501.50) rotate(-90)" font-size="13.25" letter-spacing="-0.2" text-anchor="end" class="t2">2019/12/15</text>
<line x1="41.40" y1="497.5" x2="41.40" y2="500.5" stroke="#2a2a2a" stroke-width="1"/>
<text transform="translate(45.90,501.50) rotate(-90)" font-size="13.25" letter-spacing="-0.2" text-anchor="end" class="t2">2019/12/29</text>
<line x1="62.20" y1="497.5" x2="62.20" y2="500.5" stroke="#2a2a2a" stroke-width="1"/>
<text transform="translate(66.70,501.50) rotate(-90)" font-size="13.25" letter-spacing="-0.2" text-anchor="end" class="t2">2020/01/12</text>
<line x1="83.00" y1="497.5" x2="83.00" y2="500.5" stroke="#2a2a2a" stroke-width="1"/>
<text transform="translate(87.50,501.50) rotate(-90)" font-size="13.25" letter-spacing="-0.2" text-anchor="end" class="t2">2020/01/26</text>
<line x1="103.80" y1="497.5" x2="103.80" y2="500.5" stroke="#2a2a2a" stroke-width="1"/>
<text transform="translate(108.30,501.50) rotate(-90)" font-size="13.25" letter-spacing="-0.2" text-anchor="end" class="t2">2020/02/09</text>
<line x1="124.60" y1="497.5" x2="124.60" y2="500.5" stroke="#2a2a2a" stroke-width="1"/>
<text transform="translate(129.10,501.50) rotate(-90)" font-size="13.25" letter-spacing="-0.2" text-anchor="end" class="t2">2020/02/23</text>
<line x1="145.40" y1="497.5" x2="145.40" y2="500.5" stroke="#2a2a2a" stroke-width="1"/>
<text transform="translate(149.90,501.50) rotate(-90)" font-size="13.25" letter-spacing="-0.2" text-anchor="end" class="t2">2020/03/08</text>
<line x1="166.20" y1="497.5" x2="166.20" y2="500.5" stroke="#2a2a2a" stroke-width="1"/>
<text transform="translate(170.70,501.50) rotate(-90)" font-size="13.25" letter-spacing="-0.2" text-anchor="end" class="t2">2020/03/22</text>
<line x1="187.00" y1="497.5" x2="187.00" y2="500.5" stroke="#2a2a2a" stroke-width="1"/>
<text transform="translate(191.50,501.50) rotate(-90)" font-size="13.25" letter-spacing="-0.2" text-anchor="end" class="t2">2020/04/05</text>
<line x1="207.80" y1="497.5" x2="207.80" y2="500.5" stroke="#2a2a2a" stroke-width="1"/>
<text transform="translate(212.30,501.50) rotate(-90)" font-size="13.25" letter-spacing="-0.2" text-anchor="end" class="t2">2020/04/19</text>
<line x1="223.60" y1="497.5" x2="223.60" y2="500.5" stroke="#2a2a2a" stroke-width="1"/>
<text transform="translate(228.10,501.50) rotate(-90)" font-size="13.25" letter-spacing="-0.2" text-anchor="end" class="t2">2020/04/30</text>
<text transform="translate(6.00,446.90) rotate(-90)" font-size="8.3" text-anchor="middle" class="t">Unit(mm/h)</text>
<text transform="translate(132.2,572.8) scale(0.93,1)" font-size="13.3" text-anchor="middle" class="t">Date</text>
<text transform="translate(130.0,592.6) scale(0.92,1)" font-size="14.2" text-anchor="middle" fill="#111">(g)</text>
<rect x="254.40" y="410.00" width="15.60" height="87.60" fill="#dedede"/>
<rect x="285.60" y="410.00" width="15.60" height="87.60" fill="#dedede"/>
<rect x="316.80" y="410.00" width="15.60" height="87.60" fill="#dedede"/>
<rect x="348.00" y="410.00" width="15.60" height="87.60" fill="#dedede"/>
<rect x="379.20" y="410.00" width="15.60" height="87.60" fill="#dedede"/>
<rect x="410.40" y="410.00" width="15.60" height="87.60" fill="#dedede"/>
<rect x="441.60" y="410.00" width="15.60" height="87.60" fill="#dedede"/>
<circle cx="262.0" cy="417.9" r="4.8" fill="#c88a48"/>
<path d="M262.00,414.15 263.06,416.77 265.88,416.97 263.71,418.78 264.40,421.53 262.00,420.02 259.60,421.53 260.29,418.78 258.12,416.97 260.94,416.77Z" fill="url(#sgB)"/>
<text x="269.2" y="421.6" font-size="13" letter-spacing="-1.05" fill="#fff" stroke="#fff" stroke-width="2.2" stroke-opacity="0.7" stroke-linejoin="round">Monitoring point GN8_Ground surface</text>
<text x="269.2" y="421.6" font-size="13" letter-spacing="-1.05" class="t">Monitoring point GN8_Ground surface</text>
<path d="M255,481.8 255.5,481.3 256,481.6 256.5,481.7 257,481.9 257.5,482.3 258,482.2 258.5,481.2 259,480.9 259.5,480.9 260,481.1 260.5,482.3 261,481.3 261.5,480.8 262,482.3 262.5,481.7 263,481.7 263.5,482 264,482 264.5,482.3 265,481.5 265.5,482.4 266,482.2 266.5,482.4 267,482.6 267.5,482.1 268,482.2 268.5,482.6 269,482.5 269.5,482.1 270,482.4 270.5,482.8 271,482.7 271.5,482.1 272,482.6 272.5,482.2 273,482.8 273.5,482.3 274,482.3 274.5,482.7 275,482.8 275.5,482.6 276,483.8 276.5,483.7 277,481.9 277.5,482.8 278,482.4 278.5,482.5 279,482 279.5,481.6 280,481.5 280.5,481.8 281,482.5 281.5,482.4 282,482.1 282.5,481.6 283,482.3 283.5,482.5 284,481.2 284.5,482.2 285,481.8 285.5,481.6 286,482.2 286.5,482.2 287,482.6 287.5,481.6 288,481.8 288.5,482.4 289,482.3 289.5,482 290,482.4 290.5,482 291,482 291.5,483.5 292,483.6 292.5,481.7 293,482.4 293.5,482.7 294,482.5 294.5,482.9 295,482.9 295.5,483.1 296,482.7 296.5,482.8 297,483.1 297.5,482.8 298,482.9 298.5,482.3 299,482.7 299.5,482.7 300,482.7 300.5,482.6 301,481.7 301.5,481.7 302,481.7 302.5,481.3 303,480.6 303.5,481.3 304,481.4 304.5,481.1 305,481.5 305.5,481.3 306,482.1 306.5,481.1 307,481.1 307.5,481.8 308,481.4 308.5,480.6 309,482.1 309.5,481.8 310,481.4 310.5,481.2 311,481.7 311.5,481.4 312,481 312.5,481.4 313,481.9 313.5,481.8 314,481.1 314.5,482 315,481.7 315.5,481.8 316,481.5 316.5,482.5 317,482.4 317.5,481.6 318,482.3 318.5,482.7 319,482.2 319.5,482.7 320,482.6 320.5,481.7 321,482.4 321.5,481.9 322,481.5 322.5,482.5 323,482.4 323.5,481.2 324,482.6 324.5,482 325,482.5 325.5,482 326,482.1 326.5,482.3 327,482.6 327.5,482 328,482.6 328.5,481.8 329,482.3 329.5,482 330,482 330.5,482.5 331,482 331.5,482.4 332,481.8 332.5,481.8 333,481.8 333.5,481.9 334,481.8 334.5,481.8 335,482.3 335.5,482.2 336,482.5 336.5,481.4 337,482.1 337.5,481.4 338,481.7 338.5,481.2 339,480.9 339.5,481 340,482.2 340.5,481 341,481.4 341.5,482.1 342,481.6 342.5,481.6 343,481.2 343.5,481.8 344,480.6 344.5,480.7 345,481.8 345.5,481.9 346,480.8 346.5,480.6 347,481.2 347.5,480.9 348,481.7 348.5,481.6 349,482.2 349.5,481.8 350,482.7 350.5,481.9 351,482.4 351.5,482.1 352,482.5 352.5,483 353,482.2 353.5,482.4 354,482.5 354.5,482.2 355,482.7 355.5,482.6 356,482.3 356.5,482.6 357,482.6 357.5,482.7 358,482.3 358.5,482 359,482.9 359.5,482.7 360,481.9 360.5,482.4 361,482.1 361.5,482.2 362,482.5 362.5,481.7 363,481.8 363.5,482.2 364,482.4 364.5,481.4 365,482.3 365.5,482.2 366,482.3 366.5,481.6 367,481.4 367.5,481.6 368,482.3 368.5,482.1 369,482.5 369.5,481.5 370,482.4 370.5,481.7 371,482 371.5,481.7 372,482.4 372.5,482.7 373,482.2 373.5,482.1 374,481.7 374.5,482.1 375,482.5 375.5,482.5 376,481.9 376.5,481.9 377,482.4 377.5,482.9 378,482.1 378.5,482 379,482.2 379.5,482.4 380,482.2 380.5,482.5 381,482.6 381.5,482.9 382,483 382.5,483 383,482.9 383.5,482.7 384,482.3 384.5,482.2 385,482.7 385.5,482.3 386,482.3 386.5,482.3 387,482.3 387.5,482.4 388,482.2 388.5,482.7 389,482.4 389.5,482.4 390,482.7 390.5,482.1 391,482.7 391.5,482.2 392,482.2 392.5,482.2 393,482.3 393.5,482.8 394,482.1 394.5,482.1 395,482.1 395.5,482.7 396,482.4 396.5,481.8 397,481.8 397.5,481.2 398,482.5 398.5,481.7 399,482.1 399.5,481.4 400,480.9 400.5,481.2 401,481.3 401.5,481.1 402,481.2 402.5,481.8 403,481.8 403.5,481.6 404,481.6 404.5,483.6 405,483.6 405.5,483.8 406,483.8 406.5,483.6 407,483.7 407.5,482.2 408,481.8 408.5,482.6 409,481.7 409.5,482.8 410,482.3 410.5,482.4 411,482.3 411.5,482 412,482.5 412.5,481.9 413,482.6 413.5,481.1 414,481.7 414.5,481.2 415,481 415.5,481.7 416,481.1 416.5,482 417,482.1 417.5,481.7 418,481.5 418.5,482.2 419,482 419.5,482.6 420,482.1 420.5,482.4 421,481.5 421.5,481.6 422,482.1 422.5,481.6 423,482.1 423.5,480.8 424,480.7 424.5,481 425,482 425.5,481.2 426,482 426.5,482.3 427,482.3 427.5,482 428,482.3 428.5,481.7 429,482.4 429.5,482.6 430,482.5 430.5,482.9 431,483 431.5,482.6 432,482 432.5,482 433,481.9 433.5,482.3 434,482.8 434.5,482.6 435,482.2 435.5,482.2 436,482.1 436.5,482.8 437,481.9 437.5,482 438,482.8 438.5,482 439,482.5 439.5,482 440,482.2 440.5,481.8 441,481.7 441.5,481.9 442,481.9 442.5,481.2 443,481.8 443.5,480.2 444,480.1 444.5,480.4 445,480.9 445.5,480.5 446,480.7 446.5,481.2 447,478.9 447.5,480.6 448,480.4 448.5,480.3 449,479.1 449.5,479.9 450,479.4 450.5,480.4 451,480 451.5,478.4 452,480.1 452.5,480.7 453,477.9 453.5,479.6 454,480.3 454.5,479.6 455,479.8 455.5,477.4 456,479.1 456.5,478.4 457,479.1 457,490.1 456.5,490.4 456,489.7 455.5,488.8 455,489.7 454.5,491 454,489.7 453.5,490.5 453,490.4 452.5,490.2 452,489.2 451.5,488 451,487.9 450.5,488.5 450,487.5 449.5,487.5 449,487.2 448.5,489.1 448,487.6 447.5,487.1 447,488.4 446.5,487 446,488.3 445.5,488.1 445,488.1 444.5,487.5 444,486.7 443.5,487.2 443,486.7 442.5,486.5 442,486.8 441.5,487.2 441,486.4 440.5,486.4 440,487.1 439.5,487.3 439,487.1 438.5,486.1 438,486.3 437.5,486.9 437,486.7 436.5,486.2 436,486.3 435.5,487.1 435,486.7 434.5,487.2 434,486.2 433.5,487.4 433,487.1 432.5,487.4 432,486.4 431.5,487 431,487.3 430.5,487.5 430,486.5 429.5,486.3 429,486.5 428.5,486.7 428,487 427.5,486.2 427,486.9 426.5,486 426,486.3 425.5,486.6 425,486 424.5,486.5 424,486.7 423.5,485.7 423,485.7 422.5,486.6 422,486.6 421.5,485.8 421,486.1 420.5,485.9 420,485.7 419.5,485.9 419,486 418.5,486.1 418,486 417.5,486.5 417,486.8 416.5,486.9 416,486.5 415.5,487.5 415,486.8 414.5,487 414,486.7 413.5,486.3 413,487.1 412.5,486.6 412,485.9 411.5,486.2 411,486.2 410.5,486.1 410,486.7 409.5,486.9 409,487.1 408.5,486 408,486.1 407.5,487 407,484.8 406.5,484.6 406,484.7 405.5,484.7 405,484.7 404.5,484.8 404,487 403.5,487 403,486.7 402.5,486.2 402,487 401.5,486.4 401,487.1 400.5,487 400,486.7 399.5,486.3 399,486.4 398.5,487.2 398,486.3 397.5,486.7 397,487.2 396.5,487 396,486 395.5,486.5 395,486.4 394.5,486.7 394,486.2 393.5,487 393,487.2 392.5,486.8 392,486.3 391.5,486.4 391,487.1 390.5,486.3 390,487.2 389.5,487.4 389,486.8 388.5,487.1 388,487.6 387.5,486.9 387,486.9 386.5,486.5 386,487.6 385.5,487.7 385,487.1 384.5,487.4 384,486.2 383.5,486.7 383,486.2 382.5,486.6 382,486.3 381.5,486 381,486.4 380.5,486.5 380,485.8 379.5,485.5 379,485.8 378.5,486 378,485.8 377.5,485.6 377,486.4 376.5,485.8 376,485.7 375.5,485.9 375,485.5 374.5,486.2 374,486.2 373.5,486.8 373,486 372.5,486.6 372,486.8 371.5,486.2 371,487 370.5,486.1 370,487 369.5,486 369,486.3 368.5,486.7 368,486.2 367.5,486.4 367,486.5 366.5,486.1 366,486 365.5,486.3 365,486.4 364.5,486.4 364,486.5 363.5,486 363,485.6 362.5,486.3 362,486.8 361.5,486.6 361,486 360.5,487.1 360,486.4 359.5,486.7 359,486.5 358.5,487.3 358,486.1 357.5,486.4 357,486.2 356.5,486.3 356,486.5 355.5,486.4 355,487.2 354.5,487 354,485.9 353.5,486.3 353,486.1 352.5,486.1 352,485.9 351.5,486.2 351,486 350.5,486.2 350,485.8 349.5,486.5 349,486.3 348.5,486 348,485.8 347.5,486.6 347,487.2 346.5,486.1 346,487.2 345.5,486.6 345,486.7 344.5,486.8 344,485.9 343.5,486.4 343,486.3 342.5,486.7 342,486.3 341.5,486.7 341,486.6 340.5,486.4 340,486.5 339.5,486.9 339,486.2 338.5,486 338,487.1 337.5,486.3 337,486.3 336.5,486.6 336,486.4 335.5,486 335,486.1 334.5,486.5 334,486.6 333.5,486.2 333,486.6 332.5,485.8 332,485.8 331.5,485.5 331,486.2 330.5,485.7 330,486.1 329.5,486.4 329,485.5 328.5,486 328,486.1 327.5,486 327,486.2 326.5,486.3 326,485.9 325.5,486.1 325,486.6 324.5,486 324,486.3 323.5,487.1 323,486.6 322.5,486.4 322,487.7 321.5,486.3 321,486 320.5,486.2 320,487 319.5,486.8 319,486.1 318.5,486.2 318,486 317.5,486.6 317,486.6 316.5,486.2 316,486.5 315.5,486 315,486.3 314.5,485.8 314,486.6 313.5,485.7 313,485.7 312.5,486.3 312,486.4 311.5,486.8 311,485.9 310.5,486.5 310,486.3 309.5,486.3 309,485.8 308.5,486.8 308,486.6 307.5,486.6 307,486.3 306.5,486.2 306,486 305.5,486.8 305,487 304.5,486 304,485.9 303.5,486.5 303,487.1 302.5,487 302,487 301.5,486 301,486.6 300.5,486.6 300,486.6 299.5,486.4 299,486.3 298.5,487.3 298,486.1 297.5,486.7 297,486.8 296.5,486.1 296,486 295.5,486.8 295,486 294.5,486.8 294,485.9 293.5,486.8 293,485.8 292.5,486.7 292,484.8 291.5,484.7 291,486.1 290.5,487 290,486.7 289.5,485.7 289,486.6 288.5,486.2 288,486.1 287.5,485.6 287,485.8 286.5,486.1 286,486.2 285.5,486 285,485.7 284.5,486.5 284,485.9 283.5,485.9 283,487 282.5,486.6 282,486.7 281.5,486.8 281,486.8 280.5,486.7 280,486.9 279.5,486.2 279,486.3 278.5,486.4 278,486.1 277.5,486.8 277,486.8 276.5,484.9 276,484.9 275.5,487.2 275,487 274.5,486.1 274,486.2 273.5,486.3 273,486 272.5,486.7 272,486 271.5,485.9 271,485.7 270.5,485.4 270,486.1 269.5,486.3 269,486 268.5,485.8 268,486.2 267.5,486.5 267,486 266.5,486.7 266,486.6 265.5,486.1 265,486.5 264.5,486.7 264,487.6 263.5,486.6 263,486.8 262.5,487.5 262,487 261.5,486.1 261,487.2 260.5,486.5 260,485.8 259.5,485.9 259,486.4 258.5,486.1 258,486.5 257.5,485.7 257,486.5 256.5,486 256,486.8 255.5,487.2 255,486.2Z" fill="#c4843f" fill-opacity="1" stroke="#c4843f" stroke-width="0.3" stroke-opacity="1"/>
<path d="M385.6,484.2V478.2M447.2,484.2V478.2M440.2,484.2V487.9M444.7,484.2V478.9M382.2,484.2V489.4M283.2,484.2V479.1M428.4,484.2V488M367.8,484.2V489.8M455.5,484.2V480.3M387.8,484.2V488.6M392.7,484.2V480M431,484.2V479.8M267.6,484.2V488.6M411.5,484.2V489.3M416.5,484.2V478.5M442.5,484.2V479.1M264.2,484.2V489.8M435.3,484.2V488.2M258.3,484.2V489.8M422.2,484.2V488.3M303,484.2V479M429.5,484.2V489.3M427.6,484.2V478.5M360.4,484.2V479M414.3,484.2V479.3M436.2,484.2V489.6M450.6,484.2V479.5M316.3,484.2V488.7M327.2,484.2V479.1M258.1,484.2V488.2" fill="none" stroke="#c4843f" stroke-width="0.8" stroke-opacity="1" stroke-linejoin="round"/>
<path d="M455.8,460V497M456.4,470V497M454,466V495M451,472V494" fill="none" stroke="#c4843f" stroke-width="0.9" stroke-opacity="1" stroke-linejoin="round"/>
<rect x="254.4" y="410.0" width="203.20" height="87.60" fill="none" stroke="#2a2a2a" stroke-width="1"/>
<line x1="251.4" y1="409.98" x2="254.4" y2="409.98" stroke="#2a2a2a" stroke-width="1"/>
<text x="250.1" y="413.78" font-size="13.5" letter-spacing="-1.35" text-anchor="end" class="t">30</text>
<line x1="251.4" y1="422.45" x2="254.4" y2="422.45" stroke="#2a2a2a" stroke-width="1"/>
<text x="250.1" y="426.25" font-size="13.5" letter-spacing="-1.35" text-anchor="end" class="t">25</text>
<line x1="251.4" y1="434.92" x2="254.4" y2="434.92" stroke="#2a2a2a" stroke-width="1"/>
<text x="250.1" y="438.72" font-size="13.5" letter-spacing="-1.35" text-anchor="end" class="t">20</text>
<line x1="251.4" y1="447.39" x2="254.4" y2="447.39" stroke="#2a2a2a" stroke-width="1"/>
<text x="250.1" y="451.19" font-size="13.5" letter-spacing="-1.35" text-anchor="end" class="t">15</text>
<line x1="251.4" y1="459.86" x2="254.4" y2="459.86" stroke="#2a2a2a" stroke-width="1"/>
<text x="250.1" y="463.66" font-size="13.5" letter-spacing="-1.35" text-anchor="end" class="t">10</text>
<line x1="251.4" y1="472.33" x2="254.4" y2="472.33" stroke="#2a2a2a" stroke-width="1"/>
<text x="250.1" y="476.13" font-size="13.5" letter-spacing="-1.35" text-anchor="end" class="t">5</text>
<line x1="251.4" y1="484.80" x2="254.4" y2="484.80" stroke="#2a2a2a" stroke-width="1"/>
<text x="250.1" y="488.60" font-size="13.5" letter-spacing="-1.35" text-anchor="end" class="t">0</text>
<line x1="251.4" y1="497.27" x2="254.4" y2="497.27" stroke="#2a2a2a" stroke-width="1"/>
<text x="250.1" y="501.07" font-size="13.5" letter-spacing="-1.35" text-anchor="end" class="t">-5</text>
<line x1="254.40" y1="497.6" x2="254.40" y2="500.6" stroke="#2a2a2a" stroke-width="1"/>
<text transform="translate(258.90,501.60) rotate(-90)" font-size="13.25" letter-spacing="-0.2" text-anchor="end" class="t2">2019/11/01</text>
<line x1="270.00" y1="497.6" x2="270.00" y2="500.6" stroke="#2a2a2a" stroke-width="1"/>
<text transform="translate(274.50,501.60) rotate(-90)" font-size="13.25" letter-spacing="-0.2" text-anchor="end" class="t2">2019/11/15</text>
<line x1="285.60" y1="497.6" x2="285.60" y2="500.6" stroke="#2a2a2a" stroke-width="1"/>
<text transform="translate(290.10,501.60) rotate(-90)" font-size="13.25" letter-spacing="-0.2" text-anchor="end" class="t2">2019/11/29</text>
<line x1="301.20" y1="497.6" x2="301.20" y2="500.6" stroke="#2a2a2a" stroke-width="1"/>
<text transform="translate(305.70,501.60) rotate(-90)" font-size="13.25" letter-spacing="-0.2" text-anchor="end" class="t2">2019/12/13</text>
<line x1="316.80" y1="497.6" x2="316.80" y2="500.6" stroke="#2a2a2a" stroke-width="1"/>
<text transform="translate(321.30,501.60) rotate(-90)" font-size="13.25" letter-spacing="-0.2" text-anchor="end" class="t2">2019/12/27</text>
<line x1="332.40" y1="497.6" x2="332.40" y2="500.6" stroke="#2a2a2a" stroke-width="1"/>
<text transform="translate(336.90,501.60) rotate(-90)" font-size="13.25" letter-spacing="-0.2" text-anchor="end" class="t2">2020/01/10</text>
<line x1="348.00" y1="497.6" x2="348.00" y2="500.6" stroke="#2a2a2a" stroke-width="1"/>
<text transform="translate(352.50,501.60) rotate(-90)" font-size="13.25" letter-spacing="-0.2" text-anchor="end" class="t2">2020/01/24</text>
<line x1="363.60" y1="497.6" x2="363.60" y2="500.6" stroke="#2a2a2a" stroke-width="1"/>
<text transform="translate(368.10,501.60) rotate(-90)" font-size="13.25" letter-spacing="-0.2" text-anchor="end" class="t2">2020/02/07</text>
<line x1="379.20" y1="497.6" x2="379.20" y2="500.6" stroke="#2a2a2a" stroke-width="1"/>
<text transform="translate(383.70,501.60) rotate(-90)" font-size="13.25" letter-spacing="-0.2" text-anchor="end" class="t2">2020/02/21</text>
<line x1="394.80" y1="497.6" x2="394.80" y2="500.6" stroke="#2a2a2a" stroke-width="1"/>
<text transform="translate(399.30,501.60) rotate(-90)" font-size="13.25" letter-spacing="-0.2" text-anchor="end" class="t2">2020/03/06</text>
<line x1="410.40" y1="497.6" x2="410.40" y2="500.6" stroke="#2a2a2a" stroke-width="1"/>
<text transform="translate(414.90,501.60) rotate(-90)" font-size="13.25" letter-spacing="-0.2" text-anchor="end" class="t2">2020/03/20</text>
<line x1="426.00" y1="497.6" x2="426.00" y2="500.6" stroke="#2a2a2a" stroke-width="1"/>
<text transform="translate(430.50,501.60) rotate(-90)" font-size="13.25" letter-spacing="-0.2" text-anchor="end" class="t2">2020/04/03</text>
<line x1="441.60" y1="497.6" x2="441.60" y2="500.6" stroke="#2a2a2a" stroke-width="1"/>
<text transform="translate(446.10,501.60) rotate(-90)" font-size="13.25" letter-spacing="-0.2" text-anchor="end" class="t2">2020/04/17</text>
<line x1="457.20" y1="497.6" x2="457.20" y2="500.6" stroke="#2a2a2a" stroke-width="1"/>
<text transform="translate(461.70,501.60) rotate(-90)" font-size="13.25" letter-spacing="-0.2" text-anchor="end" class="t2">2020/05/01</text>
<text transform="translate(237.40,446.90) rotate(-90)" font-size="8.3" text-anchor="middle" class="t">Unit(mm/h)</text>
<text transform="translate(360.0,572.8) scale(0.93,1)" font-size="13.3" text-anchor="middle" class="t">Date</text>
<text transform="translate(358.8,592.6) scale(0.92,1)" font-size="14.2" text-anchor="middle" fill="#111">(h)</text>
<rect x="482.50" y="411.40" width="50.80" height="86.40" fill="#dedede"/>
<rect x="584.30" y="411.40" width="50.70" height="86.40" fill="#dedede"/>
<circle cx="492.4" cy="418.9" r="5.5" fill="#bca6dc"/>
<path d="M492.40,414.35 493.68,417.53 497.11,417.77 494.47,419.97 495.31,423.30 492.40,421.47 489.49,423.30 490.33,419.97 487.69,417.77 491.12,417.53Z" fill="url(#sgA)"/>
<text x="500.5" y="422.9" font-size="13" letter-spacing="-1.05" fill="#fff" stroke="#fff" stroke-width="2.2" stroke-opacity="0.7" stroke-linejoin="round">Monitoring point GN9_North #1</text>
<text x="500.5" y="422.9" font-size="13" letter-spacing="-1.05" class="t">Monitoring point GN9_North #1</text>
<path d="M483.1,475.9 484.8,478.5 486.6,477.7 488.3,472.4 489.2,474.2 491.4,469.8 492.3,482 493.1,469.8 493.6,482 494.5,470.7 495.8,470.7 497.1,473.3 498,471.5 499.3,479.4 501,475 502.3,478.5 503.5,469.3 504.5,483.4 505.8,478.5 507.2,481.2 508.5,476.8 509.3,479.4 510.2,476.8 511.1,478.5 512,475.9 513.1,481.2 514.2,474.2 515.9,472 516.8,477.7 517.7,475 519,478.5 519.9,475 521.6,478.1 583.9,420.8 584.5,428 585,420 585.3,473.3 586.5,477 588,476 590,478 592,482 593,477 595,476 597,473 599,475 600.5,467 602,475 603,471 605,479 607,476 609,481 611,476 614,474 616,466 617.5,476 619,469 621,467 623,480 624.5,469 626,478 628,473 630,463 631,478 633,472 635,465 635.8,411.4 M644.7,411.4 644.7,497 645.3,481.2 646.2,497 647,485 648,494 650,486 653,479 655,476.6 656,481 657.5,478 658,484 659,482 660,475.6" fill="none" stroke="#b97fcb" stroke-width="1.1" stroke-opacity="1" stroke-linejoin="round"/>
<rect x="482.5" y="411.4" width="198.50" height="86.40" fill="none" stroke="#2a2a2a" stroke-width="1"/>
<line x1="479.5" y1="411.90" x2="482.5" y2="411.90" stroke="#2a2a2a" stroke-width="1"/>
<text x="478.2" y="415.70" font-size="13.5" letter-spacing="-1.35" text-anchor="end" class="t">15</text>
<line x1="479.5" y1="433.40" x2="482.5" y2="433.40" stroke="#2a2a2a" stroke-width="1"/>
<text x="478.2" y="437.20" font-size="13.5" letter-spacing="-1.35" text-anchor="end" class="t">10</text>
<line x1="479.5" y1="454.90" x2="482.5" y2="454.90" stroke="#2a2a2a" stroke-width="1"/>
<text x="478.2" y="458.70" font-size="13.5" letter-spacing="-1.35" text-anchor="end" class="t">5</text>
<line x1="479.5" y1="476.40" x2="482.5" y2="476.40" stroke="#2a2a2a" stroke-width="1"/>
<text x="478.2" y="480.20" font-size="13.5" letter-spacing="-1.35" text-anchor="end" class="t">0</text>
<line x1="479.5" y1="497.90" x2="482.5" y2="497.90" stroke="#2a2a2a" stroke-width="1"/>
<text x="478.2" y="501.70" font-size="13.5" letter-spacing="-1.35" text-anchor="end" class="t">-5</text>
<line x1="482.50" y1="497.8" x2="482.50" y2="500.8" stroke="#2a2a2a" stroke-width="1"/>
<text transform="translate(487.00,501.80) rotate(-90)" font-size="13.25" letter-spacing="-0.2" text-anchor="end" class="t2">2020/04/27</text>
<line x1="533.30" y1="497.8" x2="533.30" y2="500.8" stroke="#2a2a2a" stroke-width="1"/>
<text transform="translate(537.80,501.80) rotate(-90)" font-size="13.25" letter-spacing="-0.2" text-anchor="end" class="t2">2020/04/28</text>
<line x1="584.30" y1="497.8" x2="584.30" y2="500.8" stroke="#2a2a2a" stroke-width="1"/>
<text transform="translate(588.80,501.80) rotate(-90)" font-size="13.25" letter-spacing="-0.2" text-anchor="end" class="t2">2020/04/29</text>
<line x1="635.00" y1="497.8" x2="635.00" y2="500.8" stroke="#2a2a2a" stroke-width="1"/>
<text transform="translate(639.50,501.80) rotate(-90)" font-size="13.25" letter-spacing="-0.2" text-anchor="end" class="t2">2020/04/30</text>
<text transform="translate(468.40,448.80) rotate(-90)" font-size="8.3" text-anchor="middle" class="t">Unit(mm/h)</text>
<text transform="translate(587.7,572.8) scale(0.93,1)" font-size="13.3" text-anchor="middle" class="t">Date</text>
<text transform="translate(587.2,592.6) scale(0.92,1)" font-size="14.2" text-anchor="middle" fill="#111">(i)</text>
<rect x="19.40" y="615.20" width="51.20" height="87.00" fill="#dedede"/>
<rect x="121.60" y="615.20" width="50.80" height="87.00" fill="#dedede"/>
<circle cx="29.3" cy="626.0" r="5.4" fill="#cfeef2"/>
<path d="M29.30,622.92 30.17,625.08 32.48,625.23 30.70,626.72 31.27,628.98 29.30,627.74 27.33,628.98 27.90,626.72 26.12,625.23 28.43,625.08Z" fill="url(#sgC)"/>
<text x="38.1" y="628.9" font-size="13" letter-spacing="-1.05" fill="#fff" stroke="#fff" stroke-width="2.2" stroke-opacity="0.7" stroke-linejoin="round">Monitoring point GN10_North#3</text>
<text x="38.1" y="628.9" font-size="13" letter-spacing="-1.05" class="t">Monitoring point GN10_North#3</text>
<path d="M19.4,701 22,700.5 25,701.2 28,700.6 30,699.5 31,701.5 33,700 36,700.3 40,699.8 45,699.6 50,700.2 54,699.4 58,699.3 62,699.6 66,699.4 70.6,700 80,701 90,701.6 100,701.8 110,702 120,702.2 121.6,702 125,701 130,700 133,699 135,700 138,699 140,698.5 143,699.3 144,701 146,698 148,698.5 150,700 153,700 156,700.5 157,700 160,698 162,697 165,695 167,694 167.5,696.5 168,694 169,695 170,693.5 171,696 172,694.5 173.5,695 174,693 175.5,694 176.5,615.2 M188,615.2 190.6,642.2 192,615.2 M192.9,615.2 193.8,701.6 195.5,702" fill="none" stroke="#1a8ca8" stroke-width="1.2" stroke-opacity="1" stroke-linejoin="round"/>
<rect x="19.3" y="615.2" width="203.70" height="87.00" fill="none" stroke="#2a2a2a" stroke-width="1"/>
<line x1="16.3" y1="615.30" x2="19.3" y2="615.30" stroke="#2a2a2a" stroke-width="1"/>
<text x="15.0" y="619.10" font-size="13.5" letter-spacing="-1.35" text-anchor="end" class="t">100</text>
<line x1="16.3" y1="632.64" x2="19.3" y2="632.64" stroke="#2a2a2a" stroke-width="1"/>
<text x="15.0" y="636.44" font-size="13.5" letter-spacing="-1.35" text-anchor="end" class="t">80</text>
<line x1="16.3" y1="649.98" x2="19.3" y2="649.98" stroke="#2a2a2a" stroke-width="1"/>
<text x="15.0" y="653.78" font-size="13.5" letter-spacing="-1.35" text-anchor="end" class="t">60</text>
<line x1="16.3" y1="667.32" x2="19.3" y2="667.32" stroke="#2a2a2a" stroke-width="1"/>
<text x="15.0" y="671.12" font-size="13.5" letter-spacing="-1.35" text-anchor="end" class="t">40</text>
<line x1="16.3" y1="684.66" x2="19.3" y2="684.66" stroke="#2a2a2a" stroke-width="1"/>
<text x="15.0" y="688.46" font-size="13.5" letter-spacing="-1.35" text-anchor="end" class="t">20</text>
<line x1="16.3" y1="702.00" x2="19.3" y2="702.00" stroke="#2a2a2a" stroke-width="1"/>
<text x="15.0" y="705.80" font-size="13.5" letter-spacing="-1.35" text-anchor="end" class="t">0</text>
<line x1="19.40" y1="702.2" x2="19.40" y2="705.2" stroke="#2a2a2a" stroke-width="1"/>
<text transform="translate(23.90,706.20) rotate(-90)" font-size="13.25" letter-spacing="-0.2" text-anchor="end" class="t2">2020/04/27</text>
<line x1="70.60" y1="702.2" x2="70.60" y2="705.2" stroke="#2a2a2a" stroke-width="1"/>
<text transform="translate(75.10,706.20) rotate(-90)" font-size="13.25" letter-spacing="-0.2" text-anchor="end" class="t2">2020/04/28</text>
<line x1="121.60" y1="702.2" x2="121.60" y2="705.2" stroke="#2a2a2a" stroke-width="1"/>
<text transform="translate(126.10,706.20) rotate(-90)" font-size="13.25" letter-spacing="-0.2" text-anchor="end" class="t2">2020/04/29</text>
<line x1="172.40" y1="702.2" x2="172.40" y2="705.2" stroke="#2a2a2a" stroke-width="1"/>
<text transform="translate(176.90,706.20) rotate(-90)" font-size="13.25" letter-spacing="-0.2" text-anchor="end" class="t2">2020/04/30</text>
<line x1="223.00" y1="702.2" x2="223.00" y2="705.2" stroke="#2a2a2a" stroke-width="1"/>
<text transform="translate(227.50,706.20) rotate(-90)" font-size="13.25" letter-spacing="-0.2" text-anchor="end" class="t2">2020/05/01</text>
<text transform="translate(5.80,655.10) rotate(-90)" font-size="8.3" text-anchor="middle" class="t">Unit(mm/h)</text>
<text transform="translate(132.2,781.5) scale(0.93,1)" font-size="13.3" text-anchor="middle" class="t">Date</text>
<text transform="translate(128.5,807.6999999999999) scale(0.92,1)" font-size="14.2" text-anchor="middle" fill="#111">(j)</text>
<rect x="254.60" y="616.60" width="40.40" height="86.60" fill="#dedede"/>
<rect x="335.40" y="616.60" width="40.40" height="86.60" fill="#dedede"/>
<rect x="416.20" y="616.60" width="40.80" height="86.60" fill="#dedede"/>
<circle cx="260.6" cy="626.4" r="4.4" fill="#e6d830"/>
<path d="M260.60,622.76 261.62,625.31 264.37,625.49 262.26,627.26 262.93,629.92 260.60,628.46 258.27,629.92 258.94,627.26 256.83,625.49 259.58,625.31Z" fill="url(#sgB)"/>
<text x="267.2" y="628.7" font-size="13" letter-spacing="-1.05" fill="#fff" stroke="#fff" stroke-width="2.2" stroke-opacity="0.7" stroke-linejoin="round">Monitoring point GN11_South</text>
<text x="267.2" y="628.7" font-size="13" letter-spacing="-1.05" class="t">Monitoring point GN11_South</text>
<path d="M281.3,668.5 282.4,671.1 284.6,669.3 286.4,665 287.3,667.2 288.1,666.3 289,668 290.3,667.2 291.2,668.5 293,665.8 294.7,670.7 296.9,667.6 299.5,661 300.6,663.2 301.3,661 302.6,665.8 303.5,660.6 304.8,661.9 307.4,666.3 309.6,669.8 310.9,665.4 312.7,672.4 314.4,665 315.7,671.5 317,665.8 318.4,669.8 319.7,662.8 320.5,670.2 321.9,661.5 323.2,670.7 324.5,667.2 325.4,665.4 326.7,668 375.2,624.2 376.5,664.2 377,664.2 379.3,668.9 381.6,660.8 383.4,666.6 385.1,663.1 386.8,668.9 388.6,664.2 390.3,665.4 392.1,659.6 393.8,663.1 395.5,657.3 397.3,660.8 398.4,655.5 399.6,667.7 400.8,659.6 401.9,667.7 403.7,658.4 405.4,663.1 407.2,660.8 409.5,656.1 411.2,651.5 412,646.3 412.7,660.8 413.5,616.6 M415.3,616.6 415.3,702.5 416.2,702.5 416.2,616.6 M424.6,616.6 424.8,702.5 425.3,616.6 425.6,702.5 426.1,616.6 426.4,702 426.9,677 428,672.4 429.8,668.9 431,667.7 432.1,670 433.3,667.2 434.4,674.7 435.6,668.9 436.8,669.5" fill="none" stroke="#e0d23c" stroke-width="1.1" stroke-opacity="1" stroke-linejoin="round"/>
<rect x="254.3" y="616.6" width="202.70" height="86.60" fill="none" stroke="#2a2a2a" stroke-width="1"/>
<line x1="251.3" y1="616.85" x2="254.3" y2="616.85" stroke="#2a2a2a" stroke-width="1"/>
<text x="250.0" y="620.65" font-size="13.5" letter-spacing="-1.35" text-anchor="end" class="t">15</text>
<line x1="251.3" y1="634.10" x2="254.3" y2="634.10" stroke="#2a2a2a" stroke-width="1"/>
<text x="250.0" y="637.90" font-size="13.5" letter-spacing="-1.35" text-anchor="end" class="t">10</text>
<line x1="251.3" y1="651.35" x2="254.3" y2="651.35" stroke="#2a2a2a" stroke-width="1"/>
<text x="250.0" y="655.15" font-size="13.5" letter-spacing="-1.35" text-anchor="end" class="t">5</text>
<line x1="251.3" y1="668.60" x2="254.3" y2="668.60" stroke="#2a2a2a" stroke-width="1"/>
<text x="250.0" y="672.40" font-size="13.5" letter-spacing="-1.35" text-anchor="end" class="t">0</text>
<line x1="251.3" y1="685.85" x2="254.3" y2="685.85" stroke="#2a2a2a" stroke-width="1"/>
<text x="250.0" y="689.65" font-size="13.5" letter-spacing="-1.35" text-anchor="end" class="t">-5</text>
<line x1="251.3" y1="703.10" x2="254.3" y2="703.10" stroke="#2a2a2a" stroke-width="1"/>
<text x="250.0" y="706.90" font-size="13.5" letter-spacing="-1.35" text-anchor="end" class="t">-10</text>
<line x1="254.60" y1="703.2" x2="254.60" y2="706.2" stroke="#2a2a2a" stroke-width="1"/>
<text transform="translate(259.10,707.20) rotate(-90)" font-size="13.25" letter-spacing="-0.2" text-anchor="end" class="t2">2020/04/26</text>
<line x1="295.00" y1="703.2" x2="295.00" y2="706.2" stroke="#2a2a2a" stroke-width="1"/>
<text transform="translate(299.50,707.20) rotate(-90)" font-size="13.25" letter-spacing="-0.2" text-anchor="end" class="t2">2020/04/27</text>
<line x1="335.40" y1="703.2" x2="335.40" y2="706.2" stroke="#2a2a2a" stroke-width="1"/>
<text transform="translate(339.90,707.20) rotate(-90)" font-size="13.25" letter-spacing="-0.2" text-anchor="end" class="t2">2020/04/28</text>
<line x1="375.80" y1="703.2" x2="375.80" y2="706.2" stroke="#2a2a2a" stroke-width="1"/>
<text transform="translate(380.30,707.20) rotate(-90)" font-size="13.25" letter-spacing="-0.2" text-anchor="end" class="t2">2020/04/29</text>
<line x1="416.20" y1="703.2" x2="416.20" y2="706.2" stroke="#2a2a2a" stroke-width="1"/>
<text transform="translate(420.70,707.20) rotate(-90)" font-size="13.25" letter-spacing="-0.2" text-anchor="end" class="t2">2020/04/30</text>
<line x1="456.80" y1="703.2" x2="456.80" y2="706.2" stroke="#2a2a2a" stroke-width="1"/>
<text transform="translate(461.30,707.20) rotate(-90)" font-size="13.25" letter-spacing="-0.2" text-anchor="end" class="t2">2020/05/01</text>
<text transform="translate(238.40,657.50) rotate(-90)" font-size="8.3" text-anchor="middle" class="t">Unit(mm/h)</text>
<text transform="translate(360.2,781.5) scale(0.93,1)" font-size="13.3" text-anchor="middle" class="t">Date</text>
<text transform="translate(358.9,807.6999999999999) scale(0.92,1)" font-size="14.2" text-anchor="middle" fill="#111">(k)</text>
<rect x="489.00" y="615.60" width="50.70" height="87.10" fill="#dedede"/>
<rect x="590.60" y="615.60" width="50.80" height="87.10" fill="#dedede"/>
<circle cx="498.1" cy="625.8" r="4.7" fill="#d42828"/>
<path d="M498.10,622.12 499.13,624.70 501.90,624.89 499.77,626.66 500.45,629.35 498.10,627.88 495.75,629.35 496.43,626.66 494.30,624.89 497.07,624.70Z" fill="url(#sgB)"/>
<text x="504.5" y="628.7" font-size="13" letter-spacing="-1.05" fill="#fff" stroke="#fff" stroke-width="2.2" stroke-opacity="0.7" stroke-linejoin="round">Monitoring point GN12</text>
<text x="504.5" y="628.7" font-size="13" letter-spacing="-1.05" class="t">Monitoring point GN12</text>
<path d="M489.2,687.5 495,687 500,686.8 505,686.6 510,686.8 516.5,686.4 590.1,698 590.5,687.5 591,687.4 591.8,687.1 592.6,687.2 593.4,687.3 594.2,687 595,687.8 595.8,687.4 596.6,687.8 597.4,687.3 598.2,687.5 599,687.3 599.8,686.9 600.6,687.5 601.4,687.6 602.2,687.1 603,686.8 603.8,687.1 604.6,686.9 605.4,687.1 606.2,687 607,687 607.8,687.1 608.6,687.1 609.4,687.3 610.2,687.3 611,686.7 611.8,686.5 612.6,686.5 613.4,686.7 614.2,686.7 615,687.1 615.8,687.2 616.6,687.2 617.4,687 618.2,686.2 619,686.9 619.8,687 620.6,686.7 621.4,686.8 622.2,687 623,687 623.8,686.4 624.6,686 625.4,686 626.2,686.4 627,686.9 627.8,686.6 628.6,686.9 629.4,686.8 630.2,686.6 631,686.5 631.8,686.7 632.6,686.1 633.4,686.7 634.2,685.8 635,685.7 635.8,685.9 636.6,686.5 637.4,686 638.2,686 639,685.8 639.8,686.4 640.6,685.5 643.9,686.3 644.5,667.7 645.3,681.6 645.7,615.6 M662.5,615.6 663.9,688 665.5,687.5" fill="none" stroke="#d84848" stroke-width="0.8" stroke-opacity="0.8" stroke-linejoin="round"/>
<path d="M657.3,649.1 658.5,615.6 M659.5,615.6 660.5,634.6 661,615.6" fill="none" stroke="#c82028" stroke-width="1.4" stroke-opacity="1" stroke-linejoin="round"/>
<circle cx="657.3" cy="649.1" r="1.6" fill="#c82028"/>
<rect x="488.5" y="615.6" width="192.90" height="87.10" fill="none" stroke="#2a2a2a" stroke-width="1"/>
<line x1="485.5" y1="615.50" x2="488.5" y2="615.50" stroke="#2a2a2a" stroke-width="1"/>
<text x="484.2" y="619.30" font-size="13.5" letter-spacing="-1.35" text-anchor="end" class="t">150</text>
<line x1="485.5" y1="630.00" x2="488.5" y2="630.00" stroke="#2a2a2a" stroke-width="1"/>
<text x="484.2" y="633.80" font-size="13.5" letter-spacing="-1.35" text-anchor="end" class="t">120</text>
<line x1="485.5" y1="644.50" x2="488.5" y2="644.50" stroke="#2a2a2a" stroke-width="1"/>
<text x="484.2" y="648.30" font-size="13.5" letter-spacing="-1.35" text-anchor="end" class="t">90</text>
<line x1="485.5" y1="659.00" x2="488.5" y2="659.00" stroke="#2a2a2a" stroke-width="1"/>
<text x="484.2" y="662.80" font-size="13.5" letter-spacing="-1.35" text-anchor="end" class="t">60</text>
<line x1="485.5" y1="673.50" x2="488.5" y2="673.50" stroke="#2a2a2a" stroke-width="1"/>
<text x="484.2" y="677.30" font-size="13.5" letter-spacing="-1.35" text-anchor="end" class="t">30</text>
<line x1="485.5" y1="688.00" x2="488.5" y2="688.00" stroke="#2a2a2a" stroke-width="1"/>
<text x="484.2" y="691.80" font-size="13.5" letter-spacing="-1.35" text-anchor="end" class="t">0</text>
<line x1="485.5" y1="702.50" x2="488.5" y2="702.50" stroke="#2a2a2a" stroke-width="1"/>
<text x="484.2" y="706.30" font-size="13.5" letter-spacing="-1.35" text-anchor="end" class="t">-30</text>
<line x1="489.00" y1="702.7" x2="489.00" y2="705.7" stroke="#2a2a2a" stroke-width="1"/>
<text transform="translate(493.50,706.70) rotate(-90)" font-size="13.25" letter-spacing="-0.2" text-anchor="end" class="t2">2020/04/27</text>
<line x1="539.70" y1="702.7" x2="539.70" y2="705.7" stroke="#2a2a2a" stroke-width="1"/>
<text transform="translate(544.20,706.70) rotate(-90)" font-size="13.25" letter-spacing="-0.2" text-anchor="end" class="t2">2020/04/28</text>
<line x1="590.60" y1="702.7" x2="590.60" y2="705.7" stroke="#2a2a2a" stroke-width="1"/>
<text transform="translate(595.10,706.70) rotate(-90)" font-size="13.25" letter-spacing="-0.2" text-anchor="end" class="t2">2020/04/29</text>
<line x1="641.40" y1="702.7" x2="641.40" y2="705.7" stroke="#2a2a2a" stroke-width="1"/>
<text transform="translate(645.90,706.70) rotate(-90)" font-size="13.25" letter-spacing="-0.2" text-anchor="end" class="t2">2020/04/30</text>
<text transform="translate(471.20,655.50) rotate(-90)" font-size="8.3" text-anchor="middle" class="t">Unit(mm/h)</text>
<text transform="translate(587.7,781.5) scale(0.93,1)" font-size="13.3" text-anchor="middle" class="t">Date</text>
<text transform="translate(587.4,807.6999999999999) scale(0.92,1)" font-size="14.2" text-anchor="middle" fill="#111">(l)</text>
</svg></body></html>
